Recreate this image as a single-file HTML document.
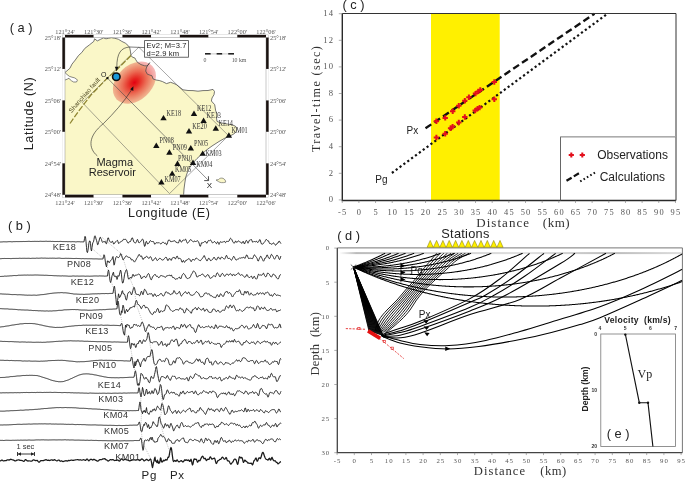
<!DOCTYPE html>
<html><head><meta charset="utf-8"><style>
html,body{margin:0;padding:0;background:#fff;}
svg{display:block;will-change:transform;}
</style></head><body>
<svg width="685" height="482" viewBox="0 0 685 482">
<rect width="685" height="482" fill="#fff"/>
<text x="9.8" y="32.4" font-size="12.8" font-family="'Liberation Sans', sans-serif" fill="#222" text-anchor="start" >( a )</text>
<path d="M65.0,72.4 L67.0,70.8 L69.9,68.3 L72.0,64.1 L75.3,60.0 L78.5,55.5 L81.8,52.5 L84.7,48.5 L89.4,44.9 L93.8,41.4 L94.6,38.8 L97.3,40.9 L100.8,39.2 L103.4,37.9 L106.0,38.8 L108.6,38.3 L111.3,37.7 L114.8,38.3 L118.3,39.2 L121.8,41.4 L125.3,43.1 L127.9,45.3 L129.7,47.5 L130.5,51.9 L131.0,55.4 L132.3,57.1 L134.9,58.0 L135.8,59.8 L137.5,62.4 L141.0,64.6 L144.7,65.8 L147.3,65.9 L146.3,68.0 L145.7,71.1 L147.3,74.2 L152.0,75.8 L153.0,78.9 L156.1,80.0 L159.2,80.5 L162.3,81.5 L166.5,83.6 L170.6,82.3 L174.0,83.5 L176.6,84.8 L180.0,87.5 L183.0,89.8 L188.0,90.5 L193.0,90.6 L198.0,91.2 L203.0,90.6 L208.0,90.5 L213.0,89.4 L214.5,91.5 L214.0,94.7 L212.0,98.0 L211.4,101.0 L214.7,104.7 L215.7,110.9 L218.0,115.0 L216.5,118.0 L217.0,121.4 L220.0,122.6 L223.6,123.4 L227.5,124.0 L231.5,124.7 L234.0,125.5 L236.0,126.7 L236.8,129.0 L236.2,131.5 L234.5,133.5 L231.0,135.5 L226.0,137.5 L219.0,141.5 L212.0,146.0 L206.5,150.0 L202.0,154.0 L197.0,158.5 L193.4,162.5 L190.0,167.0 L187.5,172.0 L185.8,177.0 L184.8,183.0 L184.0,189.0 L183.6,194.8 L65.0,194.8 Z" stroke="none" stroke-width="0.7" fill="#faf7c8" />
<path d="M65.0,72.6 L67.0,74.5 L69.5,76.4 L72.0,77.2 L74.4,77.8 L76.5,79.0 L77.4,80.2 L76.5,82.0 L73.6,82.0 L71.5,80.8 L70.3,79.9 L69.0,78.2 L67.2,79.2 L65.0,80.0 Z" stroke="none" stroke-width="0.6" fill="#fff" />
<defs><radialGradient id="blob" cx="0.5" cy="0.5" r="0.5"><stop offset="0" stop-color="#e80016"/><stop offset="0.2" stop-color="#ea2628"/><stop offset="0.55" stop-color="#f0706c"/><stop offset="0.88" stop-color="#f4aaa8"/><stop offset="1" stop-color="#f6bcba"/></radialGradient></defs>
<ellipse cx="0" cy="0" rx="24.5" ry="17.6" fill="url(#blob)" style="mix-blend-mode:multiply" transform="translate(134.4,82.6) rotate(-43)"/>
<path d="M65.0,72.4 L67.0,70.8 L69.9,68.3 L72.0,64.1 L75.3,60.0 L78.5,55.5 L81.8,52.5 L84.7,48.5 L89.4,44.9 L93.8,41.4 L94.6,38.8 L97.3,40.9 L100.8,39.2 L103.4,37.9 L106.0,38.8 L108.6,38.3 L111.3,37.7 L114.8,38.3 L118.3,39.2 L121.8,41.4 L125.3,43.1 L127.9,45.3 L129.7,47.5 L130.5,51.9 L131.0,55.4 L132.3,57.1 L134.9,58.0 L135.8,59.8 L137.5,62.4 L141.0,64.6 L144.7,65.8 L147.3,65.9 L146.3,68.0 L145.7,71.1 L147.3,74.2 L152.0,75.8 L153.0,78.9 L156.1,80.0 L159.2,80.5 L162.3,81.5 L166.5,83.6 L170.6,82.3 L174.0,83.5 L176.6,84.8 L180.0,87.5 L183.0,89.8 L188.0,90.5 L193.0,90.6 L198.0,91.2 L203.0,90.6 L208.0,90.5 L213.0,89.4 L214.5,91.5 L214.0,94.7 L212.0,98.0 L211.4,101.0 L214.7,104.7 L215.7,110.9 L218.0,115.0 L216.5,118.0 L217.0,121.4 L220.0,122.6 L223.6,123.4 L227.5,124.0 L231.5,124.7 L234.0,125.5 L236.0,126.7 L236.8,129.0 L236.2,131.5 L234.5,133.5 L231.0,135.5 L226.0,137.5 L219.0,141.5 L212.0,146.0 L206.5,150.0 L202.0,154.0 L197.0,158.5 L193.4,162.5 L190.0,167.0 L187.5,172.0 L185.8,177.0 L184.8,183.0 L184.0,189.0 L183.6,194.8" stroke="#4a4a4a" stroke-width="0.75" fill="none" />
<path d="M65.0,72.6 L67.0,74.5 L69.5,76.4 L72.0,77.2 L74.4,77.8 L76.5,79.0 L77.4,80.2 L76.5,82.0 L73.6,82.0 L71.5,80.8 L70.3,79.9 L69.0,78.2 L67.2,79.2 L65.0,80.0" stroke="#4a4a4a" stroke-width="0.65" fill="none" />
<path d="M216,180 L218.5,179.6 C219.5,178.1 221.5,177.8 223,178.3 C224.6,179 226,180.8 225.6,182.2 C223,183 220,182.8 218.5,181.6 Z" stroke="#555" stroke-width="0.6" fill="#faf7c8" />
<path d="M147.3,65.9 L149.8,62.6" stroke="#333" stroke-width="1.0" fill="none" />
<path d="M138.8,47.2 L228.5,135.6 L169.5,193.6 L82.3,102.5 Z" stroke="#505050" stroke-width="0.5" fill="none" />
<path d="M107.4,78.1 L208.4,180.4" stroke="#444" stroke-width="0.6" fill="none" />
<path d="M204.2,180.6 L208.6,180.6 L208.4,176.2" stroke="#333" stroke-width="0.85" fill="none" />
<text x="206.8" y="188.4" font-size="8" font-family="'Liberation Sans', sans-serif" fill="#222" text-anchor="start" >X</text>
<path d="M131,55.5 L116.5,70 L107.3,78.1 L91.1,94.9 L78.7,111 L70,123.5" stroke="#8f8530" stroke-width="1.25" fill="none" stroke-dasharray="6 1.8"/>
<text x="0.0" y="0.0" font-size="6.4" font-family="'Liberation Sans', sans-serif" fill="#55502a" text-anchor="start" transform="translate(71.6,113.2) rotate(-49)">Shanchiao fault</text>
<text x="101.0" y="76.6" font-size="7" font-family="'Liberation Sans', sans-serif" fill="#222" text-anchor="start" >O</text>
<circle cx="107.4" cy="78.1" r="1.2" fill="#111"/>
<rect x="144.6" y="40.6" width="43.8" height="16.6" fill="#fff" stroke="#444" stroke-width="0.8"/>
<text x="146.6" y="48.2" font-size="7.6" font-family="'Liberation Sans', sans-serif" fill="#222" text-anchor="start" letter-spacing="0.15">Ev2; M=3.7</text>
<text x="146.6" y="55.8" font-size="7.6" font-family="'Liberation Sans', sans-serif" fill="#222" text-anchor="start" letter-spacing="0.15">d=2.9 km</text>
<path d="M144.6,47.6 L130,47 C121,47.5 116.8,53 116.8,67.5" stroke="#222" stroke-width="0.6" fill="none" />
<path d="M116.6,71.2 L114.8,66.8 L118.5,66.8 Z" stroke="none" stroke-width="1" fill="#111" />
<circle cx="116.3" cy="76.8" r="3.75" fill="#1a9ad8" stroke="#111" stroke-width="1.6"/>
<path d="M97.3,155.9 C88,148 88,136 103.5,123.5 C114,113 124,102 131.8,89.5" stroke="#222" stroke-width="0.6" fill="none" />
<path d="M133.4,86.2 L133.3,91 L130.2,89.2 Z" stroke="none" stroke-width="1" fill="#111" />
<text x="114.8" y="165.8" font-size="11" font-family="'Liberation Sans', sans-serif" fill="#222" text-anchor="middle" >Magma</text>
<text x="112.3" y="175.8" font-size="11" font-family="'Liberation Sans', sans-serif" fill="#222" text-anchor="middle" >Reservoir</text>
<path d="M160.3,120.3 L166.7,120.3 L163.5,114.9 Z" stroke="none" stroke-width="1" fill="#111" />
<path d="M190.8,115.9 L197.2,115.9 L194.0,110.5 Z" stroke="none" stroke-width="1" fill="#111" />
<path d="M200.4,122.9 L206.8,122.9 L203.6,117.5 Z" stroke="none" stroke-width="1" fill="#111" />
<path d="M185.8,133.4 L192.2,133.4 L189.0,128.0 Z" stroke="none" stroke-width="1" fill="#111" />
<path d="M212.6,130.7 L219.0,130.7 L215.8,125.3 Z" stroke="none" stroke-width="1" fill="#111" />
<path d="M225.7,137.7 L232.1,137.7 L228.9,132.3 Z" stroke="none" stroke-width="1" fill="#111" />
<path d="M153.1,147.9 L159.5,147.9 L156.3,142.5 Z" stroke="none" stroke-width="1" fill="#111" />
<path d="M166.2,154.7 L172.6,154.7 L169.4,149.3 Z" stroke="none" stroke-width="1" fill="#111" />
<path d="M187.6,150.4 L194.0,150.4 L190.8,145.0 Z" stroke="none" stroke-width="1" fill="#111" />
<path d="M199.5,155.8 L205.9,155.8 L202.7,150.4 Z" stroke="none" stroke-width="1" fill="#111" />
<path d="M174.3,166.0 L180.7,166.0 L177.5,160.6 Z" stroke="none" stroke-width="1" fill="#111" />
<path d="M189.8,164.9 L196.2,164.9 L193.0,159.5 Z" stroke="none" stroke-width="1" fill="#111" />
<path d="M169.0,175.8 L175.4,175.8 L172.2,170.4 Z" stroke="none" stroke-width="1" fill="#111" />
<path d="M158.2,184.4 L164.6,184.4 L161.4,179.0 Z" stroke="none" stroke-width="1" fill="#111" />
<text x="0" y="0" font-size="8.4" font-family="'Liberation Serif', serif" fill="#333" transform="translate(166.6,116.1) scale(0.74,1)">KE18</text>
<text x="0" y="0" font-size="8.4" font-family="'Liberation Serif', serif" fill="#333" transform="translate(197.0,111.4) scale(0.74,1)">KE12</text>
<text x="0" y="0" font-size="8.4" font-family="'Liberation Serif', serif" fill="#333" transform="translate(206.4,118.4) scale(0.74,1)">KE13</text>
<text x="0" y="0" font-size="8.4" font-family="'Liberation Serif', serif" fill="#333" transform="translate(192.3,129.0) scale(0.74,1)">KE20</text>
<text x="0" y="0" font-size="8.4" font-family="'Liberation Serif', serif" fill="#333" transform="translate(218.4,125.7) scale(0.74,1)">KE14</text>
<text x="0" y="0" font-size="8.4" font-family="'Liberation Serif', serif" fill="#333" transform="translate(231.5,133.4) scale(0.74,1)">KM01</text>
<text x="0" y="0" font-size="8.4" font-family="'Liberation Serif', serif" fill="#333" transform="translate(159.6,143.1) scale(0.74,1)">PN08</text>
<text x="0" y="0" font-size="8.4" font-family="'Liberation Serif', serif" fill="#333" transform="translate(172.7,150.1) scale(0.74,1)">PN09</text>
<text x="0" y="0" font-size="8.4" font-family="'Liberation Serif', serif" fill="#333" transform="translate(194.0,145.8) scale(0.74,1)">PN05</text>
<text x="0" y="0" font-size="8.4" font-family="'Liberation Serif', serif" fill="#333" transform="translate(205.4,155.8) scale(0.74,1)">KM03</text>
<text x="0" y="0" font-size="8.4" font-family="'Liberation Serif', serif" fill="#333" transform="translate(178.0,161.0) scale(0.74,1)">PN10</text>
<text x="0" y="0" font-size="8.4" font-family="'Liberation Serif', serif" fill="#333" transform="translate(196.2,167.4) scale(0.74,1)">KM04</text>
<text x="0" y="0" font-size="8.4" font-family="'Liberation Serif', serif" fill="#333" transform="translate(174.9,171.9) scale(0.74,1)">KM05</text>
<text x="0" y="0" font-size="8.4" font-family="'Liberation Serif', serif" fill="#333" transform="translate(164.4,182.4) scale(0.74,1)">KM07</text>
<rect x="62.4" y="34.9" width="206.2" height="162.5" fill="none" stroke="#aaa" stroke-width="0.4"/>
<rect x="65.00" y="34.90" width="28.71" height="2.6" fill="#1a1210"/>
<rect x="65.00" y="194.80" width="28.71" height="2.6" fill="#1a1210"/>
<rect x="93.71" y="34.90" width="28.71" height="2.6" fill="#fff"/>
<rect x="93.71" y="194.80" width="28.71" height="2.6" fill="#fff"/>
<rect x="122.43" y="34.90" width="28.71" height="2.6" fill="#1a1210"/>
<rect x="122.43" y="194.80" width="28.71" height="2.6" fill="#1a1210"/>
<rect x="151.14" y="34.90" width="28.71" height="2.6" fill="#fff"/>
<rect x="151.14" y="194.80" width="28.71" height="2.6" fill="#fff"/>
<rect x="179.86" y="34.90" width="28.71" height="2.6" fill="#1a1210"/>
<rect x="179.86" y="194.80" width="28.71" height="2.6" fill="#1a1210"/>
<rect x="208.57" y="34.90" width="28.71" height="2.6" fill="#fff"/>
<rect x="208.57" y="194.80" width="28.71" height="2.6" fill="#fff"/>
<rect x="237.29" y="34.90" width="28.71" height="2.6" fill="#1a1210"/>
<rect x="237.29" y="194.80" width="28.71" height="2.6" fill="#1a1210"/>
<rect x="62.40" y="37.50" width="2.6" height="31.46" fill="#1a1210"/>
<rect x="266.00" y="37.50" width="2.6" height="31.46" fill="#1a1210"/>
<rect x="62.40" y="68.96" width="2.6" height="31.46" fill="#fff"/>
<rect x="266.00" y="68.96" width="2.6" height="31.46" fill="#fff"/>
<rect x="62.40" y="100.42" width="2.6" height="31.46" fill="#1a1210"/>
<rect x="266.00" y="100.42" width="2.6" height="31.46" fill="#1a1210"/>
<rect x="62.40" y="131.88" width="2.6" height="31.46" fill="#fff"/>
<rect x="266.00" y="131.88" width="2.6" height="31.46" fill="#fff"/>
<rect x="62.40" y="163.34" width="2.6" height="31.46" fill="#1a1210"/>
<rect x="266.00" y="163.34" width="2.6" height="31.46" fill="#1a1210"/>
<rect x="65.0" y="37.5" width="201.0" height="157.3" fill="none" stroke="#777" stroke-width="0.4"/>
<text x="65.0" y="33.5" font-size="6.3" font-family="'Liberation Serif', serif" fill="#555" text-anchor="middle" >121°24'</text>
<text x="65.0" y="205.0" font-size="6.3" font-family="'Liberation Serif', serif" fill="#555" text-anchor="middle" >121°24'</text>
<text x="93.7" y="33.5" font-size="6.3" font-family="'Liberation Serif', serif" fill="#555" text-anchor="middle" >121°30'</text>
<text x="93.7" y="205.0" font-size="6.3" font-family="'Liberation Serif', serif" fill="#555" text-anchor="middle" >121°30'</text>
<text x="122.4" y="33.5" font-size="6.3" font-family="'Liberation Serif', serif" fill="#555" text-anchor="middle" >121°36'</text>
<text x="122.4" y="205.0" font-size="6.3" font-family="'Liberation Serif', serif" fill="#555" text-anchor="middle" >121°36'</text>
<text x="151.1" y="33.5" font-size="6.3" font-family="'Liberation Serif', serif" fill="#555" text-anchor="middle" >121°42'</text>
<text x="151.1" y="205.0" font-size="6.3" font-family="'Liberation Serif', serif" fill="#555" text-anchor="middle" >121°42'</text>
<text x="179.9" y="33.5" font-size="6.3" font-family="'Liberation Serif', serif" fill="#555" text-anchor="middle" >121°48'</text>
<text x="179.9" y="205.0" font-size="6.3" font-family="'Liberation Serif', serif" fill="#555" text-anchor="middle" >121°48'</text>
<text x="208.6" y="33.5" font-size="6.3" font-family="'Liberation Serif', serif" fill="#555" text-anchor="middle" >121°54'</text>
<text x="208.6" y="205.0" font-size="6.3" font-family="'Liberation Serif', serif" fill="#555" text-anchor="middle" >121°54'</text>
<text x="237.3" y="33.5" font-size="6.3" font-family="'Liberation Serif', serif" fill="#555" text-anchor="middle" >122°00'</text>
<text x="237.3" y="205.0" font-size="6.3" font-family="'Liberation Serif', serif" fill="#555" text-anchor="middle" >122°00'</text>
<text x="266.0" y="33.5" font-size="6.3" font-family="'Liberation Serif', serif" fill="#555" text-anchor="middle" >122°06'</text>
<text x="266.0" y="205.0" font-size="6.3" font-family="'Liberation Serif', serif" fill="#555" text-anchor="middle" >122°06'</text>
<text x="61.0" y="39.7" font-size="6.3" font-family="'Liberation Serif', serif" fill="#555" text-anchor="end" >25°18'</text>
<text x="270.0" y="39.7" font-size="6.3" font-family="'Liberation Serif', serif" fill="#555" text-anchor="start" >25°18'</text>
<text x="61.0" y="71.2" font-size="6.3" font-family="'Liberation Serif', serif" fill="#555" text-anchor="end" >25°12'</text>
<text x="270.0" y="71.2" font-size="6.3" font-family="'Liberation Serif', serif" fill="#555" text-anchor="start" >25°12'</text>
<text x="61.0" y="102.6" font-size="6.3" font-family="'Liberation Serif', serif" fill="#555" text-anchor="end" >25°06'</text>
<text x="270.0" y="102.6" font-size="6.3" font-family="'Liberation Serif', serif" fill="#555" text-anchor="start" >25°06'</text>
<text x="61.0" y="134.1" font-size="6.3" font-family="'Liberation Serif', serif" fill="#555" text-anchor="end" >25°00'</text>
<text x="270.0" y="134.1" font-size="6.3" font-family="'Liberation Serif', serif" fill="#555" text-anchor="start" >25°00'</text>
<text x="61.0" y="165.5" font-size="6.3" font-family="'Liberation Serif', serif" fill="#555" text-anchor="end" >24°54'</text>
<text x="270.0" y="165.5" font-size="6.3" font-family="'Liberation Serif', serif" fill="#555" text-anchor="start" >24°54'</text>
<text x="61.0" y="197.0" font-size="6.3" font-family="'Liberation Serif', serif" fill="#555" text-anchor="end" >24°48'</text>
<text x="270.0" y="197.0" font-size="6.3" font-family="'Liberation Serif', serif" fill="#555" text-anchor="start" >24°48'</text>
<rect x="205.0" y="53" width="5.8" height="1.6" fill="#222"/>
<rect x="210.8" y="53" width="5.8" height="1.6" fill="#ddd"/>
<rect x="216.6" y="53" width="5.8" height="1.6" fill="#222"/>
<rect x="222.4" y="53" width="5.8" height="1.6" fill="#ddd"/>
<rect x="228.2" y="53" width="5.8" height="1.6" fill="#222"/>
<text x="205.0" y="62.0" font-size="5.8" font-family="'Liberation Serif', serif" fill="#555" text-anchor="middle" >0</text>
<text x="239.0" y="62.0" font-size="5.8" font-family="'Liberation Serif', serif" fill="#555" text-anchor="middle" >10 km</text>
<text x="128.0" y="216.9" font-size="12.6" font-family="'Liberation Sans', sans-serif" fill="#222" text-anchor="start" letter-spacing="0.53">Longitude (E)</text>
<text x="0.0" y="0.0" font-size="12.6" font-family="'Liberation Sans', sans-serif" fill="#222" text-anchor="start" letter-spacing="0.66" transform="translate(33.4,150.3) rotate(-90)">Latitude (N)</text>
<rect x="431" y="13.5" width="68.7" height="187.0" fill="#fff000"/>
<line x1="425.5" y1="128.3" x2="594.5" y2="13.7" stroke="#111" stroke-width="2.4" stroke-dasharray="7 3.6"/>
<line x1="391.9" y1="173.0" x2="607.5" y2="13.7" stroke="#111" stroke-width="2.2" stroke-dasharray="2.2 2.6"/>
<path d="M433.7,121.2 H439.1 M436.4,118.5 V123.9" stroke="#e3101c" stroke-width="2.0"/>
<path d="M442.5,117.9 H447.9 M445.2,115.2 V120.6" stroke="#e3101c" stroke-width="2.0"/>
<path d="M450.0,111.3 H455.4 M452.7,108.6 V114.0" stroke="#e3101c" stroke-width="2.0"/>
<path d="M456.1,105.7 H461.5 M458.8,103.0 V108.4" stroke="#e3101c" stroke-width="2.0"/>
<path d="M462.1,100.7 H467.5 M464.8,98.0 V103.4" stroke="#e3101c" stroke-width="2.0"/>
<path d="M466.2,97.3 H471.6 M468.9,94.6 V100.0" stroke="#e3101c" stroke-width="2.0"/>
<path d="M472.8,93.6 H478.2 M475.5,90.9 V96.3" stroke="#e3101c" stroke-width="2.0"/>
<path d="M475.6,91.4 H481.0 M478.3,88.7 V94.1" stroke="#e3101c" stroke-width="2.0"/>
<path d="M477.6,89.9 H483.0 M480.3,87.2 V92.6" stroke="#e3101c" stroke-width="2.0"/>
<path d="M491.6,82.0 H497.0 M494.3,79.3 V84.7" stroke="#e3101c" stroke-width="2.0"/>
<path d="M433.7,137.5 H439.1 M436.4,134.8 V140.2" stroke="#e3101c" stroke-width="2.0"/>
<path d="M442.5,133.7 H447.9 M445.2,131.0 V136.4" stroke="#e3101c" stroke-width="2.0"/>
<path d="M447.9,128.2 H453.3 M450.6,125.5 V130.9" stroke="#e3101c" stroke-width="2.0"/>
<path d="M449.9,126.6 H455.3 M452.6,123.9 V129.3" stroke="#e3101c" stroke-width="2.0"/>
<path d="M456.1,122.5 H461.5 M458.8,119.8 V125.2" stroke="#e3101c" stroke-width="2.0"/>
<path d="M462.1,117.0 H467.5 M464.8,114.3 V119.7" stroke="#e3101c" stroke-width="2.0"/>
<path d="M472.5,110.6 H477.9 M475.2,107.9 V113.3" stroke="#e3101c" stroke-width="2.0"/>
<path d="M474.9,108.6 H480.3 M477.6,105.9 V111.3" stroke="#e3101c" stroke-width="2.0"/>
<path d="M476.9,107.6 H482.3 M479.6,104.9 V110.3" stroke="#e3101c" stroke-width="2.0"/>
<path d="M491.6,99.2 H497.0 M494.3,96.5 V101.9" stroke="#e3101c" stroke-width="2.0"/>
<path d="M342.3,13.5 H676.0 V200.5" stroke="#333" stroke-width="1" fill="none"/>
<path d="M342.3,13.5 V200.5 H676.0" stroke="#2a2a2a" stroke-width="1.4" fill="none"/>
<line x1="342.24" y1="200.50" x2="342.24" y2="203.00" stroke="#777" stroke-width="0.6" />
<text x="342.8" y="214.6" font-size="8.4" font-family="'Liberation Serif', serif" fill="#555" text-anchor="middle" letter-spacing="1.2">-5</text>
<line x1="358.90" y1="200.50" x2="358.90" y2="203.00" stroke="#777" stroke-width="0.6" />
<text x="359.5" y="214.6" font-size="8.4" font-family="'Liberation Serif', serif" fill="#555" text-anchor="middle" letter-spacing="1.2">0</text>
<line x1="375.56" y1="200.50" x2="375.56" y2="203.00" stroke="#777" stroke-width="0.6" />
<text x="376.2" y="214.6" font-size="8.4" font-family="'Liberation Serif', serif" fill="#555" text-anchor="middle" letter-spacing="1.2">5</text>
<line x1="392.22" y1="200.50" x2="392.22" y2="203.00" stroke="#777" stroke-width="0.6" />
<text x="392.8" y="214.6" font-size="8.4" font-family="'Liberation Serif', serif" fill="#555" text-anchor="middle" letter-spacing="1.2">10</text>
<line x1="408.88" y1="200.50" x2="408.88" y2="203.00" stroke="#777" stroke-width="0.6" />
<text x="409.5" y="214.6" font-size="8.4" font-family="'Liberation Serif', serif" fill="#555" text-anchor="middle" letter-spacing="1.2">15</text>
<line x1="425.54" y1="200.50" x2="425.54" y2="203.00" stroke="#777" stroke-width="0.6" />
<text x="426.1" y="214.6" font-size="8.4" font-family="'Liberation Serif', serif" fill="#555" text-anchor="middle" letter-spacing="1.2">20</text>
<line x1="442.20" y1="200.50" x2="442.20" y2="203.00" stroke="#777" stroke-width="0.6" />
<text x="442.8" y="214.6" font-size="8.4" font-family="'Liberation Serif', serif" fill="#555" text-anchor="middle" letter-spacing="1.2">25</text>
<line x1="458.86" y1="200.50" x2="458.86" y2="203.00" stroke="#777" stroke-width="0.6" />
<text x="459.5" y="214.6" font-size="8.4" font-family="'Liberation Serif', serif" fill="#555" text-anchor="middle" letter-spacing="1.2">30</text>
<line x1="475.52" y1="200.50" x2="475.52" y2="203.00" stroke="#777" stroke-width="0.6" />
<text x="476.1" y="214.6" font-size="8.4" font-family="'Liberation Serif', serif" fill="#555" text-anchor="middle" letter-spacing="1.2">35</text>
<line x1="492.18" y1="200.50" x2="492.18" y2="203.00" stroke="#777" stroke-width="0.6" />
<text x="492.8" y="214.6" font-size="8.4" font-family="'Liberation Serif', serif" fill="#555" text-anchor="middle" letter-spacing="1.2">40</text>
<line x1="508.84" y1="200.50" x2="508.84" y2="203.00" stroke="#777" stroke-width="0.6" />
<text x="509.4" y="214.6" font-size="8.4" font-family="'Liberation Serif', serif" fill="#555" text-anchor="middle" letter-spacing="1.2">45</text>
<line x1="525.50" y1="200.50" x2="525.50" y2="203.00" stroke="#777" stroke-width="0.6" />
<text x="526.1" y="214.6" font-size="8.4" font-family="'Liberation Serif', serif" fill="#555" text-anchor="middle" letter-spacing="1.2">50</text>
<line x1="542.16" y1="200.50" x2="542.16" y2="203.00" stroke="#777" stroke-width="0.6" />
<text x="542.8" y="214.6" font-size="8.4" font-family="'Liberation Serif', serif" fill="#555" text-anchor="middle" letter-spacing="1.2">55</text>
<line x1="558.82" y1="200.50" x2="558.82" y2="203.00" stroke="#777" stroke-width="0.6" />
<text x="559.4" y="214.6" font-size="8.4" font-family="'Liberation Serif', serif" fill="#555" text-anchor="middle" letter-spacing="1.2">60</text>
<line x1="575.48" y1="200.50" x2="575.48" y2="203.00" stroke="#777" stroke-width="0.6" />
<text x="576.1" y="214.6" font-size="8.4" font-family="'Liberation Serif', serif" fill="#555" text-anchor="middle" letter-spacing="1.2">65</text>
<line x1="592.14" y1="200.50" x2="592.14" y2="203.00" stroke="#777" stroke-width="0.6" />
<text x="592.7" y="214.6" font-size="8.4" font-family="'Liberation Serif', serif" fill="#555" text-anchor="middle" letter-spacing="1.2">70</text>
<line x1="608.80" y1="200.50" x2="608.80" y2="203.00" stroke="#777" stroke-width="0.6" />
<text x="609.4" y="214.6" font-size="8.4" font-family="'Liberation Serif', serif" fill="#555" text-anchor="middle" letter-spacing="1.2">75</text>
<line x1="625.46" y1="200.50" x2="625.46" y2="203.00" stroke="#777" stroke-width="0.6" />
<text x="626.1" y="214.6" font-size="8.4" font-family="'Liberation Serif', serif" fill="#555" text-anchor="middle" letter-spacing="1.2">80</text>
<line x1="642.12" y1="200.50" x2="642.12" y2="203.00" stroke="#777" stroke-width="0.6" />
<text x="642.7" y="214.6" font-size="8.4" font-family="'Liberation Serif', serif" fill="#555" text-anchor="middle" letter-spacing="1.2">85</text>
<line x1="658.78" y1="200.50" x2="658.78" y2="203.00" stroke="#777" stroke-width="0.6" />
<text x="659.4" y="214.6" font-size="8.4" font-family="'Liberation Serif', serif" fill="#555" text-anchor="middle" letter-spacing="1.2">90</text>
<line x1="675.44" y1="200.50" x2="675.44" y2="203.00" stroke="#777" stroke-width="0.6" />
<text x="676.0" y="214.6" font-size="8.4" font-family="'Liberation Serif', serif" fill="#555" text-anchor="middle" letter-spacing="1.2">95</text>
<line x1="338.80" y1="199.90" x2="342.30" y2="199.90" stroke="#777" stroke-width="0.6" />
<text x="334.2" y="202.2" font-size="8.6" font-family="'Liberation Serif', serif" fill="#555" text-anchor="end" letter-spacing="1.2">0</text>
<line x1="338.80" y1="173.30" x2="342.30" y2="173.30" stroke="#777" stroke-width="0.6" />
<text x="334.2" y="175.6" font-size="8.6" font-family="'Liberation Serif', serif" fill="#555" text-anchor="end" letter-spacing="1.2">2</text>
<line x1="338.80" y1="146.70" x2="342.30" y2="146.70" stroke="#777" stroke-width="0.6" />
<text x="334.2" y="149.0" font-size="8.6" font-family="'Liberation Serif', serif" fill="#555" text-anchor="end" letter-spacing="1.2">4</text>
<line x1="338.80" y1="120.10" x2="342.30" y2="120.10" stroke="#777" stroke-width="0.6" />
<text x="334.2" y="122.4" font-size="8.6" font-family="'Liberation Serif', serif" fill="#555" text-anchor="end" letter-spacing="1.2">6</text>
<line x1="338.80" y1="93.50" x2="342.30" y2="93.50" stroke="#777" stroke-width="0.6" />
<text x="334.2" y="95.8" font-size="8.6" font-family="'Liberation Serif', serif" fill="#555" text-anchor="end" letter-spacing="1.2">8</text>
<line x1="338.80" y1="66.90" x2="342.30" y2="66.90" stroke="#777" stroke-width="0.6" />
<text x="334.2" y="69.2" font-size="8.6" font-family="'Liberation Serif', serif" fill="#555" text-anchor="end" letter-spacing="1.2">10</text>
<line x1="338.80" y1="40.30" x2="342.30" y2="40.30" stroke="#777" stroke-width="0.6" />
<text x="334.2" y="42.6" font-size="8.6" font-family="'Liberation Serif', serif" fill="#555" text-anchor="end" letter-spacing="1.2">12</text>
<line x1="338.80" y1="13.70" x2="342.30" y2="13.70" stroke="#777" stroke-width="0.6" />
<text x="334.2" y="16.0" font-size="8.6" font-family="'Liberation Serif', serif" fill="#555" text-anchor="end" letter-spacing="1.2">14</text>
<text x="0.0" y="0.0" font-size="12" font-family="'Liberation Serif', serif" fill="#333" text-anchor="start" letter-spacing="1.45" transform="translate(320.3,152.0) rotate(-90)">Travel-time (sec)</text>
<text x="476.3" y="227.3" font-size="13" font-family="'Liberation Serif', serif" fill="#333" text-anchor="start" letter-spacing="1.03">Distance</text>
<text x="542.8" y="227.3" font-size="13" font-family="'Liberation Serif', serif" fill="#333" text-anchor="start" letter-spacing="0.5">(km)</text>
<text x="342.4" y="9.2" font-size="12.8" font-family="'Liberation Sans', sans-serif" fill="#222" text-anchor="start" >( c )</text>
<text x="406.6" y="134.3" font-size="10" font-family="'Liberation Sans', sans-serif" fill="#222" text-anchor="start" >Px</text>
<text x="375.3" y="182.5" font-size="10" font-family="'Liberation Sans', sans-serif" fill="#222" text-anchor="start" >Pg</text>
<path d="M560.5,200.5 V136.8 H676.0" stroke="#555" stroke-width="0.9" fill="none"/>
<path d="M560.5,136.8 H676" stroke="#bbb" stroke-width="0.9" fill="none"/>
<path d="M568.7,155.0 H573.9 M571.3,152.4 V157.6" stroke="#e3101c" stroke-width="2.0"/>
<path d="M579.7,155.0 H584.9 M582.3,152.4 V157.6" stroke="#e3101c" stroke-width="2.0"/>
<text x="597.2" y="159.0" font-size="12" font-family="'Liberation Sans', sans-serif" fill="#222" text-anchor="start" >Observations</text>
<text x="599.7" y="181.4" font-size="12" font-family="'Liberation Sans', sans-serif" fill="#222" text-anchor="start" >Calculations</text>
<line x1="566.5" y1="180.8" x2="580.6" y2="172.3" stroke="#111" stroke-width="2.2" stroke-dasharray="6 2.5"/>
<line x1="580.2" y1="181.4" x2="595.5" y2="172.3" stroke="#111" stroke-width="2" stroke-dasharray="1.6 2.3"/>
<text x="8.0" y="230.3" font-size="12.8" font-family="'Liberation Sans', sans-serif" fill="#222" text-anchor="start" >( b )</text>
<path d="M0.0,242.01 L0.5,241.98 L1.0,241.95 L1.5,241.95 L2.0,241.94 L2.5,241.88 L3.0,241.81 L3.5,241.78 L4.0,241.80 L4.5,241.81 L5.0,241.81 L5.5,241.82 L6.0,241.84 L6.5,241.85 L7.0,241.83 L7.5,241.77 L8.0,241.71 L8.5,241.68 L9.0,241.66 L9.5,241.64 L10.0,241.64 L10.5,241.65 L11.0,241.70 L11.5,241.77 L12.0,241.81 L12.5,241.78 L13.0,241.69 L13.5,241.63 L14.0,241.62 L14.5,241.64 L15.0,241.64 L15.5,241.62 L16.0,241.59 L16.5,241.57 L17.0,241.58 L17.5,241.60 L18.0,241.61 L18.5,241.60 L19.0,241.59 L19.5,241.58 L20.0,241.56 L20.5,241.55 L21.0,241.55 L21.5,241.56 L22.0,241.56 L22.5,241.54 L23.0,241.50 L23.5,241.48 L24.0,241.50 L24.5,241.52 L25.0,241.52 L25.5,241.49 L26.0,241.47 L26.5,241.46 L27.0,241.44 L27.5,241.42 L28.0,241.38 L28.5,241.34 L29.0,241.32 L29.5,241.36 L30.0,241.42 L30.5,241.47 L31.0,241.49 L31.5,241.47 L32.0,241.45 L32.5,241.42 L33.0,241.42 L33.5,241.42 L34.0,241.41 L34.5,241.37 L35.0,241.37 L35.5,241.39 L36.0,241.41 L36.5,241.40 L37.0,241.38 L37.5,241.39 L38.0,241.44 L38.5,241.45 L39.0,241.41 L39.5,241.36 L40.0,241.31 L40.5,241.28 L41.0,241.30 L41.5,241.34 L42.0,241.38 L42.5,241.38 L43.0,241.38 L43.5,241.36 L44.0,241.36 L44.5,241.36 L45.0,241.34 L45.5,241.28 L46.0,241.23 L46.5,241.25 L47.0,241.32 L47.5,241.38 L48.0,241.38 L48.5,241.36 L49.0,241.35 L49.5,241.34 L50.0,241.31 L50.5,241.32 L51.0,241.40 L51.5,241.47 L52.0,241.46 L52.5,241.40 L53.0,241.40 L53.5,241.47 L54.0,241.52 L54.5,241.53 L55.0,241.52 L55.5,241.52 L56.0,241.52 L56.5,241.50 L57.0,241.47 L57.5,241.47 L58.0,241.52 L58.5,241.55 L59.0,241.53 L59.5,241.47 L60.0,241.41 L60.5,241.40 L61.0,241.43 L61.5,241.48 L62.0,241.52 L62.5,241.55 L63.0,241.57 L63.5,241.57 L64.0,241.57 L64.5,241.59 L65.0,241.61 L65.5,241.61 L66.0,241.59 L66.5,241.57 L67.0,241.61 L67.5,241.68 L68.0,241.70 L68.5,241.66 L69.0,241.61 L69.5,241.61 L70.0,241.66 L70.5,241.73 L71.0,241.76 L71.5,241.72 L72.0,241.65 L72.5,241.64 L73.0,241.68 L73.5,241.70 L74.0,241.68 L74.5,241.71 L75.0,241.79 L75.5,241.89 L76.0,241.91 L76.5,241.84 L77.0,241.75 L77.5,241.70 L78.0,241.69 L78.5,241.71 L79.0,241.72 L79.5,241.73 L80.0,241.79 L80.5,241.87 L81.0,241.89 L81.5,241.84 L82.0,241.83 L82.5,241.87 L83.0,241.88 L83.5,241.85 L84.0,241.82 L84.5,238.59 L85.0,236.33 L85.5,236.95 L86.0,241.36 L86.5,247.61 L87.0,252.23 L87.5,252.51 L88.0,250.21 L88.5,246.03 L89.0,242.68 L89.5,240.99 L90.0,240.91 L90.5,243.41 L91.0,249.31 L91.5,251.02 L92.0,247.61 L92.5,243.99 L93.0,242.22 L93.5,241.81 L94.0,239.32 L94.5,236.34 L95.0,235.77 L95.5,236.66 L96.0,238.91 L96.5,240.36 L97.0,242.14 L97.5,244.66 L98.0,244.60 L98.5,242.57 L99.0,241.04 L99.5,238.98 L100.0,237.35 L100.5,237.34 L101.0,238.79 L101.5,239.46 L102.0,241.36 L102.5,242.37 L103.0,241.97 L103.5,241.66 L104.0,242.15 L104.5,242.02 L105.0,241.26 L105.5,242.06 L106.0,243.63 L106.5,243.76 L107.0,242.04 L107.5,239.43 L108.0,237.75 L108.5,238.00 L109.0,239.89 L109.5,240.87 L110.0,241.70 L110.5,242.22 L111.0,242.68 L111.5,242.38 L112.0,241.38 L112.5,241.23 L113.0,242.35 L113.5,243.85 L114.0,244.10 L114.5,243.17 L115.0,242.27 L115.5,241.96 L116.0,241.67 L116.5,241.17 L117.0,240.46 L117.5,240.36 L118.0,241.76 L118.5,243.37 L119.0,243.53 L119.5,242.76 L120.0,242.18 L120.5,241.88 L121.0,241.60 L121.5,241.34 L122.0,241.25 L122.5,240.83 L123.0,239.98 L123.5,239.23 L124.0,239.09 L124.5,239.43 L125.0,239.56 L125.5,239.33 L126.0,239.54 L126.5,240.30 L127.0,241.32 L127.5,242.52 L128.0,243.21 L128.5,242.85 L129.0,242.03 L129.5,241.61 L130.0,241.72 L130.5,241.53 L131.0,240.32 L131.5,238.73 L132.0,237.80 L132.5,237.97 L133.0,239.30 L133.5,241.02 L134.0,242.11 L134.5,242.64 L135.0,242.90 L135.5,242.90 L136.0,242.64 L136.5,241.60 L137.0,239.98 L137.5,239.36 L138.0,240.56 L138.5,242.30 L139.0,242.95 L139.5,242.62 L140.0,242.24 L140.5,241.75 L141.0,241.05 L141.5,240.35 L142.0,239.59 L142.5,239.01 L143.0,239.36 L143.5,241.15 L144.0,244.01 L144.5,246.32 L145.0,246.16 L145.5,243.76 L146.0,241.60 L146.5,241.40 L147.0,242.73 L147.5,244.00 L148.0,244.02 L148.5,243.41 L149.0,242.90 L149.5,241.99 L150.0,240.86 L150.5,240.56 L151.0,241.04 L151.5,241.51 L152.0,241.63 L152.5,241.54 L153.0,241.42 L153.5,241.61 L154.0,242.61 L154.5,243.97 L155.0,244.36 L155.5,243.56 L156.0,242.74 L156.5,242.71 L157.0,242.89 L157.5,242.83 L158.0,242.80 L158.5,242.74 L159.0,242.65 L159.5,242.83 L160.0,243.33 L160.5,243.80 L161.0,243.93 L161.5,243.57 L162.0,242.78 L162.5,242.28 L163.0,242.23 L163.5,242.32 L164.0,242.85 L164.5,243.48 L165.0,243.27 L165.5,242.92 L166.0,243.75 L166.5,244.82 L167.0,244.42 L167.5,242.75 L168.0,241.11 L168.5,240.10 L169.0,239.72 L169.5,239.99 L170.0,240.73 L170.5,241.59 L171.0,241.97 L171.5,241.60 L172.0,241.29 L172.5,241.37 L173.0,241.27 L173.5,241.07 L174.0,240.92 L174.5,240.68 L175.0,240.83 L175.5,241.75 L176.0,242.46 L176.5,242.31 L177.0,242.31 L177.5,242.95 L178.0,243.37 L178.5,242.88 L179.0,241.40 L179.5,239.84 L180.0,239.62 L180.5,240.71 L181.0,241.88 L181.5,242.18 L182.0,241.49 L182.5,240.51 L183.0,239.99 L183.5,240.06 L184.0,240.36 L184.5,240.26 L185.0,239.57 L185.5,239.14 L186.0,239.90 L186.5,241.51 L187.0,242.77 L187.5,243.10 L188.0,242.86 L188.5,242.35 L189.0,241.65 L189.5,240.78 L190.0,239.94 L190.5,239.61 L191.0,239.88 L191.5,240.28 L192.0,240.54 L192.5,241.10 L193.0,241.88 L193.5,242.01 L194.0,241.40 L194.5,241.09 L195.0,241.32 L195.5,241.51 L196.0,241.52 L196.5,241.24 L197.0,240.76 L197.5,240.69 L198.0,241.16 L198.5,241.81 L199.0,242.99 L199.5,244.81 L200.0,246.25 L200.5,246.17 L201.0,244.47 L201.5,242.80 L202.0,242.50 L202.5,242.83 L203.0,242.82 L203.5,242.51 L204.0,242.06 L204.5,241.61 L205.0,241.38 L205.5,241.42 L206.0,242.02 L206.5,243.06 L207.0,243.37 L207.5,242.36 L208.0,240.94 L208.5,240.45 L209.0,240.82 L209.5,240.79 L210.0,240.26 L210.5,240.01 L211.0,240.35 L211.5,241.27 L212.0,242.32 L212.5,242.94 L213.0,242.91 L213.5,242.33 L214.0,241.69 L214.5,241.53 L215.0,241.87 L215.5,242.55 L216.0,243.36 L216.5,243.69 L217.0,242.88 L217.5,241.79 L218.0,242.09 L218.5,243.56 L219.0,244.41 L219.5,243.55 L220.0,242.12 L220.5,241.71 L221.0,242.09 L221.5,242.27 L222.0,242.11 L222.5,242.11 L223.0,242.23 L223.5,241.93 L224.0,241.32 L224.5,241.35 L225.0,242.25 L225.5,242.71 L226.0,242.03 L226.5,241.27 L227.0,241.23 L227.5,241.41 L228.0,241.42 L228.5,241.44 L229.0,241.07 L229.5,239.94 L230.0,238.73 L230.5,238.26 L231.0,238.55 L231.5,239.11 L232.0,239.90 L232.5,241.16 L233.0,242.30 L233.5,242.76 L234.0,243.08 L234.5,243.09 L235.0,242.08 L235.5,241.09 L236.0,241.30 L236.5,242.16 L237.0,242.48 L237.5,241.81 L238.0,240.99 L238.5,240.88 L239.0,241.30 L239.5,241.67 L240.0,241.86 L240.5,242.03 L241.0,242.55 L241.5,243.24 L242.0,243.22 L242.5,242.20 L243.0,241.25 L243.5,241.65 L244.0,243.20 L244.5,244.02 L245.0,243.05 L245.5,241.50 L246.0,240.57 L246.5,240.45 L247.0,241.19 L247.5,242.50 L248.0,243.23 L248.5,242.48 L249.0,241.00 L249.5,240.16 L250.0,240.13 L250.5,239.90 L251.0,239.38 L251.5,239.62 L252.0,240.85 L252.5,242.04 L253.0,242.25 L253.5,241.73 L254.0,241.32 L254.5,241.53 L255.0,242.06 L255.5,242.00 L256.0,241.30 L256.5,241.19 L257.0,241.84 L257.5,242.41 L258.0,242.46 L258.5,241.89 L259.0,240.86 L259.5,239.80 L260.0,239.59 L260.5,240.95 L261.0,242.92 L261.5,243.94 L262.0,244.09 L262.5,244.11 L263.0,243.97 L263.5,243.39 L264.0,242.57 L264.5,242.00 L265.0,241.41 L265.5,240.33 L266.0,239.45 L266.5,239.54 L267.0,240.22 L267.5,240.63 L268.0,240.56 L268.5,240.89 L269.0,242.16 L269.5,243.43 L270.0,243.74 L270.5,243.56 L271.0,243.67 L271.5,244.15 L272.0,244.40 L272.5,243.83 L273.0,243.04 L273.5,242.91 L274.0,243.22 L274.5,243.90 L275.0,244.75 L275.5,245.17 L276.0,245.02 L276.5,244.18 L277.0,243.33 L277.5,243.22 L278.0,243.04 L278.5,241.99 L279.0,241.05 L279.5,241.24 L280.0,242.11 L280.5,243.08 L281.0,243.67" stroke="#1a1a1a" stroke-width="0.9" fill="none" stroke-linejoin="round"/>
<text x="76.2" y="250.0" font-size="9.1" font-family="'Liberation Sans', sans-serif" fill="#333" text-anchor="end" letter-spacing="0.3">KE18</text>
<path d="M0.0,258.71 L0.5,258.72 L1.0,258.70 L1.5,258.64 L2.0,258.58 L2.5,258.52 L3.0,258.51 L3.5,258.52 L4.0,258.49 L4.5,258.46 L5.0,258.47 L5.5,258.51 L6.0,258.53 L6.5,258.51 L7.0,258.49 L7.5,258.49 L8.0,258.50 L8.5,258.49 L9.0,258.48 L9.5,258.50 L10.0,258.55 L10.5,258.60 L11.0,258.60 L11.5,258.57 L12.0,258.51 L12.5,258.46 L13.0,258.44 L13.5,258.45 L14.0,258.46 L14.5,258.45 L15.0,258.43 L15.5,258.42 L16.0,258.41 L16.5,258.40 L17.0,258.40 L17.5,258.42 L18.0,258.42 L18.5,258.39 L19.0,258.32 L19.5,258.26 L20.0,258.25 L20.5,258.30 L21.0,258.35 L21.5,258.36 L22.0,258.33 L22.5,258.30 L23.0,258.28 L23.5,258.30 L24.0,258.30 L24.5,258.29 L25.0,258.29 L25.5,258.32 L26.0,258.34 L26.5,258.34 L27.0,258.34 L27.5,258.31 L28.0,258.28 L28.5,258.27 L29.0,258.28 L29.5,258.32 L30.0,258.41 L30.5,258.45 L31.0,258.41 L31.5,258.33 L32.0,258.26 L32.5,258.26 L33.0,258.28 L33.5,258.28 L34.0,258.27 L34.5,258.30 L35.0,258.32 L35.5,258.30 L36.0,258.22 L36.5,258.14 L37.0,258.13 L37.5,258.18 L38.0,258.22 L38.5,258.24 L39.0,258.22 L39.5,258.19 L40.0,258.18 L40.5,258.14 L41.0,258.09 L41.5,258.04 L42.0,258.05 L42.5,258.11 L43.0,258.15 L43.5,258.16 L44.0,258.14 L44.5,258.12 L45.0,258.12 L45.5,258.14 L46.0,258.19 L46.5,258.23 L47.0,258.23 L47.5,258.23 L48.0,258.24 L48.5,258.27 L49.0,258.25 L49.5,258.20 L50.0,258.17 L50.5,258.19 L51.0,258.21 L51.5,258.22 L52.0,258.21 L52.5,258.17 L53.0,258.16 L53.5,258.19 L54.0,258.20 L54.5,258.19 L55.0,258.23 L55.5,258.30 L56.0,258.32 L56.5,258.28 L57.0,258.24 L57.5,258.21 L58.0,258.19 L58.5,258.14 L59.0,258.11 L59.5,258.13 L60.0,258.18 L60.5,258.26 L61.0,258.34 L61.5,258.40 L62.0,258.42 L62.5,258.42 L63.0,258.41 L63.5,258.41 L64.0,258.40 L64.5,258.39 L65.0,258.35 L65.5,258.31 L66.0,258.29 L66.5,258.32 L67.0,258.36 L67.5,258.37 L68.0,258.34 L68.5,258.33 L69.0,258.36 L69.5,258.40 L70.0,258.41 L70.5,258.40 L71.0,258.41 L71.5,258.45 L72.0,258.48 L72.5,258.48 L73.0,258.50 L73.5,258.53 L74.0,258.53 L74.5,258.50 L75.0,258.48 L75.5,258.46 L76.0,258.42 L76.5,258.41 L77.0,258.44 L77.5,258.49 L78.0,258.51 L78.5,258.52 L79.0,258.54 L79.5,258.55 L80.0,258.57 L80.5,258.63 L81.0,258.70 L81.5,258.71 L82.0,258.66 L82.5,258.60 L83.0,258.60 L83.5,258.64 L84.0,258.70 L84.5,258.73 L85.0,258.71 L85.5,258.69 L86.0,258.68 L86.5,258.69 L87.0,258.71 L87.5,258.75 L88.0,258.77 L88.5,258.76 L89.0,258.74 L89.5,258.74 L90.0,258.76 L90.5,258.77 L91.0,258.76 L91.5,258.76 L92.0,258.79 L92.5,258.83 L93.0,258.85 L93.5,258.87 L94.0,258.89 L94.5,258.88 L95.0,258.85 L95.5,258.85 L96.0,258.86 L96.5,258.86 L97.0,258.88 L97.5,258.92 L98.0,258.97 L98.5,259.00 L99.0,259.00 L99.5,259.00 L100.0,259.00 L100.5,259.01 L101.0,259.02 L101.5,259.02 L102.0,259.01 L102.5,258.97 L103.0,258.93 L103.5,256.45 L104.0,254.72 L104.5,255.35 L105.0,258.92 L105.5,262.89 L106.0,265.31 L106.5,266.92 L107.0,263.44 L107.5,261.03 L108.0,260.72 L108.5,262.10 L109.0,261.92 L109.5,262.61 L110.0,261.34 L110.5,260.56 L111.0,260.07 L111.5,259.86 L112.0,259.32 L112.5,257.31 L113.0,256.53 L113.5,261.03 L114.0,265.18 L114.5,264.33 L115.0,260.95 L115.5,259.02 L116.0,257.26 L116.5,256.53 L117.0,257.04 L117.5,257.14 L118.0,256.96 L118.5,257.60 L119.0,257.27 L119.5,256.49 L120.0,255.43 L120.5,253.66 L121.0,253.82 L121.5,255.16 L122.0,256.93 L122.5,258.53 L123.0,259.86 L123.5,259.49 L124.0,258.83 L124.5,257.93 L125.0,257.33 L125.5,256.57 L126.0,255.93 L126.5,255.82 L127.0,256.35 L127.5,256.96 L128.0,257.39 L128.5,257.34 L129.0,257.35 L129.5,257.44 L130.0,257.60 L130.5,258.00 L131.0,259.10 L131.5,260.07 L132.0,260.05 L132.5,259.80 L133.0,259.84 L133.5,260.42 L134.0,261.62 L134.5,262.13 L135.0,261.45 L135.5,260.70 L136.0,259.87 L136.5,258.69 L137.0,257.72 L137.5,257.29 L138.0,256.36 L138.5,255.14 L139.0,254.36 L139.5,254.66 L140.0,255.65 L140.5,256.41 L141.0,256.18 L141.5,255.91 L142.0,257.04 L142.5,258.75 L143.0,259.60 L143.5,259.11 L144.0,258.00 L144.5,257.69 L145.0,257.93 L145.5,257.53 L146.0,256.52 L146.5,256.19 L147.0,256.78 L147.5,257.17 L148.0,257.46 L148.5,258.18 L149.0,258.56 L149.5,257.80 L150.0,256.83 L150.5,256.69 L151.0,257.26 L151.5,258.36 L152.0,259.86 L152.5,260.69 L153.0,260.50 L153.5,260.12 L154.0,259.70 L154.5,258.92 L155.0,258.10 L155.5,257.71 L156.0,258.16 L156.5,259.48 L157.0,260.51 L157.5,260.38 L158.0,259.74 L158.5,259.42 L159.0,259.14 L159.5,258.43 L160.0,257.95 L160.5,258.45 L161.0,259.25 L161.5,259.58 L162.0,259.75 L162.5,260.06 L163.0,260.21 L163.5,259.74 L164.0,258.98 L164.5,258.46 L165.0,258.03 L165.5,257.37 L166.0,256.99 L166.5,257.52 L167.0,258.83 L167.5,260.24 L168.0,260.73 L168.5,260.03 L169.0,258.82 L169.5,258.24 L170.0,258.79 L170.5,259.76 L171.0,260.47 L171.5,260.07 L172.0,258.63 L172.5,257.80 L173.0,257.80 L173.5,257.45 L174.0,257.01 L174.5,257.63 L175.0,258.72 L175.5,258.90 L176.0,258.02 L176.5,256.74 L177.0,255.94 L177.5,256.38 L178.0,257.81 L178.5,258.85 L179.0,258.77 L179.5,258.37 L180.0,258.38 L180.5,258.68 L181.0,259.40 L181.5,260.87 L182.0,262.25 L182.5,262.06 L183.0,260.75 L183.5,260.49 L184.0,261.61 L184.5,262.36 L185.0,261.89 L185.5,260.80 L186.0,260.11 L186.5,260.19 L187.0,260.25 L187.5,259.66 L188.0,258.95 L188.5,258.73 L189.0,258.72 L189.5,258.92 L190.0,259.63 L190.5,260.79 L191.0,261.66 L191.5,261.35 L192.0,260.28 L192.5,259.45 L193.0,259.21 L193.5,259.48 L194.0,260.05 L194.5,260.24 L195.0,259.53 L195.5,258.49 L196.0,258.07 L196.5,258.16 L197.0,258.45 L197.5,258.98 L198.0,259.46 L198.5,259.69 L199.0,259.85 L199.5,260.30 L200.0,260.85 L200.5,260.66 L201.0,259.93 L201.5,259.43 L202.0,258.91 L202.5,258.16 L203.0,257.43 L203.5,256.44 L204.0,255.48 L204.5,255.85 L205.0,257.32 L205.5,258.44 L206.0,259.25 L206.5,260.42 L207.0,261.07 L207.5,260.37 L208.0,259.13 L208.5,258.29 L209.0,258.23 L209.5,258.91 L210.0,259.87 L210.5,260.61 L211.0,260.67 L211.5,260.10 L212.0,259.64 L212.5,259.49 L213.0,258.85 L213.5,257.68 L214.0,257.07 L214.5,257.52 L215.0,258.58 L215.5,259.58 L216.0,260.08 L216.5,259.99 L217.0,259.21 L217.5,258.04 L218.0,257.17 L218.5,257.11 L219.0,257.83 L219.5,258.79 L220.0,259.35 L220.5,258.87 L221.0,257.69 L221.5,257.03 L222.0,257.15 L222.5,257.50 L223.0,258.02 L223.5,258.61 L224.0,259.08 L224.5,259.14 L225.0,258.53 L225.5,257.39 L226.0,255.98 L226.5,255.29 L227.0,256.21 L227.5,257.78 L228.0,258.62 L228.5,258.48 L229.0,258.05 L229.5,258.11 L230.0,258.73 L230.5,259.43 L231.0,259.96 L231.5,260.17 L232.0,259.70 L232.5,258.64 L233.0,257.42 L233.5,256.48 L234.0,256.41 L234.5,257.25 L235.0,258.54 L235.5,259.59 L236.0,259.95 L236.5,259.97 L237.0,259.68 L237.5,259.02 L238.0,258.79 L238.5,258.95 L239.0,258.54 L239.5,257.86 L240.0,257.91 L240.5,258.21 L241.0,258.02 L241.5,257.75 L242.0,257.76 L242.5,257.76 L243.0,257.59 L243.5,257.31 L244.0,257.32 L244.5,258.07 L245.0,258.52 L245.5,257.56 L246.0,255.96 L246.5,254.95 L247.0,255.09 L247.5,256.09 L248.0,257.39 L248.5,258.50 L249.0,258.82 L249.5,258.28 L250.0,257.92 L250.5,258.22 L251.0,258.55 L251.5,258.47 L252.0,258.51 L252.5,258.67 L253.0,257.89 L253.5,256.34 L254.0,255.21 L254.5,254.93 L255.0,255.32 L255.5,256.15 L256.0,256.93 L256.5,257.47 L257.0,258.26 L257.5,259.76 L258.0,261.09 L258.5,260.89 L259.0,259.50 L259.5,258.27 L260.0,257.28 L260.5,256.31 L261.0,256.30 L261.5,257.34 L262.0,258.48 L262.5,259.56 L263.0,260.64 L263.5,261.25 L264.0,260.65 L264.5,259.09 L265.0,257.99 L265.5,257.94 L266.0,257.64 L266.5,256.14 L267.0,254.83 L267.5,255.22 L268.0,256.58 L268.5,257.76 L269.0,258.50 L269.5,258.59 L270.0,257.86 L270.5,256.52 L271.0,255.02 L271.5,254.31 L272.0,254.76 L272.5,255.60 L273.0,256.42 L273.5,257.50 L274.0,258.65 L274.5,259.15 L275.0,258.76 L275.5,257.76 L276.0,256.49 L276.5,255.46 L277.0,255.11 L277.5,255.41 L278.0,256.19 L278.5,257.48 L279.0,258.91 L279.5,259.58 L280.0,258.78 L280.5,256.94 L281.0,256.00" stroke="#1a1a1a" stroke-width="0.9" fill="none" stroke-linejoin="round"/>
<text x="91.0" y="267.1" font-size="9.1" font-family="'Liberation Sans', sans-serif" fill="#333" text-anchor="end" letter-spacing="0.3">PN08</text>
<path d="M0.0,276.48 L0.5,276.48 L1.0,276.46 L1.5,276.41 L2.0,276.36 L2.5,276.36 L3.0,276.38 L3.5,276.35 L4.0,276.24 L4.5,276.12 L5.0,276.09 L5.5,276.14 L6.0,276.18 L6.5,276.16 L7.0,276.10 L7.5,276.04 L8.0,276.01 L8.5,276.00 L9.0,275.98 L9.5,275.92 L10.0,275.85 L10.5,275.82 L11.0,275.83 L11.5,275.82 L12.0,275.77 L12.5,275.69 L13.0,275.61 L13.5,275.57 L14.0,275.54 L14.5,275.53 L15.0,275.55 L15.5,275.57 L16.0,275.59 L16.5,275.59 L17.0,275.54 L17.5,275.44 L18.0,275.31 L18.5,275.22 L19.0,275.20 L19.5,275.23 L20.0,275.25 L20.5,275.22 L21.0,275.19 L21.5,275.18 L22.0,275.17 L22.5,275.16 L23.0,275.14 L23.5,275.12 L24.0,275.10 L24.5,275.07 L25.0,275.07 L25.5,275.10 L26.0,275.14 L26.5,275.12 L27.0,275.07 L27.5,275.03 L28.0,275.05 L28.5,275.10 L29.0,275.13 L29.5,275.11 L30.0,275.08 L30.5,275.07 L31.0,275.08 L31.5,275.10 L32.0,275.11 L32.5,275.10 L33.0,275.09 L33.5,275.07 L34.0,275.03 L34.5,275.00 L35.0,274.99 L35.5,274.99 L36.0,275.01 L36.5,275.03 L37.0,275.03 L37.5,275.02 L38.0,275.03 L38.5,275.07 L39.0,275.10 L39.5,275.12 L40.0,275.14 L40.5,275.15 L41.0,275.16 L41.5,275.18 L42.0,275.18 L42.5,275.19 L43.0,275.20 L43.5,275.23 L44.0,275.27 L44.5,275.30 L45.0,275.29 L45.5,275.25 L46.0,275.24 L46.5,275.27 L47.0,275.32 L47.5,275.34 L48.0,275.37 L48.5,275.43 L49.0,275.47 L49.5,275.47 L50.0,275.47 L50.5,275.47 L51.0,275.47 L51.5,275.50 L52.0,275.54 L52.5,275.58 L53.0,275.61 L53.5,275.67 L54.0,275.72 L54.5,275.72 L55.0,275.72 L55.5,275.73 L56.0,275.76 L56.5,275.78 L57.0,275.82 L57.5,275.85 L58.0,275.85 L58.5,275.83 L59.0,275.84 L59.5,275.88 L60.0,275.92 L60.5,275.95 L61.0,275.97 L61.5,275.94 L62.0,275.88 L62.5,275.84 L63.0,275.88 L63.5,275.95 L64.0,275.97 L64.5,275.95 L65.0,275.95 L65.5,275.97 L66.0,276.01 L66.5,276.02 L67.0,276.04 L67.5,276.08 L68.0,276.15 L68.5,276.20 L69.0,276.21 L69.5,276.20 L70.0,276.20 L70.5,276.20 L71.0,276.20 L71.5,276.16 L72.0,276.08 L72.5,276.00 L73.0,275.95 L73.5,275.96 L74.0,276.00 L74.5,276.05 L75.0,276.10 L75.5,276.13 L76.0,276.11 L76.5,276.07 L77.0,276.04 L77.5,276.04 L78.0,276.08 L78.5,276.13 L79.0,276.15 L79.5,276.14 L80.0,276.11 L80.5,276.10 L81.0,276.09 L81.5,276.07 L82.0,276.06 L82.5,276.06 L83.0,276.05 L83.5,276.06 L84.0,276.09 L84.5,276.14 L85.0,276.20 L85.5,276.23 L86.0,276.20 L86.5,276.14 L87.0,276.12 L87.5,276.13 L88.0,276.13 L88.5,276.15 L89.0,276.20 L89.5,276.22 L90.0,276.21 L90.5,276.17 L91.0,276.15 L91.5,276.14 L92.0,276.13 L92.5,276.10 L93.0,276.07 L93.5,276.03 L94.0,276.00 L94.5,275.98 L95.0,275.97 L95.5,275.97 L96.0,275.98 L96.5,275.98 L97.0,276.00 L97.5,276.04 L98.0,276.07 L98.5,276.04 L99.0,275.95 L99.5,275.90 L100.0,275.91 L100.5,275.94 L101.0,275.96 L101.5,275.97 L102.0,275.99 L102.5,276.00 L103.0,276.00 L103.5,276.02 L104.0,276.09 L104.5,276.15 L105.0,276.14 L105.5,276.11 L106.0,276.07 L106.5,276.04 L107.0,276.03 L107.5,276.05 L108.0,271.62 L108.5,270.09 L109.0,272.13 L109.5,276.59 L110.0,280.76 L110.5,282.51 L111.0,281.21 L111.5,278.93 L112.0,275.70 L112.5,275.04 L113.0,272.92 L113.5,272.16 L114.0,275.98 L114.5,276.40 L115.0,275.77 L115.5,276.82 L116.0,276.75 L116.5,276.47 L117.0,279.48 L117.5,277.79 L118.0,275.57 L118.5,276.16 L119.0,276.22 L119.5,274.07 L120.0,272.02 L120.5,270.05 L121.0,271.16 L121.5,274.88 L122.0,280.46 L122.5,283.05 L123.0,282.98 L123.5,280.94 L124.0,278.44 L124.5,274.84 L125.0,272.81 L125.5,271.49 L126.0,270.18 L126.5,269.50 L127.0,270.93 L127.5,274.11 L128.0,277.20 L128.5,279.04 L129.0,279.07 L129.5,278.79 L130.0,278.04 L130.5,277.20 L131.0,277.83 L131.5,278.18 L132.0,277.04 L132.5,275.18 L133.0,274.26 L133.5,275.04 L134.0,276.34 L134.5,276.18 L135.0,275.36 L135.5,275.20 L136.0,275.40 L136.5,275.09 L137.0,274.85 L137.5,274.75 L138.0,274.38 L138.5,274.10 L139.0,274.14 L139.5,274.48 L140.0,275.06 L140.5,276.02 L141.0,277.81 L141.5,278.87 L142.0,278.11 L142.5,277.22 L143.0,277.20 L143.5,276.92 L144.0,276.21 L144.5,276.27 L145.0,277.01 L145.5,277.62 L146.0,277.61 L146.5,276.90 L147.0,275.74 L147.5,274.58 L148.0,273.83 L148.5,273.51 L149.0,274.03 L149.5,275.54 L150.0,277.23 L150.5,278.71 L151.0,279.78 L151.5,279.67 L152.0,278.36 L152.5,276.97 L153.0,276.15 L153.5,275.76 L154.0,275.42 L154.5,274.68 L155.0,274.16 L155.5,274.85 L156.0,275.92 L156.5,276.39 L157.0,276.35 L157.5,276.33 L158.0,276.77 L158.5,277.61 L159.0,277.79 L159.5,277.09 L160.0,276.22 L160.5,275.75 L161.0,275.62 L161.5,275.58 L162.0,275.77 L162.5,276.03 L163.0,276.08 L163.5,276.27 L164.0,276.54 L164.5,276.75 L165.0,277.17 L165.5,277.39 L166.0,276.78 L166.5,275.88 L167.0,275.51 L167.5,275.70 L168.0,275.85 L168.5,275.43 L169.0,274.90 L169.5,275.19 L170.0,275.90 L170.5,275.79 L171.0,275.00 L171.5,275.09 L172.0,276.28 L172.5,277.41 L173.0,277.82 L173.5,277.58 L174.0,277.51 L174.5,278.26 L175.0,279.16 L175.5,279.31 L176.0,278.94 L176.5,278.80 L177.0,278.91 L177.5,278.78 L178.0,278.38 L178.5,277.80 L179.0,277.15 L179.5,277.15 L180.0,278.13 L180.5,278.98 L181.0,278.47 L181.5,276.89 L182.0,275.48 L182.5,274.66 L183.0,273.90 L183.5,273.46 L184.0,273.78 L184.5,274.41 L185.0,275.09 L185.5,276.01 L186.0,277.14 L186.5,278.02 L187.0,278.43 L187.5,278.56 L188.0,278.58 L188.5,278.31 L189.0,277.81 L189.5,277.72 L190.0,277.57 L190.5,276.61 L191.0,275.25 L191.5,274.18 L192.0,273.59 L192.5,272.82 L193.0,271.62 L193.5,270.90 L194.0,271.11 L194.5,271.65 L195.0,272.21 L195.5,273.05 L196.0,274.49 L196.5,276.27 L197.0,277.22 L197.5,276.91 L198.0,276.29 L198.5,276.01 L199.0,275.78 L199.5,275.52 L200.0,275.50 L200.5,275.44 L201.0,274.98 L201.5,274.45 L202.0,274.15 L202.5,274.09 L203.0,274.26 L203.5,274.81 L204.0,275.70 L204.5,276.36 L205.0,276.66 L205.5,276.86 L206.0,276.62 L206.5,275.82 L207.0,275.01 L207.5,274.57 L208.0,274.57 L208.5,275.06 L209.0,276.11 L209.5,277.47 L210.0,278.33 L210.5,278.23 L211.0,277.81 L211.5,277.71 L212.0,277.67 L212.5,277.08 L213.0,276.22 L213.5,275.67 L214.0,275.54 L214.5,275.85 L215.0,276.54 L215.5,276.71 L216.0,275.56 L216.5,273.83 L217.0,272.89 L217.5,272.98 L218.0,273.46 L218.5,274.24 L219.0,275.37 L219.5,276.44 L220.0,276.94 L220.5,276.46 L221.0,275.22 L221.5,274.08 L222.0,273.52 L222.5,273.46 L223.0,273.87 L223.5,274.67 L224.0,275.58 L224.5,276.24 L225.0,276.27 L225.5,275.56 L226.0,274.72 L226.5,274.03 L227.0,273.73 L227.5,274.11 L228.0,274.90 L228.5,275.32 L229.0,274.95 L229.5,274.23 L230.0,273.75 L230.5,273.69 L231.0,274.05 L231.5,274.84 L232.0,275.66 L232.5,275.62 L233.0,274.59 L233.5,273.95 L234.0,274.58 L234.5,275.44 L235.0,275.59 L235.5,275.22 L236.0,274.74 L236.5,274.53 L237.0,274.38 L237.5,273.83 L238.0,273.05 L238.5,272.78 L239.0,273.56 L239.5,274.67 L240.0,275.16 L240.5,275.25 L241.0,275.12 L241.5,274.66 L242.0,274.45 L242.5,274.92 L243.0,275.68 L243.5,276.29 L244.0,276.84 L244.5,277.22 L245.0,277.19 L245.5,276.85 L246.0,276.05 L246.5,274.84 L247.0,274.39 L247.5,275.26 L248.0,276.52 L248.5,277.16 L249.0,277.34 L249.5,277.50 L250.0,277.39 L250.5,276.83 L251.0,276.18 L251.5,276.18 L252.0,277.24 L252.5,278.44 L253.0,278.48 L253.5,277.34 L254.0,276.27 L254.5,276.43 L255.0,277.56 L255.5,278.63 L256.0,279.08 L256.5,279.08 L257.0,278.56 L257.5,277.11 L258.0,275.26 L258.5,274.19 L259.0,274.44 L259.5,275.21 L260.0,275.28 L260.5,274.93 L261.0,274.94 L261.5,275.16 L262.0,275.23 L262.5,274.61 L263.0,273.46 L263.5,273.16 L264.0,274.17 L264.5,275.50 L265.0,276.33 L265.5,276.67 L266.0,276.78 L266.5,276.05 L267.0,274.36 L267.5,273.13 L268.0,273.06 L268.5,273.46 L269.0,273.88 L269.5,274.50 L270.0,275.44 L270.5,276.48 L271.0,277.07 L271.5,276.98 L272.0,276.28 L272.5,275.16 L273.0,274.16 L273.5,273.95 L274.0,274.55 L274.5,275.22 L275.0,275.33 L275.5,275.65 L276.0,276.82 L276.5,277.91 L277.0,278.32 L277.5,278.69 L278.0,279.10 L278.5,278.73 L279.0,277.30 L279.5,275.78 L280.0,274.96 L280.5,274.69 L281.0,274.92" stroke="#1a1a1a" stroke-width="0.9" fill="none" stroke-linejoin="round"/>
<text x="94.2" y="284.5" font-size="9.1" font-family="'Liberation Sans', sans-serif" fill="#333" text-anchor="end" letter-spacing="0.3">KE12</text>
<path d="M0.0,293.88 L0.5,293.86 L1.0,293.88 L1.5,293.92 L2.0,293.97 L2.5,294.02 L3.0,294.04 L3.5,294.06 L4.0,294.08 L4.5,294.10 L5.0,294.09 L5.5,294.11 L6.0,294.16 L6.5,294.21 L7.0,294.21 L7.5,294.20 L8.0,294.22 L8.5,294.25 L9.0,294.29 L9.5,294.34 L10.0,294.40 L10.5,294.46 L11.0,294.52 L11.5,294.56 L12.0,294.59 L12.5,294.62 L13.0,294.62 L13.5,294.59 L14.0,294.57 L14.5,294.56 L15.0,294.56 L15.5,294.58 L16.0,294.61 L16.5,294.66 L17.0,294.73 L17.5,294.79 L18.0,294.79 L18.5,294.75 L19.0,294.72 L19.5,294.73 L20.0,294.75 L20.5,294.78 L21.0,294.80 L21.5,294.84 L22.0,294.88 L22.5,294.92 L23.0,294.94 L23.5,294.95 L24.0,295.00 L24.5,295.06 L25.0,295.10 L25.5,295.11 L26.0,295.10 L26.5,295.13 L27.0,295.20 L27.5,295.23 L28.0,295.20 L28.5,295.16 L29.0,295.15 L29.5,295.16 L30.0,295.18 L30.5,295.20 L31.0,295.23 L31.5,295.24 L32.0,295.24 L32.5,295.20 L33.0,295.14 L33.5,295.11 L34.0,295.10 L34.5,295.12 L35.0,295.15 L35.5,295.20 L36.0,295.26 L36.5,295.27 L37.0,295.21 L37.5,295.12 L38.0,295.05 L38.5,295.03 L39.0,294.99 L39.5,294.91 L40.0,294.82 L40.5,294.76 L41.0,294.71 L41.5,294.67 L42.0,294.63 L42.5,294.60 L43.0,294.58 L43.5,294.54 L44.0,294.46 L44.5,294.37 L45.0,294.30 L45.5,294.24 L46.0,294.17 L46.5,294.09 L47.0,294.01 L47.5,293.90 L48.0,293.81 L48.5,293.75 L49.0,293.69 L49.5,293.60 L50.0,293.51 L50.5,293.45 L51.0,293.42 L51.5,293.37 L52.0,293.29 L52.5,293.21 L53.0,293.14 L53.5,293.10 L54.0,293.05 L54.5,293.00 L55.0,292.97 L55.5,292.95 L56.0,292.93 L56.5,292.89 L57.0,292.85 L57.5,292.81 L58.0,292.77 L58.5,292.75 L59.0,292.77 L59.5,292.78 L60.0,292.73 L60.5,292.67 L61.0,292.63 L61.5,292.62 L62.0,292.63 L62.5,292.68 L63.0,292.76 L63.5,292.83 L64.0,292.84 L64.5,292.80 L65.0,292.79 L65.5,292.82 L66.0,292.86 L66.5,292.91 L67.0,292.97 L67.5,293.03 L68.0,293.09 L68.5,293.15 L69.0,293.22 L69.5,293.30 L70.0,293.40 L70.5,293.49 L71.0,293.56 L71.5,293.61 L72.0,293.64 L72.5,293.72 L73.0,293.85 L73.5,293.98 L74.0,294.04 L74.5,294.05 L75.0,294.05 L75.5,294.05 L76.0,294.05 L76.5,294.07 L77.0,294.12 L77.5,294.16 L78.0,294.18 L78.5,294.19 L79.0,294.21 L79.5,294.26 L80.0,294.29 L80.5,294.28 L81.0,294.26 L81.5,294.25 L82.0,294.25 L82.5,294.28 L83.0,294.33 L83.5,294.37 L84.0,294.39 L84.5,294.36 L85.0,294.31 L85.5,294.26 L86.0,294.22 L86.5,294.22 L87.0,294.23 L87.5,294.21 L88.0,294.18 L88.5,294.18 L89.0,294.18 L89.5,294.14 L90.0,294.07 L90.5,294.02 L91.0,294.00 L91.5,293.98 L92.0,293.94 L92.5,293.88 L93.0,293.84 L93.5,293.85 L94.0,293.87 L94.5,293.86 L95.0,293.82 L95.5,293.81 L96.0,293.82 L96.5,293.84 L97.0,293.83 L97.5,293.77 L98.0,293.70 L98.5,293.69 L99.0,293.74 L99.5,293.78 L100.0,293.76 L100.5,293.70 L101.0,293.66 L101.5,293.62 L102.0,293.58 L102.5,293.58 L103.0,293.58 L103.5,293.59 L104.0,293.62 L104.5,293.64 L105.0,293.59 L105.5,293.52 L106.0,293.49 L106.5,293.52 L107.0,293.57 L107.5,293.61 L108.0,293.63 L108.5,293.59 L109.0,293.51 L109.5,293.46 L110.0,293.45 L110.5,293.45 L111.0,293.46 L111.5,293.46 L112.0,293.43 L112.5,293.39 L113.0,293.36 L113.5,289.94 L114.0,286.81 L114.5,286.19 L115.0,289.87 L115.5,294.97 L116.0,299.36 L116.5,304.97 L117.0,303.99 L117.5,300.66 L118.0,297.71 L118.5,293.81 L119.0,295.69 L119.5,297.71 L120.0,297.00 L120.5,296.14 L121.0,294.32 L121.5,294.15 L122.0,291.16 L122.5,290.67 L123.0,292.94 L123.5,293.99 L124.0,294.31 L124.5,294.15 L125.0,295.60 L125.5,297.78 L126.0,299.81 L126.5,300.09 L127.0,298.28 L127.5,294.69 L128.0,293.16 L128.5,292.45 L129.0,292.37 L129.5,291.76 L130.0,291.61 L130.5,292.25 L131.0,293.92 L131.5,294.92 L132.0,293.93 L132.5,292.12 L133.0,290.10 L133.5,288.16 L134.0,287.25 L134.5,288.01 L135.0,290.31 L135.5,292.55 L136.0,293.89 L136.5,294.25 L137.0,294.64 L137.5,294.53 L138.0,294.28 L138.5,294.48 L139.0,295.12 L139.5,295.79 L140.0,295.41 L140.5,293.88 L141.0,291.99 L141.5,291.20 L142.0,292.33 L142.5,294.01 L143.0,294.72 L143.5,293.32 L144.0,290.68 L144.5,289.26 L145.0,289.48 L145.5,290.24 L146.0,291.15 L146.5,292.23 L147.0,293.46 L147.5,294.51 L148.0,294.70 L148.5,294.11 L149.0,293.90 L149.5,293.75 L150.0,293.55 L150.5,293.91 L151.0,294.01 L151.5,293.52 L152.0,294.07 L152.5,295.60 L153.0,296.60 L153.5,296.11 L154.0,294.80 L154.5,293.88 L155.0,293.93 L155.5,294.85 L156.0,296.03 L156.5,296.48 L157.0,296.02 L157.5,295.51 L158.0,295.51 L158.5,295.57 L159.0,295.36 L159.5,294.76 L160.0,294.01 L160.5,293.61 L161.0,293.47 L161.5,293.60 L162.0,294.38 L162.5,295.51 L163.0,296.18 L163.5,296.00 L164.0,295.43 L164.5,294.68 L165.0,293.38 L165.5,292.11 L166.0,291.65 L166.5,291.76 L167.0,292.31 L167.5,293.13 L168.0,293.39 L168.5,293.01 L169.0,293.06 L169.5,293.90 L170.0,294.58 L170.5,294.58 L171.0,294.23 L171.5,293.99 L172.0,293.98 L172.5,293.87 L173.0,293.09 L173.5,291.54 L174.0,290.51 L174.5,291.04 L175.0,292.34 L175.5,293.32 L176.0,293.77 L176.5,293.89 L177.0,293.78 L177.5,293.62 L178.0,293.42 L178.5,292.69 L179.0,291.62 L179.5,291.46 L180.0,292.78 L180.5,294.56 L181.0,295.74 L181.5,295.99 L182.0,295.58 L182.5,294.73 L183.0,293.84 L183.5,293.44 L184.0,293.21 L184.5,292.54 L185.0,291.83 L185.5,291.71 L186.0,292.44 L186.5,293.34 L187.0,293.72 L187.5,293.64 L188.0,292.94 L188.5,292.06 L189.0,292.20 L189.5,293.46 L190.0,294.59 L190.5,294.84 L191.0,294.91 L191.5,295.24 L192.0,295.40 L192.5,295.33 L193.0,295.21 L193.5,294.88 L194.0,294.38 L194.5,293.89 L195.0,293.40 L195.5,292.72 L196.0,291.89 L196.5,291.50 L197.0,291.89 L197.5,292.51 L198.0,292.88 L198.5,293.22 L199.0,293.96 L199.5,295.22 L200.0,296.35 L200.5,296.75 L201.0,296.74 L201.5,296.71 L202.0,296.60 L202.5,296.46 L203.0,296.28 L203.5,295.61 L204.0,294.43 L204.5,293.43 L205.0,293.05 L205.5,293.06 L206.0,293.07 L206.5,293.05 L207.0,293.42 L207.5,294.10 L208.0,294.32 L208.5,293.81 L209.0,293.49 L209.5,294.16 L210.0,295.24 L210.5,295.89 L211.0,295.95 L211.5,295.71 L212.0,295.93 L212.5,296.65 L213.0,297.12 L213.5,297.21 L214.0,297.27 L214.5,297.36 L215.0,297.64 L215.5,297.77 L216.0,297.01 L216.5,295.64 L217.0,294.69 L217.5,294.75 L218.0,295.65 L218.5,296.64 L219.0,297.00 L219.5,296.21 L220.0,294.69 L220.5,293.72 L221.0,293.95 L221.5,294.78 L222.0,295.53 L222.5,296.25 L223.0,296.69 L223.5,296.30 L224.0,295.08 L224.5,293.56 L225.0,292.46 L225.5,292.18 L226.0,292.13 L226.5,291.57 L227.0,291.19 L227.5,292.08 L228.0,293.30 L228.5,293.33 L229.0,292.73 L229.5,292.55 L230.0,292.78 L230.5,293.31 L231.0,294.15 L231.5,295.28 L232.0,296.50 L232.5,297.03 L233.0,296.48 L233.5,295.51 L234.0,294.64 L234.5,293.94 L235.0,293.35 L235.5,292.57 L236.0,291.88 L236.5,291.45 L237.0,291.24 L237.5,291.56 L238.0,292.01 L238.5,291.48 L239.0,290.18 L239.5,289.74 L240.0,290.68 L240.5,292.05 L241.0,293.43 L241.5,294.39 L242.0,294.46 L242.5,294.27 L243.0,294.77 L243.5,295.08 L244.0,293.70 L244.5,291.68 L245.0,291.12 L245.5,292.27 L246.0,293.43 L246.5,293.04 L247.0,291.66 L247.5,291.00 L248.0,291.74 L248.5,293.21 L249.0,294.57 L249.5,295.21 L250.0,294.63 L250.5,293.33 L251.0,292.83 L251.5,293.56 L252.0,294.37 L252.5,294.66 L253.0,294.88 L253.5,295.24 L254.0,295.28 L254.5,294.84 L255.0,294.60 L255.5,294.78 L256.0,294.61 L256.5,293.77 L257.0,292.93 L257.5,292.77 L258.0,293.57 L258.5,294.39 L259.0,294.08 L259.5,293.20 L260.0,292.72 L260.5,292.80 L261.0,293.29 L261.5,293.76 L262.0,293.63 L262.5,292.95 L263.0,292.68 L263.5,293.45 L264.0,294.49 L264.5,294.57 L265.0,293.61 L265.5,292.70 L266.0,292.62 L266.5,292.81 L267.0,292.50 L267.5,292.14 L268.0,292.30 L268.5,292.87 L269.0,293.78 L269.5,294.94 L270.0,295.66 L270.5,295.38 L271.0,294.72 L271.5,294.92 L272.0,295.94 L272.5,296.37 L273.0,295.73 L273.5,294.69 L274.0,293.89 L274.5,293.53 L275.0,293.63 L275.5,294.27 L276.0,295.14 L276.5,295.47 L277.0,295.17 L277.5,295.00 L278.0,295.18 L278.5,295.30 L279.0,295.34 L279.5,295.53 L280.0,295.78 L280.5,295.94 L281.0,296.24" stroke="#1a1a1a" stroke-width="0.9" fill="none" stroke-linejoin="round"/>
<text x="99.3" y="302.7" font-size="9.1" font-family="'Liberation Sans', sans-serif" fill="#333" text-anchor="end" letter-spacing="0.3">KE20</text>
<path d="M0.0,308.63 L0.5,308.64 L1.0,308.66 L1.5,308.70 L2.0,308.75 L2.5,308.77 L3.0,308.78 L3.5,308.81 L4.0,308.84 L4.5,308.86 L5.0,308.87 L5.5,308.88 L6.0,308.89 L6.5,308.89 L7.0,308.88 L7.5,308.89 L8.0,308.96 L8.5,309.05 L9.0,309.13 L9.5,309.18 L10.0,309.20 L10.5,309.20 L11.0,309.19 L11.5,309.20 L12.0,309.23 L12.5,309.26 L13.0,309.30 L13.5,309.34 L14.0,309.35 L14.5,309.37 L15.0,309.40 L15.5,309.44 L16.0,309.49 L16.5,309.53 L17.0,309.59 L17.5,309.67 L18.0,309.75 L18.5,309.80 L19.0,309.80 L19.5,309.76 L20.0,309.76 L20.5,309.81 L21.0,309.88 L21.5,309.92 L22.0,309.93 L22.5,309.93 L23.0,309.94 L23.5,309.96 L24.0,309.99 L24.5,310.02 L25.0,310.04 L25.5,310.05 L26.0,310.06 L26.5,310.04 L27.0,310.04 L27.5,310.05 L28.0,310.10 L28.5,310.17 L29.0,310.25 L29.5,310.29 L30.0,310.27 L30.5,310.25 L31.0,310.29 L31.5,310.35 L32.0,310.43 L32.5,310.51 L33.0,310.56 L33.5,310.56 L34.0,310.52 L34.5,310.50 L35.0,310.54 L35.5,310.60 L36.0,310.62 L36.5,310.62 L37.0,310.63 L37.5,310.68 L38.0,310.77 L38.5,310.82 L39.0,310.82 L39.5,310.79 L40.0,310.78 L40.5,310.79 L41.0,310.84 L41.5,310.90 L42.0,310.91 L42.5,310.88 L43.0,310.88 L43.5,310.95 L44.0,311.01 L44.5,311.03 L45.0,311.03 L45.5,311.02 L46.0,310.97 L46.5,310.92 L47.0,310.92 L47.5,310.96 L48.0,311.04 L48.5,311.09 L49.0,311.05 L49.5,310.99 L50.0,310.96 L50.5,310.98 L51.0,311.02 L51.5,311.02 L52.0,310.98 L52.5,310.91 L53.0,310.84 L53.5,310.81 L54.0,310.81 L54.5,310.80 L55.0,310.79 L55.5,310.78 L56.0,310.75 L56.5,310.69 L57.0,310.64 L57.5,310.58 L58.0,310.48 L58.5,310.38 L59.0,310.34 L59.5,310.33 L60.0,310.34 L60.5,310.33 L61.0,310.31 L61.5,310.30 L62.0,310.27 L62.5,310.20 L63.0,310.09 L63.5,309.98 L64.0,309.88 L64.5,309.82 L65.0,309.80 L65.5,309.80 L66.0,309.80 L66.5,309.79 L67.0,309.76 L67.5,309.72 L68.0,309.70 L68.5,309.71 L69.0,309.70 L69.5,309.67 L70.0,309.63 L70.5,309.60 L71.0,309.58 L71.5,309.55 L72.0,309.52 L72.5,309.52 L73.0,309.54 L73.5,309.56 L74.0,309.54 L74.5,309.52 L75.0,309.55 L75.5,309.62 L76.0,309.67 L76.5,309.65 L77.0,309.61 L77.5,309.61 L78.0,309.67 L78.5,309.76 L79.0,309.84 L79.5,309.90 L80.0,309.92 L80.5,309.95 L81.0,310.00 L81.5,310.04 L82.0,310.07 L82.5,310.06 L83.0,310.04 L83.5,310.04 L84.0,310.03 L84.5,310.03 L85.0,310.06 L85.5,310.08 L86.0,310.07 L86.5,310.09 L87.0,310.16 L87.5,310.23 L88.0,310.27 L88.5,310.29 L89.0,310.28 L89.5,310.25 L90.0,310.23 L90.5,310.25 L91.0,310.28 L91.5,310.26 L92.0,310.22 L92.5,310.18 L93.0,310.14 L93.5,310.08 L94.0,310.02 L94.5,310.01 L95.0,310.04 L95.5,310.03 L96.0,309.97 L96.5,309.91 L97.0,309.90 L97.5,309.91 L98.0,309.91 L98.5,309.86 L99.0,309.78 L99.5,309.73 L100.0,309.71 L100.5,309.71 L101.0,309.74 L101.5,309.77 L102.0,309.76 L102.5,309.69 L103.0,309.62 L103.5,309.60 L104.0,309.64 L104.5,309.68 L105.0,309.66 L105.5,309.61 L106.0,309.53 L106.5,309.45 L107.0,309.39 L107.5,309.36 L108.0,309.33 L108.5,309.30 L109.0,309.26 L109.5,309.22 L110.0,309.21 L110.5,309.20 L111.0,309.20 L111.5,309.21 L112.0,309.18 L112.5,309.12 L113.0,309.06 L113.5,309.02 L114.0,309.01 L114.5,309.00 L115.0,308.98 L115.5,308.95 L116.0,308.88 L116.5,308.82 L117.0,308.82 L117.5,303.77 L118.0,301.14 L118.5,302.53 L119.0,308.02 L119.5,312.91 L120.0,314.82 L120.5,314.99 L121.0,314.34 L121.5,310.82 L122.0,312.62 L122.5,308.24 L123.0,305.16 L123.5,306.07 L124.0,308.61 L124.5,311.95 L125.0,313.47 L125.5,311.57 L126.0,310.82 L126.5,309.31 L127.0,310.29 L127.5,311.93 L128.0,310.80 L128.5,309.97 L129.0,310.00 L129.5,308.92 L130.0,307.61 L130.5,307.81 L131.0,308.24 L131.5,307.43 L132.0,307.43 L132.5,306.96 L133.0,306.57 L133.5,306.28 L134.0,307.13 L134.5,306.93 L135.0,304.99 L135.5,302.43 L136.0,300.98 L136.5,300.30 L137.0,301.70 L137.5,303.55 L138.0,304.73 L138.5,304.61 L139.0,304.81 L139.5,305.55 L140.0,305.96 L140.5,307.11 L141.0,308.53 L141.5,308.61 L142.0,307.52 L142.5,306.46 L143.0,305.67 L143.5,305.44 L144.0,305.28 L144.5,305.45 L145.0,306.74 L145.5,307.85 L146.0,307.94 L146.5,307.17 L147.0,307.14 L147.5,307.67 L148.0,308.21 L148.5,309.21 L149.0,310.16 L149.5,310.99 L150.0,311.94 L150.5,313.14 L151.0,313.71 L151.5,313.97 L152.0,314.37 L152.5,314.57 L153.0,314.17 L153.5,313.03 L154.0,311.93 L154.5,311.78 L155.0,312.18 L155.5,312.35 L156.0,311.86 L156.5,310.62 L157.0,309.21 L157.5,308.48 L158.0,308.59 L158.5,310.00 L159.0,312.04 L159.5,312.92 L160.0,312.13 L160.5,310.93 L161.0,310.52 L161.5,310.80 L162.0,311.35 L162.5,311.60 L163.0,311.28 L163.5,310.93 L164.0,311.01 L164.5,310.68 L165.0,309.17 L165.5,307.04 L166.0,305.38 L166.5,304.83 L167.0,305.32 L167.5,305.92 L168.0,306.02 L168.5,306.33 L169.0,307.18 L169.5,308.21 L170.0,309.25 L170.5,309.90 L171.0,310.21 L171.5,310.71 L172.0,311.21 L172.5,311.33 L173.0,311.21 L173.5,311.00 L174.0,310.82 L174.5,310.52 L175.0,309.97 L175.5,309.67 L176.0,309.73 L176.5,309.59 L177.0,309.39 L177.5,309.63 L178.0,310.03 L178.5,310.18 L179.0,309.71 L179.5,308.54 L180.0,307.70 L180.5,308.00 L181.0,308.88 L181.5,309.25 L182.0,309.09 L182.5,309.14 L183.0,309.89 L183.5,311.45 L184.0,312.86 L184.5,313.00 L185.0,312.28 L185.5,311.31 L186.0,309.76 L186.5,308.38 L187.0,308.56 L187.5,309.69 L188.0,310.20 L188.5,310.22 L189.0,310.59 L189.5,311.14 L190.0,311.68 L190.5,312.60 L191.0,313.41 L191.5,313.01 L192.0,311.32 L192.5,309.69 L193.0,309.31 L193.5,309.56 L194.0,309.16 L194.5,308.20 L195.0,307.62 L195.5,307.65 L196.0,308.07 L196.5,309.09 L197.0,310.04 L197.5,309.43 L198.0,307.95 L198.5,307.41 L199.0,307.87 L199.5,308.41 L200.0,308.94 L200.5,309.64 L201.0,310.08 L201.5,310.09 L202.0,309.99 L202.5,309.31 L203.0,308.28 L203.5,308.37 L204.0,309.80 L204.5,311.10 L205.0,311.24 L205.5,310.50 L206.0,309.63 L206.5,309.13 L207.0,309.22 L207.5,310.04 L208.0,311.12 L208.5,311.91 L209.0,312.30 L209.5,312.37 L210.0,312.34 L210.5,312.43 L211.0,312.48 L211.5,312.15 L212.0,311.21 L212.5,309.85 L213.0,309.02 L213.5,309.04 L214.0,309.16 L214.5,309.17 L215.0,309.73 L215.5,310.84 L216.0,311.66 L216.5,311.68 L217.0,311.11 L217.5,310.39 L218.0,310.00 L218.5,310.47 L219.0,311.53 L219.5,312.23 L220.0,312.29 L220.5,312.00 L221.0,311.69 L221.5,311.38 L222.0,310.73 L222.5,309.99 L223.0,309.82 L223.5,310.11 L224.0,310.43 L224.5,310.45 L225.0,309.40 L225.5,307.56 L226.0,306.29 L226.5,305.99 L227.0,306.37 L227.5,307.11 L228.0,307.86 L228.5,308.11 L229.0,307.28 L229.5,305.82 L230.0,304.94 L230.5,305.16 L231.0,306.26 L231.5,307.49 L232.0,307.80 L232.5,306.95 L233.0,305.82 L233.5,305.27 L234.0,305.57 L234.5,306.65 L235.0,308.11 L235.5,309.53 L236.0,310.53 L236.5,310.79 L237.0,310.50 L237.5,310.31 L238.0,310.67 L238.5,310.96 L239.0,310.27 L239.5,309.40 L240.0,309.50 L240.5,310.05 L241.0,310.44 L241.5,310.87 L242.0,311.32 L242.5,311.39 L243.0,310.90 L243.5,310.47 L244.0,310.47 L244.5,309.97 L245.0,308.84 L245.5,308.21 L246.0,307.96 L246.5,307.33 L247.0,306.90 L247.5,307.21 L248.0,307.64 L248.5,307.84 L249.0,307.91 L249.5,307.63 L250.0,306.99 L250.5,306.73 L251.0,307.27 L251.5,307.99 L252.0,308.30 L252.5,308.01 L253.0,307.52 L253.5,307.86 L254.0,309.34 L254.5,310.66 L255.0,310.83 L255.5,310.26 L256.0,309.32 L256.5,307.85 L257.0,306.40 L257.5,305.90 L258.0,306.19 L258.5,306.60 L259.0,307.40 L259.5,308.78 L260.0,309.71 L260.5,309.18 L261.0,307.88 L261.5,307.28 L262.0,307.67 L262.5,308.44 L263.0,309.02 L263.5,308.92 L264.0,307.99 L264.5,307.09 L265.0,307.46 L265.5,308.72 L266.0,309.59 L266.5,309.96 L267.0,310.27 L267.5,310.53 L268.0,310.59 L268.5,310.33 L269.0,309.96 L269.5,309.78 L270.0,309.35 L270.5,308.52 L271.0,308.19 L271.5,308.89 L272.0,309.84 L272.5,310.18 L273.0,309.99 L273.5,309.73 L274.0,309.71 L274.5,309.69 L275.0,309.36 L275.5,309.26 L276.0,310.21 L276.5,311.63 L277.0,312.01 L277.5,311.18 L278.0,310.51 L278.5,310.74 L279.0,310.95 L279.5,310.50 L280.0,310.08 L280.5,309.93 L281.0,309.78" stroke="#1a1a1a" stroke-width="0.9" fill="none" stroke-linejoin="round"/>
<text x="103.1" y="318.7" font-size="9.1" font-family="'Liberation Sans', sans-serif" fill="#333" text-anchor="end" letter-spacing="0.3">PN09</text>
<path d="M0.0,327.05 L0.5,326.97 L1.0,326.91 L1.5,326.84 L2.0,326.78 L2.5,326.73 L3.0,326.70 L3.5,326.66 L4.0,326.58 L4.5,326.46 L5.0,326.33 L5.5,326.23 L6.0,326.15 L6.5,326.08 L7.0,326.01 L7.5,325.96 L8.0,325.92 L8.5,325.86 L9.0,325.78 L9.5,325.66 L10.0,325.52 L10.5,325.41 L11.0,325.32 L11.5,325.22 L12.0,325.13 L12.5,325.05 L13.0,325.01 L13.5,324.97 L14.0,324.89 L14.5,324.81 L15.0,324.73 L15.5,324.63 L16.0,324.54 L16.5,324.48 L17.0,324.42 L17.5,324.35 L18.0,324.29 L18.5,324.25 L19.0,324.15 L19.5,324.02 L20.0,323.91 L20.5,323.85 L21.0,323.84 L21.5,323.85 L22.0,323.85 L22.5,323.81 L23.0,323.75 L23.5,323.66 L24.0,323.57 L24.5,323.50 L25.0,323.48 L25.5,323.47 L26.0,323.47 L26.5,323.49 L27.0,323.51 L27.5,323.52 L28.0,323.51 L28.5,323.50 L29.0,323.49 L29.5,323.48 L30.0,323.47 L30.5,323.49 L31.0,323.51 L31.5,323.50 L32.0,323.52 L32.5,323.58 L33.0,323.64 L33.5,323.66 L34.0,323.68 L34.5,323.71 L35.0,323.80 L35.5,323.92 L36.0,324.03 L36.5,324.10 L37.0,324.17 L37.5,324.24 L38.0,324.34 L38.5,324.46 L39.0,324.61 L39.5,324.75 L40.0,324.83 L40.5,324.90 L41.0,324.97 L41.5,325.07 L42.0,325.18 L42.5,325.31 L43.0,325.46 L43.5,325.62 L44.0,325.73 L44.5,325.81 L45.0,325.89 L45.5,326.02 L46.0,326.14 L46.5,326.22 L47.0,326.27 L47.5,326.37 L48.0,326.50 L48.5,326.62 L49.0,326.71 L49.5,326.79 L50.0,326.86 L50.5,326.92 L51.0,326.98 L51.5,327.01 L52.0,327.05 L52.5,327.14 L53.0,327.22 L53.5,327.28 L54.0,327.32 L54.5,327.37 L55.0,327.44 L55.5,327.49 L56.0,327.47 L56.5,327.41 L57.0,327.37 L57.5,327.37 L58.0,327.38 L58.5,327.40 L59.0,327.39 L59.5,327.37 L60.0,327.38 L60.5,327.42 L61.0,327.46 L61.5,327.44 L62.0,327.38 L62.5,327.29 L63.0,327.22 L63.5,327.17 L64.0,327.09 L64.5,327.00 L65.0,326.90 L65.5,326.81 L66.0,326.74 L66.5,326.69 L67.0,326.65 L67.5,326.59 L68.0,326.51 L68.5,326.42 L69.0,326.34 L69.5,326.30 L70.0,326.28 L70.5,326.25 L71.0,326.19 L71.5,326.12 L72.0,326.05 L72.5,326.02 L73.0,326.01 L73.5,325.97 L74.0,325.90 L74.5,325.80 L75.0,325.73 L75.5,325.69 L76.0,325.67 L76.5,325.65 L77.0,325.64 L77.5,325.62 L78.0,325.56 L78.5,325.48 L79.0,325.43 L79.5,325.45 L80.0,325.48 L80.5,325.48 L81.0,325.45 L81.5,325.42 L82.0,325.37 L82.5,325.29 L83.0,325.20 L83.5,325.17 L84.0,325.21 L84.5,325.26 L85.0,325.25 L85.5,325.21 L86.0,325.17 L86.5,325.17 L87.0,325.19 L87.5,325.22 L88.0,325.23 L88.5,325.23 L89.0,325.22 L89.5,325.20 L90.0,325.20 L90.5,325.21 L91.0,325.22 L91.5,325.20 L92.0,325.17 L92.5,325.16 L93.0,325.19 L93.5,325.23 L94.0,325.24 L94.5,325.22 L95.0,325.18 L95.5,325.14 L96.0,325.11 L96.5,325.11 L97.0,325.16 L97.5,325.21 L98.0,325.25 L98.5,325.27 L99.0,325.25 L99.5,325.20 L100.0,325.13 L100.5,325.08 L101.0,325.05 L101.5,325.03 L102.0,325.08 L102.5,325.19 L103.0,325.29 L103.5,325.34 L104.0,325.32 L104.5,325.28 L105.0,325.24 L105.5,325.22 L106.0,325.23 L106.5,325.23 L107.0,325.20 L107.5,325.18 L108.0,325.21 L108.5,325.26 L109.0,325.29 L109.5,325.32 L110.0,325.38 L110.5,325.42 L111.0,325.42 L111.5,325.38 L112.0,325.36 L112.5,325.35 L113.0,325.32 L113.5,325.30 L114.0,325.32 L114.5,325.35 L115.0,325.37 L115.5,325.40 L116.0,325.42 L116.5,325.42 L117.0,325.43 L117.5,325.48 L118.0,325.51 L118.5,325.54 L119.0,325.58 L119.5,325.65 L120.0,325.70 L120.5,325.71 L121.0,324.15 L121.5,323.32 L122.0,323.93 L122.5,326.76 L123.0,330.19 L123.5,333.11 L124.0,334.17 L124.5,335.19 L125.0,331.03 L125.5,325.13 L126.0,327.17 L126.5,327.09 L127.0,324.28 L127.5,324.98 L128.0,325.41 L128.5,325.25 L129.0,324.96 L129.5,326.74 L130.0,328.22 L130.5,328.25 L131.0,327.91 L131.5,327.88 L132.0,326.92 L132.5,327.43 L133.0,326.60 L133.5,325.40 L134.0,324.10 L134.5,324.48 L135.0,324.91 L135.5,325.00 L136.0,324.97 L136.5,324.60 L137.0,325.69 L137.5,326.30 L138.0,325.97 L138.5,325.42 L139.0,325.87 L139.5,326.30 L140.0,326.61 L140.5,325.97 L141.0,324.49 L141.5,322.92 L142.0,322.12 L142.5,322.30 L143.0,323.40 L143.5,324.71 L144.0,326.64 L144.5,328.78 L145.0,330.71 L145.5,331.72 L146.0,331.14 L146.5,329.51 L147.0,327.92 L147.5,326.96 L148.0,326.13 L148.5,324.96 L149.0,324.30 L149.5,324.96 L150.0,326.16 L150.5,326.89 L151.0,327.08 L151.5,326.70 L152.0,326.89 L152.5,327.34 L153.0,327.14 L153.5,327.01 L154.0,327.74 L154.5,328.50 L155.0,329.03 L155.5,329.51 L156.0,329.60 L156.5,328.85 L157.0,327.86 L157.5,327.29 L158.0,327.44 L158.5,327.48 L159.0,327.31 L159.5,327.47 L160.0,327.58 L160.5,326.97 L161.0,326.24 L161.5,326.16 L162.0,326.82 L162.5,328.26 L163.0,329.89 L163.5,330.38 L164.0,329.48 L164.5,328.30 L165.0,327.80 L165.5,327.96 L166.0,328.01 L166.5,327.76 L167.0,327.52 L167.5,327.45 L168.0,327.62 L168.5,327.91 L169.0,328.07 L169.5,328.03 L170.0,327.74 L170.5,327.53 L171.0,327.85 L171.5,328.21 L172.0,327.77 L172.5,326.74 L173.0,326.03 L173.5,326.07 L174.0,327.09 L174.5,328.79 L175.0,329.66 L175.5,329.01 L176.0,327.93 L176.5,327.32 L177.0,327.22 L177.5,327.56 L178.0,327.88 L178.5,327.92 L179.0,328.18 L179.5,328.57 L180.0,328.34 L180.5,326.92 L181.0,324.88 L181.5,324.24 L182.0,325.53 L182.5,326.76 L183.0,326.77 L183.5,325.93 L184.0,324.85 L184.5,324.27 L185.0,324.75 L185.5,326.17 L186.0,327.65 L186.5,327.96 L187.0,326.90 L187.5,325.98 L188.0,325.87 L188.5,325.72 L189.0,325.25 L189.5,324.64 L190.0,324.28 L190.5,325.08 L191.0,326.59 L191.5,327.55 L192.0,327.94 L192.5,327.85 L193.0,327.59 L193.5,328.15 L194.0,329.44 L194.5,330.77 L195.0,331.97 L195.5,332.61 L196.0,331.92 L196.5,330.17 L197.0,328.54 L197.5,327.30 L198.0,325.87 L198.5,324.76 L199.0,324.94 L199.5,326.04 L200.0,327.00 L200.5,327.61 L201.0,327.81 L201.5,327.35 L202.0,326.78 L202.5,326.78 L203.0,327.20 L203.5,327.58 L204.0,327.69 L204.5,327.46 L205.0,327.04 L205.5,326.78 L206.0,326.66 L206.5,326.59 L207.0,326.79 L207.5,326.91 L208.0,326.41 L208.5,325.95 L209.0,326.32 L209.5,327.07 L210.0,327.76 L210.5,328.01 L211.0,327.26 L211.5,326.33 L212.0,326.38 L212.5,327.05 L213.0,327.61 L213.5,328.29 L214.0,328.87 L214.5,328.29 L215.0,326.40 L215.5,324.83 L216.0,324.89 L216.5,326.16 L217.0,327.56 L217.5,328.34 L218.0,328.19 L218.5,327.24 L219.0,326.37 L219.5,326.23 L220.0,326.32 L220.5,326.22 L221.0,326.15 L221.5,326.27 L222.0,326.41 L222.5,326.73 L223.0,327.02 L223.5,326.94 L224.0,327.06 L224.5,327.58 L225.0,327.81 L225.5,327.34 L226.0,326.28 L226.5,325.57 L227.0,326.08 L227.5,327.21 L228.0,327.94 L228.5,327.70 L229.0,326.94 L229.5,327.13 L230.0,328.37 L230.5,329.17 L231.0,328.72 L231.5,327.98 L232.0,328.24 L232.5,329.51 L233.0,330.77 L233.5,331.01 L234.0,330.26 L234.5,329.43 L235.0,328.89 L235.5,328.57 L236.0,328.56 L236.5,328.74 L237.0,328.86 L237.5,328.69 L238.0,328.31 L238.5,328.23 L239.0,328.38 L239.5,327.97 L240.0,326.99 L240.5,326.16 L241.0,325.66 L241.5,325.38 L242.0,325.26 L242.5,325.44 L243.0,325.94 L243.5,326.74 L244.0,327.75 L244.5,328.07 L245.0,327.27 L245.5,326.39 L246.0,325.99 L246.5,325.86 L247.0,326.36 L247.5,327.49 L248.0,328.50 L248.5,329.14 L249.0,329.27 L249.5,328.86 L250.0,328.33 L250.5,328.02 L251.0,327.91 L251.5,327.71 L252.0,327.27 L252.5,326.40 L253.0,325.16 L253.5,324.45 L254.0,325.13 L254.5,326.45 L255.0,327.34 L255.5,327.84 L256.0,328.01 L256.5,327.03 L257.0,324.78 L257.5,323.45 L258.0,324.39 L258.5,326.14 L259.0,327.52 L259.5,328.59 L260.0,328.95 L260.5,328.34 L261.0,327.55 L261.5,326.95 L262.0,326.09 L262.5,325.33 L263.0,325.27 L263.5,325.55 L264.0,325.71 L264.5,325.87 L265.0,325.98 L265.5,326.56 L266.0,327.99 L266.5,328.82 L267.0,328.01 L267.5,326.37 L268.0,324.75 L268.5,323.89 L269.0,324.13 L269.5,324.70 L270.0,324.95 L270.5,324.85 L271.0,324.62 L271.5,324.32 L272.0,324.14 L272.5,324.71 L273.0,325.96 L273.5,327.13 L274.0,327.92 L274.5,328.09 L275.0,327.69 L275.5,327.44 L276.0,327.60 L276.5,327.83 L277.0,327.77 L277.5,327.63 L278.0,327.62 L278.5,327.12 L279.0,325.61 L279.5,324.12 L280.0,324.17 L280.5,325.99 L281.0,328.06" stroke="#1a1a1a" stroke-width="0.9" fill="none" stroke-linejoin="round"/>
<text x="108.7" y="333.6" font-size="9.1" font-family="'Liberation Sans', sans-serif" fill="#333" text-anchor="end" letter-spacing="0.3">KE13</text>
<path d="M0.0,341.24 L0.5,341.24 L1.0,341.26 L1.5,341.31 L2.0,341.36 L2.5,341.41 L3.0,341.44 L3.5,341.46 L4.0,341.43 L4.5,341.42 L5.0,341.44 L5.5,341.47 L6.0,341.49 L6.5,341.49 L7.0,341.50 L7.5,341.54 L8.0,341.59 L8.5,341.62 L9.0,341.64 L9.5,341.63 L10.0,341.59 L10.5,341.55 L11.0,341.54 L11.5,341.58 L12.0,341.63 L12.5,341.65 L13.0,341.65 L13.5,341.69 L14.0,341.76 L14.5,341.81 L15.0,341.81 L15.5,341.80 L16.0,341.83 L16.5,341.87 L17.0,341.88 L17.5,341.88 L18.0,341.89 L18.5,341.93 L19.0,342.01 L19.5,342.07 L20.0,342.07 L20.5,342.05 L21.0,342.02 L21.5,341.98 L22.0,341.95 L22.5,341.95 L23.0,341.98 L23.5,342.01 L24.0,342.03 L24.5,342.01 L25.0,342.00 L25.5,342.04 L26.0,342.13 L26.5,342.20 L27.0,342.20 L27.5,342.15 L28.0,342.10 L28.5,342.09 L29.0,342.12 L29.5,342.15 L30.0,342.16 L30.5,342.14 L31.0,342.14 L31.5,342.18 L32.0,342.23 L32.5,342.27 L33.0,342.29 L33.5,342.31 L34.0,342.31 L34.5,342.30 L35.0,342.29 L35.5,342.28 L36.0,342.25 L36.5,342.23 L37.0,342.23 L37.5,342.23 L38.0,342.23 L38.5,342.23 L39.0,342.26 L39.5,342.28 L40.0,342.26 L40.5,342.23 L41.0,342.25 L41.5,342.30 L42.0,342.35 L42.5,342.35 L43.0,342.31 L43.5,342.27 L44.0,342.27 L44.5,342.28 L45.0,342.27 L45.5,342.24 L46.0,342.18 L46.5,342.10 L47.0,342.02 L47.5,342.00 L48.0,342.02 L48.5,342.03 L49.0,342.00 L49.5,341.97 L50.0,341.93 L50.5,341.89 L51.0,341.86 L51.5,341.84 L52.0,341.81 L52.5,341.77 L53.0,341.72 L53.5,341.68 L54.0,341.63 L54.5,341.59 L55.0,341.54 L55.5,341.49 L56.0,341.44 L56.5,341.40 L57.0,341.39 L57.5,341.39 L58.0,341.36 L58.5,341.29 L59.0,341.23 L59.5,341.23 L60.0,341.26 L60.5,341.29 L61.0,341.28 L61.5,341.23 L62.0,341.19 L62.5,341.12 L63.0,341.03 L63.5,340.96 L64.0,340.93 L64.5,340.93 L65.0,340.93 L65.5,340.94 L66.0,340.94 L66.5,340.95 L67.0,340.95 L67.5,340.92 L68.0,340.86 L68.5,340.84 L69.0,340.85 L69.5,340.85 L70.0,340.80 L70.5,340.76 L71.0,340.78 L71.5,340.82 L72.0,340.85 L72.5,340.90 L73.0,340.94 L73.5,340.93 L74.0,340.91 L74.5,340.91 L75.0,340.93 L75.5,340.96 L76.0,340.97 L76.5,340.97 L77.0,340.94 L77.5,340.91 L78.0,340.89 L78.5,340.91 L79.0,340.98 L79.5,341.04 L80.0,341.08 L80.5,341.07 L81.0,341.06 L81.5,341.04 L82.0,341.04 L82.5,341.08 L83.0,341.14 L83.5,341.20 L84.0,341.26 L84.5,341.31 L85.0,341.31 L85.5,341.27 L86.0,341.27 L86.5,341.29 L87.0,341.28 L87.5,341.26 L88.0,341.28 L88.5,341.35 L89.0,341.41 L89.5,341.40 L90.0,341.38 L90.5,341.38 L91.0,341.42 L91.5,341.47 L92.0,341.48 L92.5,341.46 L93.0,341.46 L93.5,341.48 L94.0,341.50 L94.5,341.52 L95.0,341.55 L95.5,341.58 L96.0,341.61 L96.5,341.64 L97.0,341.68 L97.5,341.71 L98.0,341.70 L98.5,341.67 L99.0,341.67 L99.5,341.66 L100.0,341.64 L100.5,341.61 L101.0,341.61 L101.5,341.61 L102.0,341.63 L102.5,341.67 L103.0,341.72 L103.5,341.75 L104.0,341.75 L104.5,341.74 L105.0,341.73 L105.5,341.73 L106.0,341.75 L106.5,341.80 L107.0,341.84 L107.5,341.84 L108.0,341.85 L108.5,341.87 L109.0,341.88 L109.5,341.85 L110.0,341.85 L110.5,341.91 L111.0,341.97 L111.5,342.01 L112.0,342.03 L112.5,342.06 L113.0,342.04 L113.5,341.97 L114.0,341.91 L114.5,341.90 L115.0,341.92 L115.5,341.96 L116.0,341.99 L116.5,342.00 L117.0,341.99 L117.5,341.96 L118.0,341.97 L118.5,342.00 L119.0,342.04 L119.5,342.07 L120.0,342.11 L120.5,342.14 L121.0,342.16 L121.5,342.16 L122.0,342.15 L122.5,342.16 L123.0,342.19 L123.5,342.20 L124.0,342.20 L124.5,342.20 L125.0,342.21 L125.5,342.25 L126.0,342.27 L126.5,342.23 L127.0,342.17 L127.5,342.13 L128.0,337.45 L128.5,335.70 L129.0,337.59 L129.5,341.88 L130.0,346.06 L130.5,348.70 L131.0,347.49 L131.5,343.40 L132.0,343.12 L132.5,343.67 L133.0,344.90 L133.5,345.08 L134.0,343.49 L134.5,343.95 L135.0,345.38 L135.5,347.31 L136.0,347.50 L136.5,345.19 L137.0,343.83 L137.5,343.33 L138.0,343.93 L138.5,342.96 L139.0,341.10 L139.5,341.26 L140.0,340.07 L140.5,341.09 L141.0,342.13 L141.5,343.07 L142.0,343.68 L142.5,342.52 L143.0,341.00 L143.5,339.75 L144.0,340.16 L144.5,340.64 L145.0,341.69 L145.5,341.19 L146.0,340.16 L146.5,339.77 L147.0,338.42 L147.5,335.37 L148.0,332.60 L148.5,332.87 L149.0,335.23 L149.5,338.10 L150.0,340.98 L150.5,342.41 L151.0,342.72 L151.5,342.49 L152.0,342.47 L152.5,342.93 L153.0,342.54 L153.5,341.82 L154.0,341.57 L154.5,341.81 L155.0,341.86 L155.5,341.70 L156.0,341.75 L156.5,341.80 L157.0,341.91 L157.5,342.53 L158.0,343.86 L158.5,345.21 L159.0,345.35 L159.5,344.73 L160.0,343.99 L160.5,343.15 L161.0,342.06 L161.5,341.20 L162.0,341.90 L162.5,344.14 L163.0,345.49 L163.5,344.98 L164.0,344.41 L164.5,344.34 L165.0,343.97 L165.5,343.78 L166.0,344.94 L166.5,346.44 L167.0,346.23 L167.5,344.56 L168.0,343.72 L168.5,344.32 L169.0,344.90 L169.5,344.23 L170.0,342.86 L170.5,341.69 L171.0,340.65 L171.5,339.90 L172.0,339.87 L172.5,340.14 L173.0,340.60 L173.5,341.53 L174.0,341.94 L174.5,341.05 L175.0,339.91 L175.5,339.39 L176.0,339.07 L176.5,339.08 L177.0,340.11 L177.5,342.05 L178.0,344.27 L178.5,345.93 L179.0,346.28 L179.5,345.51 L180.0,344.37 L180.5,343.68 L181.0,343.78 L181.5,343.59 L182.0,342.30 L182.5,341.10 L183.0,340.88 L183.5,340.78 L184.0,340.12 L184.5,339.39 L185.0,339.41 L185.5,340.17 L186.0,341.31 L186.5,342.61 L187.0,343.50 L187.5,343.41 L188.0,342.52 L188.5,341.50 L189.0,341.15 L189.5,341.53 L190.0,341.78 L190.5,341.79 L191.0,342.33 L191.5,343.35 L192.0,343.96 L192.5,343.79 L193.0,343.10 L193.5,342.57 L194.0,342.86 L194.5,343.28 L195.0,342.95 L195.5,342.24 L196.0,341.58 L196.5,340.79 L197.0,340.10 L197.5,340.44 L198.0,341.82 L198.5,342.88 L199.0,342.85 L199.5,342.23 L200.0,341.55 L200.5,340.62 L201.0,339.96 L201.5,340.82 L202.0,342.83 L202.5,344.23 L203.0,344.35 L203.5,343.76 L204.0,342.94 L204.5,342.20 L205.0,341.61 L205.5,341.41 L206.0,341.68 L206.5,342.02 L207.0,342.23 L207.5,341.91 L208.0,341.09 L208.5,340.72 L209.0,341.42 L209.5,342.84 L210.0,343.85 L210.5,343.62 L211.0,342.74 L211.5,342.25 L212.0,342.35 L212.5,342.87 L213.0,343.40 L213.5,343.53 L214.0,343.61 L214.5,344.04 L215.0,344.30 L215.5,344.07 L216.0,344.03 L216.5,344.33 L217.0,344.05 L217.5,343.32 L218.0,343.17 L218.5,343.46 L219.0,343.56 L219.5,343.47 L220.0,343.87 L220.5,345.50 L221.0,347.33 L221.5,347.35 L222.0,346.09 L222.5,345.28 L223.0,344.75 L223.5,344.27 L224.0,344.16 L224.5,344.03 L225.0,343.65 L225.5,343.23 L226.0,342.39 L226.5,341.12 L227.0,340.74 L227.5,341.65 L228.0,342.32 L228.5,341.90 L229.0,341.13 L229.5,340.78 L230.0,341.15 L230.5,341.97 L231.0,342.07 L231.5,341.08 L232.0,340.38 L232.5,341.03 L233.0,342.20 L233.5,341.95 L234.0,340.15 L234.5,339.34 L235.0,340.45 L235.5,341.70 L236.0,342.12 L236.5,342.07 L237.0,341.80 L237.5,341.47 L238.0,341.29 L238.5,341.25 L239.0,341.36 L239.5,341.96 L240.0,343.03 L240.5,344.04 L241.0,344.66 L241.5,344.95 L242.0,345.16 L242.5,345.08 L243.0,344.13 L243.5,342.67 L244.0,342.04 L244.5,342.57 L245.0,342.75 L245.5,341.83 L246.0,340.83 L246.5,340.62 L247.0,341.10 L247.5,341.88 L248.0,342.47 L248.5,342.68 L249.0,342.96 L249.5,343.57 L250.0,343.82 L250.5,343.21 L251.0,342.42 L251.5,342.09 L252.0,342.32 L252.5,342.47 L253.0,342.07 L253.5,341.84 L254.0,342.48 L254.5,343.59 L255.0,344.18 L255.5,344.05 L256.0,343.58 L256.5,342.82 L257.0,341.85 L257.5,341.14 L258.0,341.14 L258.5,341.73 L259.0,342.30 L259.5,342.92 L260.0,343.56 L260.5,343.60 L261.0,343.02 L261.5,342.41 L262.0,342.22 L262.5,342.14 L263.0,341.78 L263.5,341.55 L264.0,341.45 L264.5,341.04 L265.0,340.98 L265.5,341.85 L266.0,342.41 L266.5,341.80 L267.0,341.24 L267.5,341.44 L268.0,341.93 L268.5,342.69 L269.0,343.28 L269.5,342.89 L270.0,342.36 L270.5,342.94 L271.0,344.37 L271.5,345.31 L272.0,344.69 L272.5,343.26 L273.0,342.33 L273.5,342.23 L274.0,342.86 L274.5,343.68 L275.0,343.49 L275.5,342.49 L276.0,342.26 L276.5,343.00 L277.0,343.88 L277.5,344.51 L278.0,344.48 L278.5,343.85 L279.0,343.34 L279.5,343.03 L280.0,342.51 L280.5,342.15 L281.0,342.23" stroke="#1a1a1a" stroke-width="0.9" fill="none" stroke-linejoin="round"/>
<text x="112.3" y="351.2" font-size="9.1" font-family="'Liberation Sans', sans-serif" fill="#333" text-anchor="end" letter-spacing="0.3">PN05</text>
<path d="M0.0,360.18 L0.5,360.24 L1.0,360.28 L1.5,360.27 L2.0,360.26 L2.5,360.27 L3.0,360.28 L3.5,360.30 L4.0,360.36 L4.5,360.44 L5.0,360.48 L5.5,360.45 L6.0,360.41 L6.5,360.38 L7.0,360.37 L7.5,360.36 L8.0,360.39 L8.5,360.48 L9.0,360.57 L9.5,360.59 L10.0,360.55 L10.5,360.49 L11.0,360.44 L11.5,360.44 L12.0,360.51 L12.5,360.58 L13.0,360.59 L13.5,360.60 L14.0,360.62 L14.5,360.66 L15.0,360.70 L15.5,360.70 L16.0,360.67 L16.5,360.63 L17.0,360.63 L17.5,360.67 L18.0,360.70 L18.5,360.70 L19.0,360.69 L19.5,360.69 L20.0,360.70 L20.5,360.72 L21.0,360.78 L21.5,360.87 L22.0,360.97 L22.5,361.04 L23.0,361.06 L23.5,361.04 L24.0,360.99 L24.5,360.95 L25.0,360.96 L25.5,361.00 L26.0,361.03 L26.5,361.04 L27.0,361.05 L27.5,361.05 L28.0,361.02 L28.5,360.96 L29.0,360.92 L29.5,360.95 L30.0,361.03 L30.5,361.10 L31.0,361.14 L31.5,361.15 L32.0,361.16 L32.5,361.18 L33.0,361.17 L33.5,361.15 L34.0,361.14 L34.5,361.14 L35.0,361.11 L35.5,361.11 L36.0,361.15 L36.5,361.18 L37.0,361.20 L37.5,361.22 L38.0,361.24 L38.5,361.25 L39.0,361.28 L39.5,361.31 L40.0,361.28 L40.5,361.19 L41.0,361.13 L41.5,361.13 L42.0,361.17 L42.5,361.18 L43.0,361.14 L43.5,361.10 L44.0,361.08 L44.5,361.08 L45.0,361.04 L45.5,360.99 L46.0,360.97 L46.5,360.97 L47.0,360.94 L47.5,360.86 L48.0,360.76 L48.5,360.68 L49.0,360.65 L49.5,360.66 L50.0,360.65 L50.5,360.62 L51.0,360.59 L51.5,360.56 L52.0,360.53 L52.5,360.51 L53.0,360.50 L53.5,360.50 L54.0,360.51 L54.5,360.50 L55.0,360.46 L55.5,360.42 L56.0,360.41 L56.5,360.40 L57.0,360.37 L57.5,360.33 L58.0,360.31 L58.5,360.31 L59.0,360.35 L59.5,360.38 L60.0,360.36 L60.5,360.34 L61.0,360.33 L61.5,360.31 L62.0,360.30 L62.5,360.33 L63.0,360.41 L63.5,360.46 L64.0,360.47 L64.5,360.46 L65.0,360.49 L65.5,360.57 L66.0,360.67 L66.5,360.74 L67.0,360.80 L67.5,360.83 L68.0,360.87 L68.5,360.94 L69.0,361.02 L69.5,361.07 L70.0,361.08 L70.5,361.11 L71.0,361.15 L71.5,361.19 L72.0,361.23 L72.5,361.29 L73.0,361.36 L73.5,361.42 L74.0,361.47 L74.5,361.51 L75.0,361.57 L75.5,361.66 L76.0,361.74 L76.5,361.79 L77.0,361.82 L77.5,361.82 L78.0,361.79 L78.5,361.76 L79.0,361.78 L79.5,361.79 L80.0,361.74 L80.5,361.69 L81.0,361.68 L81.5,361.69 L82.0,361.69 L82.5,361.69 L83.0,361.68 L83.5,361.68 L84.0,361.67 L84.5,361.63 L85.0,361.58 L85.5,361.52 L86.0,361.47 L86.5,361.41 L87.0,361.38 L87.5,361.36 L88.0,361.32 L88.5,361.28 L89.0,361.22 L89.5,361.16 L90.0,361.11 L90.5,361.04 L91.0,360.95 L91.5,360.89 L92.0,360.88 L92.5,360.85 L93.0,360.76 L93.5,360.67 L94.0,360.63 L94.5,360.59 L95.0,360.54 L95.5,360.48 L96.0,360.43 L96.5,360.41 L97.0,360.42 L97.5,360.44 L98.0,360.41 L98.5,360.35 L99.0,360.29 L99.5,360.24 L100.0,360.22 L100.5,360.23 L101.0,360.22 L101.5,360.18 L102.0,360.19 L102.5,360.28 L103.0,360.37 L103.5,360.39 L104.0,360.35 L104.5,360.33 L105.0,360.33 L105.5,360.30 L106.0,360.27 L106.5,360.28 L107.0,360.33 L107.5,360.35 L108.0,360.35 L108.5,360.33 L109.0,360.33 L109.5,360.34 L110.0,360.35 L110.5,360.35 L111.0,360.36 L111.5,360.36 L112.0,360.37 L112.5,360.40 L113.0,360.45 L113.5,360.47 L114.0,360.46 L114.5,360.45 L115.0,360.46 L115.5,360.49 L116.0,360.52 L116.5,360.56 L117.0,360.61 L117.5,360.65 L118.0,360.66 L118.5,360.65 L119.0,360.63 L119.5,360.63 L120.0,360.64 L120.5,360.64 L121.0,360.67 L121.5,360.68 L122.0,360.68 L122.5,360.71 L123.0,360.77 L123.5,360.84 L124.0,360.90 L124.5,360.94 L125.0,360.95 L125.5,360.89 L126.0,360.85 L126.5,360.86 L127.0,360.93 L127.5,360.98 L128.0,361.00 L128.5,361.00 L129.0,361.02 L129.5,361.04 L130.0,361.03 L130.5,361.00 L131.0,358.35 L131.5,356.98 L132.0,357.81 L132.5,360.44 L133.0,363.95 L133.5,366.44 L134.0,368.04 L134.5,365.01 L135.0,361.61 L135.5,365.84 L136.0,364.33 L136.5,360.93 L137.0,361.67 L137.5,359.43 L138.0,359.24 L138.5,361.74 L139.0,361.86 L139.5,363.78 L140.0,365.26 L140.5,366.91 L141.0,363.96 L141.5,362.47 L142.0,361.57 L142.5,361.03 L143.0,360.09 L143.5,358.89 L144.0,358.20 L144.5,359.45 L145.0,361.32 L145.5,361.10 L146.0,359.54 L146.5,358.23 L147.0,357.15 L147.5,356.80 L148.0,356.18 L148.5,356.47 L149.0,356.56 L149.5,357.05 L150.0,356.06 L150.5,354.06 L151.0,351.59 L151.5,349.85 L152.0,349.60 L152.5,351.87 L153.0,355.83 L153.5,360.15 L154.0,362.98 L154.5,364.13 L155.0,364.29 L155.5,364.68 L156.0,364.79 L156.5,364.32 L157.0,363.45 L157.5,362.13 L158.0,360.80 L158.5,360.14 L159.0,360.12 L159.5,359.35 L160.0,358.92 L160.5,359.58 L161.0,360.57 L161.5,361.31 L162.0,361.47 L162.5,361.25 L163.0,360.70 L163.5,360.79 L164.0,361.40 L164.5,361.74 L165.0,360.96 L165.5,359.42 L166.0,358.25 L166.5,358.07 L167.0,358.68 L167.5,359.09 L168.0,359.67 L168.5,361.15 L169.0,363.24 L169.5,364.69 L170.0,364.97 L170.5,364.84 L171.0,364.84 L171.5,364.80 L172.0,364.22 L172.5,363.18 L173.0,361.91 L173.5,360.80 L174.0,360.99 L174.5,362.31 L175.0,363.19 L175.5,362.25 L176.0,359.98 L176.5,358.36 L177.0,357.96 L177.5,357.95 L178.0,358.07 L178.5,358.12 L179.0,357.83 L179.5,357.56 L180.0,357.82 L180.5,358.52 L181.0,359.37 L181.5,359.93 L182.0,360.40 L182.5,361.60 L183.0,363.39 L183.5,364.20 L184.0,363.71 L184.5,362.95 L185.0,362.09 L185.5,361.35 L186.0,361.22 L186.5,361.06 L187.0,360.69 L187.5,361.01 L188.0,361.77 L188.5,362.30 L189.0,362.63 L189.5,362.67 L190.0,362.58 L190.5,362.72 L191.0,363.11 L191.5,363.38 L192.0,363.34 L192.5,363.36 L193.0,363.40 L193.5,362.94 L194.0,362.28 L194.5,361.86 L195.0,361.25 L195.5,360.20 L196.0,359.35 L196.5,358.93 L197.0,359.00 L197.5,359.99 L198.0,361.23 L198.5,361.11 L199.0,359.68 L199.5,358.93 L200.0,359.86 L200.5,361.40 L201.0,362.27 L201.5,362.40 L202.0,362.25 L202.5,362.04 L203.0,362.21 L203.5,363.13 L204.0,364.30 L204.5,364.51 L205.0,363.12 L205.5,360.84 L206.0,359.13 L206.5,358.53 L207.0,358.39 L207.5,358.25 L208.0,358.51 L208.5,359.54 L209.0,361.16 L209.5,362.56 L210.0,362.91 L210.5,362.13 L211.0,361.64 L211.5,362.90 L212.0,364.69 L212.5,365.24 L213.0,364.71 L213.5,363.79 L214.0,362.70 L214.5,361.73 L215.0,361.13 L215.5,360.93 L216.0,361.18 L216.5,362.05 L217.0,363.20 L217.5,363.97 L218.0,364.27 L218.5,364.12 L219.0,363.43 L219.5,362.55 L220.0,362.00 L220.5,362.01 L221.0,362.15 L221.5,362.35 L222.0,362.90 L222.5,363.55 L223.0,364.22 L223.5,364.77 L224.0,364.75 L224.5,364.28 L225.0,363.49 L225.5,362.51 L226.0,362.29 L226.5,363.02 L227.0,363.40 L227.5,363.02 L228.0,362.76 L228.5,363.04 L229.0,363.66 L229.5,364.21 L230.0,364.50 L230.5,364.59 L231.0,364.35 L231.5,363.77 L232.0,363.23 L232.5,363.00 L233.0,363.10 L233.5,363.09 L234.0,362.67 L234.5,362.11 L235.0,361.48 L235.5,360.85 L236.0,360.26 L236.5,359.79 L237.0,360.10 L237.5,361.08 L238.0,361.32 L238.5,360.44 L239.0,359.88 L239.5,360.55 L240.0,361.44 L240.5,361.56 L241.0,361.43 L241.5,360.84 L242.0,359.37 L242.5,358.15 L243.0,357.80 L243.5,357.71 L244.0,357.74 L244.5,357.94 L245.0,358.05 L245.5,358.37 L246.0,359.04 L246.5,359.71 L247.0,360.37 L247.5,361.13 L248.0,361.58 L248.5,361.44 L249.0,361.27 L249.5,361.38 L250.0,361.20 L250.5,360.62 L251.0,360.42 L251.5,360.64 L252.0,360.66 L252.5,360.49 L253.0,360.56 L253.5,361.33 L254.0,362.74 L254.5,363.73 L255.0,363.40 L255.5,362.11 L256.0,360.83 L256.5,360.33 L257.0,360.79 L257.5,361.86 L258.0,362.97 L258.5,363.54 L259.0,363.46 L259.5,362.92 L260.0,362.21 L260.5,361.79 L261.0,361.65 L261.5,361.42 L262.0,361.35 L262.5,361.62 L263.0,361.94 L263.5,361.93 L264.0,361.42 L264.5,360.55 L265.0,359.84 L265.5,360.25 L266.0,361.54 L266.5,362.12 L267.0,361.75 L267.5,361.69 L268.0,362.46 L268.5,363.54 L269.0,364.27 L269.5,364.41 L270.0,364.22 L270.5,363.99 L271.0,363.79 L271.5,363.40 L272.0,362.48 L272.5,361.70 L273.0,361.88 L273.5,362.24 L274.0,361.86 L274.5,361.01 L275.0,360.65 L275.5,361.28 L276.0,361.94 L276.5,361.54 L277.0,361.20 L277.5,362.33 L278.0,364.04 L278.5,364.60 L279.0,363.48 L279.5,361.41 L280.0,359.35 L280.5,358.52 L281.0,359.35" stroke="#1a1a1a" stroke-width="0.9" fill="none" stroke-linejoin="round"/>
<text x="116.3" y="368.1" font-size="9.1" font-family="'Liberation Sans', sans-serif" fill="#333" text-anchor="end" letter-spacing="0.3">PN10</text>
<path d="M0.0,377.61 L0.5,377.54 L1.0,377.51 L1.5,377.49 L2.0,377.47 L2.5,377.46 L3.0,377.45 L3.5,377.43 L4.0,377.42 L4.5,377.41 L5.0,377.37 L5.5,377.27 L6.0,377.18 L6.5,377.14 L7.0,377.11 L7.5,377.08 L8.0,377.05 L8.5,377.03 L9.0,376.96 L9.5,376.83 L10.0,376.70 L10.5,376.61 L11.0,376.58 L11.5,376.57 L12.0,376.58 L12.5,376.57 L13.0,376.50 L13.5,376.43 L14.0,376.40 L14.5,376.39 L15.0,376.35 L15.5,376.26 L16.0,376.15 L16.5,376.08 L17.0,376.02 L17.5,375.97 L18.0,375.93 L18.5,375.94 L19.0,375.96 L19.5,375.93 L20.0,375.87 L20.5,375.83 L21.0,375.77 L21.5,375.69 L22.0,375.62 L22.5,375.55 L23.0,375.49 L23.5,375.48 L24.0,375.51 L24.5,375.52 L25.0,375.51 L25.5,375.48 L26.0,375.43 L26.5,375.37 L27.0,375.36 L27.5,375.40 L28.0,375.44 L28.5,375.42 L29.0,375.37 L29.5,375.31 L30.0,375.31 L30.5,375.33 L31.0,375.33 L31.5,375.32 L32.0,375.32 L32.5,375.33 L33.0,375.37 L33.5,375.43 L34.0,375.45 L34.5,375.44 L35.0,375.45 L35.5,375.50 L36.0,375.54 L36.5,375.54 L37.0,375.56 L37.5,375.65 L38.0,375.81 L38.5,375.96 L39.0,376.08 L39.5,376.17 L40.0,376.29 L40.5,376.47 L41.0,376.68 L41.5,376.87 L42.0,377.04 L42.5,377.18 L43.0,377.33 L43.5,377.48 L44.0,377.62 L44.5,377.78 L45.0,377.97 L45.5,378.13 L46.0,378.27 L46.5,378.40 L47.0,378.55 L47.5,378.73 L48.0,378.92 L48.5,379.10 L49.0,379.27 L49.5,379.46 L50.0,379.67 L50.5,379.88 L51.0,380.06 L51.5,380.21 L52.0,380.34 L52.5,380.48 L53.0,380.62 L53.5,380.74 L54.0,380.83 L54.5,380.93 L55.0,381.07 L55.5,381.23 L56.0,381.35 L56.5,381.39 L57.0,381.41 L57.5,381.49 L58.0,381.61 L58.5,381.71 L59.0,381.74 L59.5,381.72 L60.0,381.72 L60.5,381.74 L61.0,381.74 L61.5,381.70 L62.0,381.65 L62.5,381.63 L63.0,381.60 L63.5,381.51 L64.0,381.34 L64.5,381.15 L65.0,380.98 L65.5,380.82 L66.0,380.67 L66.5,380.51 L67.0,380.36 L67.5,380.20 L68.0,380.04 L68.5,379.86 L69.0,379.64 L69.5,379.38 L70.0,379.11 L70.5,378.87 L71.0,378.68 L71.5,378.50 L72.0,378.29 L72.5,378.04 L73.0,377.78 L73.5,377.53 L74.0,377.29 L74.5,377.06 L75.0,376.84 L75.5,376.62 L76.0,376.40 L76.5,376.16 L77.0,375.94 L77.5,375.71 L78.0,375.48 L78.5,375.25 L79.0,375.06 L79.5,374.92 L80.0,374.79 L80.5,374.65 L81.0,374.51 L81.5,374.37 L82.0,374.25 L82.5,374.15 L83.0,374.06 L83.5,373.99 L84.0,373.95 L84.5,373.95 L85.0,373.93 L85.5,373.88 L86.0,373.84 L86.5,373.85 L87.0,373.86 L87.5,373.88 L88.0,373.89 L88.5,373.91 L89.0,373.97 L89.5,374.06 L90.0,374.15 L90.5,374.22 L91.0,374.26 L91.5,374.27 L92.0,374.29 L92.5,374.38 L93.0,374.51 L93.5,374.63 L94.0,374.75 L94.5,374.85 L95.0,374.92 L95.5,374.97 L96.0,375.04 L96.5,375.15 L97.0,375.28 L97.5,375.40 L98.0,375.51 L98.5,375.62 L99.0,375.74 L99.5,375.87 L100.0,375.98 L100.5,376.06 L101.0,376.14 L101.5,376.23 L102.0,376.34 L102.5,376.46 L103.0,376.57 L103.5,376.68 L104.0,376.80 L104.5,376.90 L105.0,376.95 L105.5,376.99 L106.0,377.07 L106.5,377.19 L107.0,377.30 L107.5,377.40 L108.0,377.46 L108.5,377.50 L109.0,377.53 L109.5,377.57 L110.0,377.60 L110.5,377.62 L111.0,377.66 L111.5,377.69 L112.0,377.70 L112.5,377.70 L113.0,377.71 L113.5,377.70 L114.0,377.71 L114.5,377.74 L115.0,377.76 L115.5,377.76 L116.0,377.73 L116.5,377.72 L117.0,377.73 L117.5,377.76 L118.0,377.81 L118.5,377.84 L119.0,377.82 L119.5,377.74 L120.0,377.65 L120.5,377.61 L121.0,377.61 L121.5,377.63 L122.0,377.64 L122.5,377.66 L123.0,377.66 L123.5,377.63 L124.0,377.60 L124.5,377.57 L125.0,377.54 L125.5,377.52 L126.0,377.52 L126.5,377.50 L127.0,377.47 L127.5,377.43 L128.0,377.40 L128.5,377.36 L129.0,377.31 L129.5,377.28 L130.0,377.29 L130.5,377.29 L131.0,377.27 L131.5,377.26 L132.0,377.27 L132.5,377.31 L133.0,377.31 L133.5,377.27 L134.0,377.21 L134.5,374.70 L135.0,371.95 L135.5,370.78 L136.0,373.30 L136.5,376.75 L137.0,381.80 L137.5,384.98 L138.0,385.48 L138.5,383.59 L139.0,385.36 L139.5,383.81 L140.0,381.34 L140.5,376.62 L141.0,373.35 L141.5,373.88 L142.0,374.01 L142.5,374.55 L143.0,376.41 L143.5,376.81 L144.0,378.77 L144.5,379.12 L145.0,378.51 L145.5,378.16 L146.0,377.31 L146.5,378.63 L147.0,378.90 L147.5,379.12 L148.0,379.99 L148.5,382.02 L149.0,382.54 L149.5,382.73 L150.0,381.66 L150.5,379.15 L151.0,376.56 L151.5,376.43 L152.0,377.50 L152.5,378.16 L153.0,378.62 L153.5,378.32 L154.0,376.87 L154.5,374.42 L155.0,372.39 L155.5,369.67 L156.0,367.02 L156.5,366.60 L157.0,369.46 L157.5,373.19 L158.0,375.83 L158.5,378.35 L159.0,381.12 L159.5,381.84 L160.0,380.78 L160.5,378.79 L161.0,377.44 L161.5,376.55 L162.0,376.36 L162.5,376.54 L163.0,376.41 L163.5,376.79 L164.0,377.47 L164.5,377.60 L165.0,377.73 L165.5,378.18 L166.0,378.21 L166.5,377.02 L167.0,375.67 L167.5,375.61 L168.0,376.67 L168.5,377.81 L169.0,378.72 L169.5,379.52 L170.0,380.34 L170.5,380.19 L171.0,378.97 L171.5,377.46 L172.0,376.74 L172.5,376.15 L173.0,375.70 L173.5,376.25 L174.0,376.76 L174.5,376.33 L175.0,376.33 L175.5,377.54 L176.0,378.74 L176.5,378.98 L177.0,378.52 L177.5,378.22 L178.0,378.05 L178.5,377.79 L179.0,377.54 L179.5,377.54 L180.0,378.02 L180.5,378.72 L181.0,379.06 L181.5,378.94 L182.0,378.81 L182.5,378.77 L183.0,378.75 L183.5,378.85 L184.0,379.08 L184.5,379.32 L185.0,379.38 L185.5,379.11 L186.0,378.51 L186.5,377.72 L187.0,377.41 L187.5,378.54 L188.0,380.46 L188.5,381.10 L189.0,379.85 L189.5,377.91 L190.0,376.55 L190.5,376.29 L191.0,376.49 L191.5,377.03 L192.0,378.01 L192.5,378.55 L193.0,378.25 L193.5,377.57 L194.0,376.54 L194.5,375.18 L195.0,374.03 L195.5,373.63 L196.0,373.95 L196.5,374.37 L197.0,374.56 L197.5,374.87 L198.0,375.47 L198.5,375.89 L199.0,375.91 L199.5,375.78 L200.0,376.04 L200.5,377.02 L201.0,378.22 L201.5,378.79 L202.0,378.77 L202.5,378.26 L203.0,377.62 L203.5,377.63 L204.0,378.10 L204.5,378.41 L205.0,378.58 L205.5,378.64 L206.0,378.70 L206.5,378.86 L207.0,378.78 L207.5,378.58 L208.0,378.51 L208.5,378.04 L209.0,377.03 L209.5,376.52 L210.0,376.83 L210.5,376.87 L211.0,376.35 L211.5,376.50 L212.0,377.63 L212.5,378.53 L213.0,378.50 L213.5,378.01 L214.0,377.81 L214.5,378.05 L215.0,377.94 L215.5,377.36 L216.0,377.61 L216.5,378.74 L217.0,379.31 L217.5,378.93 L218.0,378.43 L218.5,378.18 L219.0,377.78 L219.5,377.15 L220.0,377.17 L220.5,378.51 L221.0,380.18 L221.5,380.99 L222.0,380.87 L222.5,380.14 L223.0,379.39 L223.5,378.97 L224.0,378.87 L224.5,379.01 L225.0,378.76 L225.5,377.92 L226.0,377.36 L226.5,377.60 L227.0,378.23 L227.5,378.69 L228.0,378.75 L228.5,378.09 L229.0,376.86 L229.5,376.03 L230.0,376.34 L230.5,377.32 L231.0,377.74 L231.5,377.73 L232.0,378.03 L232.5,378.31 L233.0,378.10 L233.5,377.98 L234.0,378.54 L234.5,379.30 L235.0,379.29 L235.5,378.01 L236.0,376.26 L236.5,375.27 L237.0,375.31 L237.5,375.99 L238.0,376.81 L238.5,377.39 L239.0,377.34 L239.5,377.08 L240.0,377.50 L240.5,377.99 L241.0,377.66 L241.5,376.99 L242.0,376.66 L242.5,376.95 L243.0,377.86 L243.5,378.53 L244.0,378.28 L244.5,377.75 L245.0,377.69 L245.5,377.91 L246.0,378.27 L246.5,378.85 L247.0,379.18 L247.5,379.00 L248.0,379.15 L248.5,379.65 L249.0,379.84 L249.5,379.98 L250.0,380.24 L250.5,380.20 L251.0,379.65 L251.5,378.63 L252.0,377.56 L252.5,376.87 L253.0,376.61 L253.5,376.68 L254.0,376.49 L254.5,375.77 L255.0,375.42 L255.5,376.10 L256.0,376.92 L256.5,377.15 L257.0,377.20 L257.5,377.53 L258.0,378.09 L258.5,378.63 L259.0,378.79 L259.5,378.27 L260.0,377.58 L260.5,377.47 L261.0,377.71 L261.5,377.62 L262.0,377.06 L262.5,376.81 L263.0,377.63 L263.5,378.68 L264.0,378.88 L264.5,378.58 L265.0,378.31 L265.5,378.10 L266.0,378.14 L266.5,378.69 L267.0,379.28 L267.5,378.89 L268.0,377.47 L268.5,376.25 L269.0,376.45 L269.5,377.40 L270.0,377.13 L270.5,375.40 L271.0,373.72 L271.5,373.29 L272.0,374.21 L272.5,375.53 L273.0,376.37 L273.5,376.91 L274.0,377.22 L274.5,376.82 L275.0,376.41 L275.5,377.16 L276.0,379.14 L276.5,381.12 L277.0,381.73 L277.5,381.11 L278.0,380.20 L278.5,379.28 L279.0,377.95 L279.5,376.41 L280.0,375.63 L280.5,375.79 L281.0,376.26" stroke="#1a1a1a" stroke-width="0.9" fill="none" stroke-linejoin="round"/>
<text x="121.2" y="387.6" font-size="9.1" font-family="'Liberation Sans', sans-serif" fill="#333" text-anchor="end" letter-spacing="0.3">KE14</text>
<path d="M0.0,392.82 L0.5,392.86 L1.0,392.90 L1.5,392.90 L2.0,392.85 L2.5,392.79 L3.0,392.77 L3.5,392.78 L4.0,392.80 L4.5,392.81 L5.0,392.82 L5.5,392.79 L6.0,392.74 L6.5,392.73 L7.0,392.77 L7.5,392.80 L8.0,392.81 L8.5,392.80 L9.0,392.77 L9.5,392.74 L10.0,392.72 L10.5,392.72 L11.0,392.73 L11.5,392.73 L12.0,392.74 L12.5,392.76 L13.0,392.78 L13.5,392.76 L14.0,392.72 L14.5,392.66 L15.0,392.64 L15.5,392.66 L16.0,392.70 L16.5,392.72 L17.0,392.69 L17.5,392.65 L18.0,392.65 L18.5,392.67 L19.0,392.71 L19.5,392.73 L20.0,392.72 L20.5,392.66 L21.0,392.61 L21.5,392.59 L22.0,392.61 L22.5,392.62 L23.0,392.57 L23.5,392.50 L24.0,392.48 L24.5,392.52 L25.0,392.55 L25.5,392.54 L26.0,392.49 L26.5,392.45 L27.0,392.47 L27.5,392.51 L28.0,392.55 L28.5,392.56 L29.0,392.56 L29.5,392.56 L30.0,392.56 L30.5,392.53 L31.0,392.49 L31.5,392.46 L32.0,392.45 L32.5,392.47 L33.0,392.51 L33.5,392.52 L34.0,392.49 L34.5,392.47 L35.0,392.52 L35.5,392.57 L36.0,392.54 L36.5,392.45 L37.0,392.37 L37.5,392.37 L38.0,392.41 L38.5,392.44 L39.0,392.43 L39.5,392.40 L40.0,392.38 L40.5,392.39 L41.0,392.41 L41.5,392.45 L42.0,392.49 L42.5,392.52 L43.0,392.52 L43.5,392.46 L44.0,392.39 L44.5,392.38 L45.0,392.42 L45.5,392.44 L46.0,392.43 L46.5,392.39 L47.0,392.38 L47.5,392.40 L48.0,392.41 L48.5,392.40 L49.0,392.38 L49.5,392.35 L50.0,392.32 L50.5,392.32 L51.0,392.37 L51.5,392.41 L52.0,392.45 L52.5,392.47 L53.0,392.47 L53.5,392.42 L54.0,392.37 L54.5,392.35 L55.0,392.36 L55.5,392.39 L56.0,392.41 L56.5,392.41 L57.0,392.43 L57.5,392.48 L58.0,392.52 L58.5,392.52 L59.0,392.50 L59.5,392.49 L60.0,392.49 L60.5,392.53 L61.0,392.59 L61.5,392.63 L62.0,392.65 L62.5,392.63 L63.0,392.59 L63.5,392.55 L64.0,392.51 L64.5,392.49 L65.0,392.51 L65.5,392.54 L66.0,392.57 L66.5,392.60 L67.0,392.64 L67.5,392.65 L68.0,392.63 L68.5,392.60 L69.0,392.60 L69.5,392.62 L70.0,392.68 L70.5,392.74 L71.0,392.77 L71.5,392.77 L72.0,392.74 L72.5,392.73 L73.0,392.79 L73.5,392.86 L74.0,392.90 L74.5,392.89 L75.0,392.87 L75.5,392.87 L76.0,392.88 L76.5,392.93 L77.0,392.95 L77.5,392.92 L78.0,392.87 L78.5,392.86 L79.0,392.89 L79.5,392.94 L80.0,392.98 L80.5,393.02 L81.0,393.02 L81.5,393.00 L82.0,392.98 L82.5,393.00 L83.0,393.04 L83.5,393.08 L84.0,393.11 L84.5,393.14 L85.0,393.15 L85.5,393.13 L86.0,393.11 L86.5,393.14 L87.0,393.19 L87.5,393.24 L88.0,393.28 L88.5,393.25 L89.0,393.17 L89.5,393.09 L90.0,393.04 L90.5,393.03 L91.0,393.07 L91.5,393.13 L92.0,393.17 L92.5,393.17 L93.0,393.17 L93.5,393.18 L94.0,393.19 L94.5,393.23 L95.0,393.26 L95.5,393.25 L96.0,393.24 L96.5,393.25 L97.0,393.25 L97.5,393.28 L98.0,393.32 L98.5,393.29 L99.0,393.22 L99.5,393.19 L100.0,393.23 L100.5,393.27 L101.0,393.28 L101.5,393.27 L102.0,393.24 L102.5,393.21 L103.0,393.19 L103.5,393.20 L104.0,393.20 L104.5,393.20 L105.0,393.23 L105.5,393.28 L106.0,393.34 L106.5,393.34 L107.0,393.28 L107.5,393.21 L108.0,393.19 L108.5,393.21 L109.0,393.23 L109.5,393.24 L110.0,393.24 L110.5,393.27 L111.0,393.32 L111.5,393.36 L112.0,393.33 L112.5,393.26 L113.0,393.21 L113.5,393.19 L114.0,393.18 L114.5,393.16 L115.0,393.14 L115.5,393.15 L116.0,393.17 L116.5,393.20 L117.0,393.25 L117.5,393.26 L118.0,393.23 L118.5,393.18 L119.0,393.15 L119.5,393.12 L120.0,393.10 L120.5,393.11 L121.0,393.16 L121.5,393.22 L122.0,393.23 L122.5,393.16 L123.0,393.08 L123.5,393.03 L124.0,393.00 L124.5,393.00 L125.0,393.02 L125.5,393.08 L126.0,393.13 L126.5,393.13 L127.0,393.10 L127.5,393.04 L128.0,392.98 L128.5,392.97 L129.0,393.00 L129.5,393.02 L130.0,392.99 L130.5,392.95 L131.0,392.94 L131.5,392.95 L132.0,392.95 L132.5,392.92 L133.0,392.93 L133.5,392.96 L134.0,392.95 L134.5,392.92 L135.0,392.91 L135.5,392.95 L136.0,392.97 L136.5,392.94 L137.0,392.90 L137.5,392.91 L138.0,392.94 L138.5,389.15 L139.0,387.72 L139.5,389.05 L140.0,392.51 L140.5,395.23 L141.0,396.95 L141.5,394.32 L142.0,391.47 L142.5,387.42 L143.0,389.04 L143.5,392.31 L144.0,394.78 L144.5,395.84 L145.0,394.58 L145.5,393.72 L146.0,390.42 L146.5,389.08 L147.0,390.62 L147.5,393.86 L148.0,393.88 L148.5,392.41 L149.0,391.81 L149.5,391.64 L150.0,393.79 L150.5,394.04 L151.0,393.40 L151.5,392.21 L152.0,390.65 L152.5,391.68 L153.0,393.68 L153.5,393.21 L154.0,391.45 L154.5,389.38 L155.0,388.51 L155.5,389.09 L156.0,389.97 L156.5,391.01 L157.0,393.21 L157.5,394.58 L158.0,394.16 L158.5,393.36 L159.0,391.87 L159.5,389.03 L160.0,385.97 L160.5,384.57 L161.0,385.52 L161.5,388.42 L162.0,392.80 L162.5,397.16 L163.0,399.61 L163.5,399.30 L164.0,397.00 L164.5,394.83 L165.0,394.47 L165.5,394.35 L166.0,393.83 L166.5,392.10 L167.0,390.17 L167.5,389.87 L168.0,390.86 L168.5,392.19 L169.0,393.25 L169.5,393.65 L170.0,393.09 L170.5,392.65 L171.0,392.53 L171.5,392.12 L172.0,392.25 L172.5,393.02 L173.0,393.21 L173.5,392.40 L174.0,392.00 L174.5,392.76 L175.0,393.80 L175.5,394.39 L176.0,394.29 L176.5,394.07 L177.0,394.18 L177.5,394.44 L178.0,394.94 L178.5,395.73 L179.0,396.30 L179.5,395.73 L180.0,393.83 L180.5,392.17 L181.0,392.46 L181.5,393.49 L182.0,393.23 L182.5,391.82 L183.0,390.86 L183.5,391.34 L184.0,392.81 L184.5,394.01 L185.0,394.16 L185.5,393.75 L186.0,393.12 L186.5,392.27 L187.0,391.65 L187.5,391.58 L188.0,392.07 L188.5,392.61 L189.0,392.67 L189.5,392.38 L190.0,392.14 L190.5,392.07 L191.0,391.97 L191.5,391.54 L192.0,391.13 L192.5,391.38 L193.0,392.31 L193.5,393.43 L194.0,393.79 L194.5,392.80 L195.0,391.33 L195.5,390.91 L196.0,391.84 L196.5,393.21 L197.0,394.12 L197.5,394.57 L198.0,394.89 L198.5,394.80 L199.0,394.13 L199.5,393.47 L200.0,393.14 L200.5,392.83 L201.0,392.80 L201.5,393.18 L202.0,393.12 L202.5,392.34 L203.0,391.32 L203.5,390.62 L204.0,390.74 L204.5,391.33 L205.0,391.77 L205.5,392.17 L206.0,392.40 L206.5,392.13 L207.0,392.08 L207.5,392.91 L208.0,393.66 L208.5,393.35 L209.0,392.36 L209.5,391.53 L210.0,391.20 L210.5,391.59 L211.0,392.51 L211.5,392.82 L212.0,391.97 L212.5,391.06 L213.0,390.98 L213.5,391.28 L214.0,391.57 L214.5,391.94 L215.0,392.26 L215.5,392.56 L216.0,393.50 L216.5,395.31 L217.0,396.98 L217.5,397.63 L218.0,397.25 L218.5,396.16 L219.0,395.08 L219.5,394.59 L220.0,394.50 L220.5,394.14 L221.0,393.35 L221.5,393.02 L222.0,393.53 L222.5,393.65 L223.0,392.91 L223.5,392.87 L224.0,393.73 L224.5,393.73 L225.0,392.87 L225.5,393.01 L226.0,394.27 L226.5,394.99 L227.0,394.50 L227.5,393.62 L228.0,392.83 L228.5,391.97 L229.0,391.82 L229.5,393.11 L230.0,394.37 L230.5,394.26 L231.0,393.68 L231.5,393.98 L232.0,394.78 L232.5,394.54 L233.0,393.60 L233.5,393.59 L234.0,394.71 L234.5,395.74 L235.0,395.61 L235.5,394.59 L236.0,393.58 L236.5,392.64 L237.0,391.53 L237.5,390.78 L238.0,390.86 L238.5,391.10 L239.0,390.86 L239.5,390.73 L240.0,391.11 L240.5,391.58 L241.0,391.90 L241.5,392.19 L242.0,392.35 L242.5,392.47 L243.0,392.99 L243.5,393.72 L244.0,393.79 L244.5,393.05 L245.0,391.95 L245.5,391.02 L246.0,390.89 L246.5,391.44 L247.0,392.17 L247.5,393.27 L248.0,394.28 L248.5,394.33 L249.0,393.60 L249.5,392.76 L250.0,392.41 L250.5,392.66 L251.0,392.90 L251.5,392.70 L252.0,392.04 L252.5,391.42 L253.0,391.83 L253.5,393.03 L254.0,393.71 L254.5,393.39 L255.0,392.58 L255.5,392.05 L256.0,392.14 L256.5,392.62 L257.0,393.19 L257.5,394.02 L258.0,395.24 L258.5,395.80 L259.0,394.58 L259.5,392.21 L260.0,390.09 L260.5,388.93 L261.0,388.44 L261.5,388.42 L262.0,389.13 L262.5,390.51 L263.0,391.87 L263.5,392.59 L264.0,392.96 L264.5,393.43 L265.0,393.98 L265.5,394.15 L266.0,393.77 L266.5,393.68 L267.0,394.67 L267.5,396.25 L268.0,397.20 L268.5,396.54 L269.0,394.63 L269.5,392.99 L270.0,392.33 L270.5,392.34 L271.0,392.62 L271.5,392.74 L272.0,392.73 L272.5,392.95 L273.0,393.40 L273.5,393.76 L274.0,393.42 L274.5,392.22 L275.0,391.08 L275.5,390.69 L276.0,390.60 L276.5,390.61 L277.0,391.09 L277.5,392.00 L278.0,392.99 L278.5,393.82 L279.0,394.20 L279.5,394.27 L280.0,393.88 L280.5,392.52 L281.0,391.22" stroke="#1a1a1a" stroke-width="0.9" fill="none" stroke-linejoin="round"/>
<text x="123.3" y="402.0" font-size="9.1" font-family="'Liberation Sans', sans-serif" fill="#333" text-anchor="end" letter-spacing="0.3">KM03</text>
<path d="M0.0,411.16 L0.5,411.14 L1.0,411.14 L1.5,411.15 L2.0,411.16 L2.5,411.16 L3.0,411.15 L3.5,411.15 L4.0,411.15 L4.5,411.13 L5.0,411.08 L5.5,411.03 L6.0,410.97 L6.5,410.92 L7.0,410.88 L7.5,410.88 L8.0,410.90 L8.5,410.91 L9.0,410.88 L9.5,410.83 L10.0,410.77 L10.5,410.71 L11.0,410.67 L11.5,410.66 L12.0,410.67 L12.5,410.68 L13.0,410.66 L13.5,410.63 L14.0,410.59 L14.5,410.58 L15.0,410.57 L15.5,410.56 L16.0,410.54 L16.5,410.52 L17.0,410.49 L17.5,410.45 L18.0,410.42 L18.5,410.39 L19.0,410.36 L19.5,410.31 L20.0,410.24 L20.5,410.17 L21.0,410.16 L21.5,410.21 L22.0,410.26 L22.5,410.25 L23.0,410.23 L23.5,410.21 L24.0,410.16 L24.5,410.09 L25.0,410.01 L25.5,409.95 L26.0,409.92 L26.5,409.92 L27.0,409.93 L27.5,409.93 L28.0,409.93 L28.5,409.91 L29.0,409.83 L29.5,409.74 L30.0,409.69 L30.5,409.69 L31.0,409.71 L31.5,409.70 L32.0,409.67 L32.5,409.64 L33.0,409.62 L33.5,409.57 L34.0,409.50 L34.5,409.43 L35.0,409.39 L35.5,409.36 L36.0,409.35 L36.5,409.34 L37.0,409.34 L37.5,409.29 L38.0,409.21 L38.5,409.14 L39.0,409.11 L39.5,409.10 L40.0,409.06 L40.5,408.98 L41.0,408.88 L41.5,408.80 L42.0,408.76 L42.5,408.75 L43.0,408.73 L43.5,408.65 L44.0,408.56 L44.5,408.51 L45.0,408.51 L45.5,408.52 L46.0,408.50 L46.5,408.47 L47.0,408.44 L47.5,408.40 L48.0,408.32 L48.5,408.24 L49.0,408.19 L49.5,408.16 L50.0,408.13 L50.5,408.10 L51.0,408.07 L51.5,408.03 L52.0,407.97 L52.5,407.91 L53.0,407.88 L53.5,407.86 L54.0,407.83 L54.5,407.77 L55.0,407.72 L55.5,407.69 L56.0,407.66 L56.5,407.62 L57.0,407.60 L57.5,407.60 L58.0,407.63 L58.5,407.65 L59.0,407.65 L59.5,407.59 L60.0,407.54 L60.5,407.54 L61.0,407.60 L61.5,407.66 L62.0,407.68 L62.5,407.69 L63.0,407.68 L63.5,407.65 L64.0,407.62 L64.5,407.58 L65.0,407.54 L65.5,407.51 L66.0,407.52 L66.5,407.58 L67.0,407.66 L67.5,407.68 L68.0,407.65 L68.5,407.63 L69.0,407.65 L69.5,407.66 L70.0,407.67 L70.5,407.68 L71.0,407.68 L71.5,407.67 L72.0,407.69 L72.5,407.73 L73.0,407.75 L73.5,407.75 L74.0,407.77 L74.5,407.79 L75.0,407.79 L75.5,407.79 L76.0,407.84 L76.5,407.93 L77.0,408.01 L77.5,408.03 L78.0,408.05 L78.5,408.10 L79.0,408.18 L79.5,408.25 L80.0,408.28 L80.5,408.28 L81.0,408.28 L81.5,408.28 L82.0,408.29 L82.5,408.31 L83.0,408.30 L83.5,408.28 L84.0,408.31 L84.5,408.36 L85.0,408.39 L85.5,408.40 L86.0,408.43 L86.5,408.47 L87.0,408.50 L87.5,408.56 L88.0,408.66 L88.5,408.73 L89.0,408.75 L89.5,408.72 L90.0,408.72 L90.5,408.74 L91.0,408.78 L91.5,408.84 L92.0,408.91 L92.5,408.96 L93.0,408.97 L93.5,408.97 L94.0,408.97 L94.5,408.97 L95.0,408.98 L95.5,409.01 L96.0,409.03 L96.5,409.04 L97.0,409.09 L97.5,409.15 L98.0,409.20 L98.5,409.21 L99.0,409.19 L99.5,409.21 L100.0,409.29 L100.5,409.38 L101.0,409.46 L101.5,409.51 L102.0,409.52 L102.5,409.51 L103.0,409.54 L103.5,409.61 L104.0,409.69 L104.5,409.74 L105.0,409.76 L105.5,409.73 L106.0,409.69 L106.5,409.68 L107.0,409.69 L107.5,409.72 L108.0,409.78 L108.5,409.85 L109.0,409.93 L109.5,410.02 L110.0,410.09 L110.5,410.13 L111.0,410.16 L111.5,410.19 L112.0,410.24 L112.5,410.28 L113.0,410.32 L113.5,410.34 L114.0,410.34 L114.5,410.34 L115.0,410.38 L115.5,410.45 L116.0,410.49 L116.5,410.47 L117.0,410.41 L117.5,410.38 L118.0,410.40 L118.5,410.47 L119.0,410.54 L119.5,410.58 L120.0,410.60 L120.5,410.62 L121.0,410.63 L121.5,410.65 L122.0,410.66 L122.5,410.67 L123.0,410.67 L123.5,410.68 L124.0,410.74 L124.5,410.84 L125.0,410.89 L125.5,410.90 L126.0,410.86 L126.5,410.78 L127.0,410.67 L127.5,410.60 L128.0,410.62 L128.5,410.68 L129.0,410.73 L129.5,410.72 L130.0,410.67 L130.5,410.62 L131.0,410.61 L131.5,410.66 L132.0,410.69 L132.5,410.69 L133.0,410.68 L133.5,410.67 L134.0,410.64 L134.5,410.63 L135.0,410.64 L135.5,410.65 L136.0,410.62 L136.5,410.55 L137.0,410.51 L137.5,410.52 L138.0,410.56 L138.5,410.59 L139.0,407.37 L139.5,403.70 L140.0,401.90 L140.5,404.50 L141.0,409.44 L141.5,411.54 L142.0,412.31 L142.5,413.80 L143.0,410.91 L143.5,410.85 L144.0,412.13 L144.5,410.50 L145.0,410.87 L145.5,412.69 L146.0,410.08 L146.5,407.57 L147.0,411.47 L147.5,413.13 L148.0,413.26 L148.5,413.49 L149.0,414.51 L149.5,412.77 L150.0,412.28 L150.5,410.88 L151.0,411.12 L151.5,412.15 L152.0,411.43 L152.5,409.70 L153.0,409.96 L153.5,410.26 L154.0,408.83 L154.5,408.86 L155.0,410.57 L155.5,410.79 L156.0,410.06 L156.5,408.32 L157.0,407.11 L157.5,406.06 L158.0,406.54 L158.5,407.60 L159.0,408.21 L159.5,408.79 L160.0,409.58 L160.5,410.23 L161.0,408.41 L161.5,404.99 L162.0,403.51 L162.5,404.07 L163.0,405.49 L163.5,407.59 L164.0,410.88 L164.5,413.67 L165.0,414.85 L165.5,414.29 L166.0,413.70 L166.5,413.15 L167.0,412.21 L167.5,410.11 L168.0,407.27 L168.5,405.77 L169.0,406.14 L169.5,407.44 L170.0,409.29 L170.5,410.56 L171.0,411.08 L171.5,411.50 L172.0,412.46 L172.5,413.38 L173.0,413.12 L173.5,411.86 L174.0,411.30 L174.5,411.21 L175.0,410.59 L175.5,410.48 L176.0,411.91 L176.5,413.33 L177.0,413.37 L177.5,412.30 L178.0,411.00 L178.5,410.62 L179.0,411.40 L179.5,412.51 L180.0,413.13 L180.5,413.14 L181.0,412.89 L181.5,412.44 L182.0,411.73 L182.5,410.90 L183.0,410.34 L183.5,410.26 L184.0,410.52 L184.5,411.00 L185.0,411.58 L185.5,411.89 L186.0,411.43 L186.5,410.44 L187.0,409.85 L187.5,409.63 L188.0,409.41 L188.5,409.21 L189.0,408.71 L189.5,408.01 L190.0,408.08 L190.5,409.34 L191.0,410.93 L191.5,411.75 L192.0,411.47 L192.5,410.61 L193.0,410.20 L193.5,410.76 L194.0,411.69 L194.5,412.13 L195.0,412.27 L195.5,412.75 L196.0,413.20 L196.5,412.78 L197.0,411.51 L197.5,410.53 L198.0,410.63 L198.5,411.05 L199.0,410.56 L199.5,409.05 L200.0,407.68 L200.5,407.65 L201.0,408.73 L201.5,409.72 L202.0,410.03 L202.5,410.10 L203.0,410.79 L203.5,411.74 L204.0,412.19 L204.5,412.74 L205.0,413.89 L205.5,414.49 L206.0,413.64 L206.5,412.16 L207.0,410.98 L207.5,410.09 L208.0,409.06 L208.5,408.16 L209.0,408.54 L209.5,409.81 L210.0,410.25 L210.5,409.47 L211.0,408.66 L211.5,408.89 L212.0,409.82 L212.5,410.22 L213.0,409.83 L213.5,409.94 L214.0,411.07 L214.5,411.68 L215.0,410.80 L215.5,409.59 L216.0,409.21 L216.5,409.21 L217.0,409.00 L217.5,409.06 L218.0,409.79 L218.5,410.79 L219.0,411.53 L219.5,411.63 L220.0,410.74 L220.5,409.24 L221.0,408.21 L221.5,408.31 L222.0,409.17 L222.5,410.11 L223.0,410.85 L223.5,411.06 L224.0,410.44 L224.5,409.36 L225.0,408.26 L225.5,407.47 L226.0,407.59 L226.5,408.48 L227.0,409.48 L227.5,410.53 L228.0,411.57 L228.5,412.28 L229.0,412.98 L229.5,414.00 L230.0,414.45 L230.5,413.66 L231.0,412.29 L231.5,410.96 L232.0,410.14 L232.5,410.40 L233.0,411.43 L233.5,412.33 L234.0,412.56 L234.5,412.18 L235.0,411.49 L235.5,410.99 L236.0,411.11 L236.5,411.68 L237.0,411.83 L237.5,411.29 L238.0,410.81 L238.5,410.73 L239.0,410.71 L239.5,410.77 L240.0,410.88 L240.5,410.61 L241.0,409.99 L241.5,409.73 L242.0,410.05 L242.5,410.50 L243.0,410.98 L243.5,411.66 L244.0,411.74 L244.5,410.09 L245.0,408.02 L245.5,408.03 L246.0,409.98 L246.5,411.83 L247.0,411.96 L247.5,410.42 L248.0,409.17 L248.5,409.62 L249.0,410.83 L249.5,411.28 L250.0,410.88 L250.5,410.27 L251.0,410.14 L251.5,410.54 L252.0,410.69 L252.5,410.35 L253.0,409.79 L253.5,409.50 L254.0,410.20 L254.5,411.24 L255.0,411.47 L255.5,410.90 L256.0,410.21 L256.5,409.79 L257.0,409.77 L257.5,410.07 L258.0,410.63 L258.5,411.35 L259.0,411.86 L259.5,411.51 L260.0,410.37 L260.5,409.53 L261.0,409.62 L261.5,410.29 L262.0,410.95 L262.5,411.26 L263.0,411.70 L263.5,412.56 L264.0,413.11 L264.5,412.71 L265.0,411.56 L265.5,410.66 L266.0,410.77 L266.5,411.42 L267.0,411.67 L267.5,411.66 L268.0,412.04 L268.5,412.57 L269.0,412.47 L269.5,411.75 L270.0,411.07 L270.5,410.52 L271.0,410.07 L271.5,409.96 L272.0,409.90 L272.5,409.60 L273.0,409.49 L273.5,409.57 L274.0,409.50 L274.5,409.61 L275.0,410.32 L275.5,411.55 L276.0,412.69 L276.5,412.97 L277.0,412.63 L277.5,412.06 L278.0,410.82 L278.5,409.28 L279.0,408.94 L279.5,409.91 L280.0,411.05 L280.5,411.79 L281.0,412.06" stroke="#1a1a1a" stroke-width="0.9" fill="none" stroke-linejoin="round"/>
<text x="128.3" y="417.8" font-size="9.1" font-family="'Liberation Sans', sans-serif" fill="#333" text-anchor="end" letter-spacing="0.3">KM04</text>
<path d="M0.0,425.00 L0.5,424.97 L1.0,424.97 L1.5,424.98 L2.0,425.00 L2.5,425.00 L3.0,424.97 L3.5,424.92 L4.0,424.88 L4.5,424.88 L5.0,424.91 L5.5,424.92 L6.0,424.93 L6.5,424.91 L7.0,424.88 L7.5,424.86 L8.0,424.87 L8.5,424.86 L9.0,424.82 L9.5,424.78 L10.0,424.76 L10.5,424.75 L11.0,424.72 L11.5,424.69 L12.0,424.66 L12.5,424.61 L13.0,424.57 L13.5,424.53 L14.0,424.51 L14.5,424.49 L15.0,424.49 L15.5,424.47 L16.0,424.44 L16.5,424.40 L17.0,424.35 L17.5,424.30 L18.0,424.30 L18.5,424.29 L19.0,424.28 L19.5,424.27 L20.0,424.28 L20.5,424.33 L21.0,424.38 L21.5,424.39 L22.0,424.35 L22.5,424.29 L23.0,424.24 L23.5,424.20 L24.0,424.18 L24.5,424.19 L25.0,424.20 L25.5,424.19 L26.0,424.17 L26.5,424.16 L27.0,424.16 L27.5,424.12 L28.0,424.06 L28.5,424.02 L29.0,424.01 L29.5,424.03 L30.0,424.08 L30.5,424.13 L31.0,424.12 L31.5,424.08 L32.0,424.05 L32.5,424.02 L33.0,423.97 L33.5,423.93 L34.0,423.92 L34.5,423.93 L35.0,423.93 L35.5,423.93 L36.0,423.93 L36.5,423.94 L37.0,423.95 L37.5,423.96 L38.0,423.94 L38.5,423.89 L39.0,423.84 L39.5,423.85 L40.0,423.89 L40.5,423.89 L41.0,423.86 L41.5,423.85 L42.0,423.87 L42.5,423.88 L43.0,423.89 L43.5,423.89 L44.0,423.86 L44.5,423.82 L45.0,423.81 L45.5,423.85 L46.0,423.90 L46.5,423.93 L47.0,423.93 L47.5,423.94 L48.0,423.96 L48.5,423.95 L49.0,423.91 L49.5,423.87 L50.0,423.84 L50.5,423.86 L51.0,423.95 L51.5,424.04 L52.0,424.07 L52.5,424.04 L53.0,424.01 L53.5,424.03 L54.0,424.07 L54.5,424.08 L55.0,424.06 L55.5,424.03 L56.0,424.02 L56.5,424.05 L57.0,424.10 L57.5,424.13 L58.0,424.13 L58.5,424.13 L59.0,424.12 L59.5,424.12 L60.0,424.11 L60.5,424.09 L61.0,424.10 L61.5,424.14 L62.0,424.15 L62.5,424.13 L63.0,424.11 L63.5,424.15 L64.0,424.24 L64.5,424.28 L65.0,424.26 L65.5,424.26 L66.0,424.31 L66.5,424.37 L67.0,424.37 L67.5,424.33 L68.0,424.30 L68.5,424.30 L69.0,424.33 L69.5,424.36 L70.0,424.37 L70.5,424.38 L71.0,424.36 L71.5,424.32 L72.0,424.29 L72.5,424.30 L73.0,424.35 L73.5,424.41 L74.0,424.48 L74.5,424.54 L75.0,424.59 L75.5,424.62 L76.0,424.62 L76.5,424.59 L77.0,424.54 L77.5,424.48 L78.0,424.49 L78.5,424.56 L79.0,424.60 L79.5,424.57 L80.0,424.53 L80.5,424.53 L81.0,424.57 L81.5,424.62 L82.0,424.65 L82.5,424.65 L83.0,424.64 L83.5,424.64 L84.0,424.65 L84.5,424.65 L85.0,424.66 L85.5,424.71 L86.0,424.78 L86.5,424.83 L87.0,424.85 L87.5,424.85 L88.0,424.88 L88.5,424.91 L89.0,424.92 L89.5,424.91 L90.0,424.92 L90.5,424.94 L91.0,424.96 L91.5,424.96 L92.0,424.94 L92.5,424.93 L93.0,424.93 L93.5,424.92 L94.0,424.91 L94.5,424.89 L95.0,424.88 L95.5,424.90 L96.0,424.95 L96.5,425.00 L97.0,425.04 L97.5,425.06 L98.0,425.07 L98.5,425.10 L99.0,425.11 L99.5,425.08 L100.0,425.07 L100.5,425.09 L101.0,425.11 L101.5,425.12 L102.0,425.15 L102.5,425.18 L103.0,425.21 L103.5,425.25 L104.0,425.27 L104.5,425.27 L105.0,425.27 L105.5,425.28 L106.0,425.29 L106.5,425.29 L107.0,425.30 L107.5,425.33 L108.0,425.37 L108.5,425.37 L109.0,425.34 L109.5,425.31 L110.0,425.30 L110.5,425.29 L111.0,425.30 L111.5,425.35 L112.0,425.37 L112.5,425.38 L113.0,425.37 L113.5,425.39 L114.0,425.43 L114.5,425.45 L115.0,425.47 L115.5,425.50 L116.0,425.52 L116.5,425.54 L117.0,425.56 L117.5,425.55 L118.0,425.50 L118.5,425.43 L119.0,425.40 L119.5,425.42 L120.0,425.47 L120.5,425.52 L121.0,425.55 L121.5,425.57 L122.0,425.58 L122.5,425.56 L123.0,425.53 L123.5,425.51 L124.0,425.51 L124.5,425.49 L125.0,425.46 L125.5,425.42 L126.0,425.39 L126.5,425.39 L127.0,425.42 L127.5,425.44 L128.0,425.44 L128.5,425.40 L129.0,425.33 L129.5,425.26 L130.0,425.20 L130.5,425.19 L131.0,425.21 L131.5,425.23 L132.0,425.22 L132.5,425.19 L133.0,425.14 L133.5,425.11 L134.0,425.12 L134.5,425.11 L135.0,425.10 L135.5,425.12 L136.0,425.16 L136.5,425.15 L137.0,425.08 L137.5,425.00 L138.0,424.94 L138.5,423.50 L139.0,422.18 L139.5,422.13 L140.0,424.27 L140.5,427.93 L141.0,431.20 L141.5,431.17 L142.0,431.61 L142.5,428.92 L143.0,426.33 L143.5,426.14 L144.0,424.26 L144.5,425.37 L145.0,423.48 L145.5,422.38 L146.0,423.06 L146.5,423.19 L147.0,425.44 L147.5,427.43 L148.0,426.26 L148.5,424.59 L149.0,426.70 L149.5,428.89 L150.0,427.97 L150.5,427.08 L151.0,427.68 L151.5,426.23 L152.0,425.54 L152.5,424.36 L153.0,421.51 L153.5,421.97 L154.0,423.15 L154.5,423.78 L155.0,424.45 L155.5,424.81 L156.0,425.33 L156.5,426.44 L157.0,426.91 L157.5,426.34 L158.0,423.62 L158.5,419.68 L159.0,417.07 L159.5,416.99 L160.0,418.40 L160.5,420.56 L161.0,423.17 L161.5,424.23 L162.0,424.77 L162.5,425.79 L163.0,426.97 L163.5,428.20 L164.0,427.72 L164.5,425.80 L165.0,423.74 L165.5,423.63 L166.0,425.01 L166.5,426.13 L167.0,425.83 L167.5,424.81 L168.0,424.70 L168.5,426.31 L169.0,427.76 L169.5,427.79 L170.0,426.09 L170.5,423.91 L171.0,423.31 L171.5,424.49 L172.0,425.80 L172.5,427.04 L173.0,429.06 L173.5,430.80 L174.0,430.66 L174.5,429.37 L175.0,428.15 L175.5,427.26 L176.0,426.42 L176.5,425.53 L177.0,424.91 L177.5,425.21 L178.0,426.31 L178.5,427.46 L179.0,428.15 L179.5,427.90 L180.0,426.35 L180.5,424.48 L181.0,423.22 L181.5,422.59 L182.0,422.52 L182.5,423.47 L183.0,425.20 L183.5,426.55 L184.0,426.80 L184.5,426.31 L185.0,425.69 L185.5,425.58 L186.0,426.07 L186.5,426.50 L187.0,426.47 L187.5,426.24 L188.0,426.07 L188.5,426.05 L189.0,426.24 L189.5,426.63 L190.0,427.00 L190.5,427.14 L191.0,426.92 L191.5,426.35 L192.0,425.66 L192.5,425.27 L193.0,425.20 L193.5,425.08 L194.0,424.86 L194.5,424.41 L195.0,423.59 L195.5,423.08 L196.0,423.20 L196.5,423.28 L197.0,423.06 L197.5,422.63 L198.0,422.18 L198.5,422.66 L199.0,424.28 L199.5,425.65 L200.0,426.14 L200.5,426.73 L201.0,427.56 L201.5,427.36 L202.0,425.95 L202.5,425.23 L203.0,425.84 L203.5,426.09 L204.0,425.20 L204.5,424.13 L205.0,423.86 L205.5,424.26 L206.0,424.38 L206.5,423.87 L207.0,423.47 L207.5,423.90 L208.0,424.81 L208.5,425.26 L209.0,424.83 L209.5,423.99 L210.0,423.80 L210.5,424.52 L211.0,424.98 L211.5,424.38 L212.0,423.70 L212.5,423.98 L213.0,424.51 L213.5,424.57 L214.0,425.18 L214.5,426.76 L215.0,427.81 L215.5,427.71 L216.0,427.10 L216.5,426.27 L217.0,425.95 L217.5,426.61 L218.0,426.96 L218.5,426.05 L219.0,424.87 L219.5,424.51 L220.0,424.66 L220.5,424.29 L221.0,423.12 L221.5,422.19 L222.0,422.28 L222.5,422.85 L223.0,423.08 L223.5,423.33 L224.0,424.03 L224.5,424.72 L225.0,424.79 L225.5,424.11 L226.0,423.62 L226.5,423.85 L227.0,424.20 L227.5,424.64 L228.0,425.21 L228.5,425.47 L229.0,425.13 L229.5,424.35 L230.0,423.59 L230.5,423.27 L231.0,423.26 L231.5,423.07 L232.0,422.88 L232.5,423.13 L233.0,423.68 L233.5,424.09 L234.0,423.88 L234.5,423.37 L235.0,423.53 L235.5,424.47 L236.0,425.38 L236.5,425.26 L237.0,424.34 L237.5,424.32 L238.0,425.34 L238.5,425.67 L239.0,425.08 L239.5,424.95 L240.0,425.67 L240.5,426.47 L241.0,427.06 L241.5,427.54 L242.0,427.69 L242.5,427.46 L243.0,426.92 L243.5,426.33 L244.0,426.36 L244.5,427.34 L245.0,427.94 L245.5,427.09 L246.0,425.94 L246.5,426.10 L247.0,427.01 L247.5,427.28 L248.0,426.93 L248.5,426.32 L249.0,425.62 L249.5,425.21 L250.0,425.31 L250.5,425.79 L251.0,426.04 L251.5,425.09 L252.0,423.35 L252.5,422.57 L253.0,422.82 L253.5,422.80 L254.0,422.14 L254.5,421.38 L255.0,421.19 L255.5,422.03 L256.0,423.26 L256.5,423.84 L257.0,424.27 L257.5,425.56 L258.0,427.31 L258.5,428.22 L259.0,427.80 L259.5,426.63 L260.0,425.64 L260.5,425.28 L261.0,425.56 L261.5,426.25 L262.0,426.57 L262.5,426.06 L263.0,425.31 L263.5,424.73 L264.0,424.42 L264.5,424.83 L265.0,425.28 L265.5,424.49 L266.0,423.01 L266.5,422.43 L267.0,423.24 L267.5,424.62 L268.0,425.33 L268.5,425.23 L269.0,425.19 L269.5,425.85 L270.0,426.87 L270.5,427.48 L271.0,427.24 L271.5,426.44 L272.0,425.63 L272.5,425.04 L273.0,425.13 L273.5,426.01 L274.0,426.47 L274.5,425.71 L275.0,424.26 L275.5,423.37 L276.0,424.05 L276.5,425.89 L277.0,427.05 L277.5,426.36 L278.0,425.05 L278.5,424.74 L279.0,424.81 L279.5,424.15 L280.0,423.21 L280.5,422.89 L281.0,423.54" stroke="#1a1a1a" stroke-width="0.9" fill="none" stroke-linejoin="round"/>
<text x="129.0" y="434.3" font-size="9.1" font-family="'Liberation Sans', sans-serif" fill="#333" text-anchor="end" letter-spacing="0.3">KM05</text>
<path d="M0.0,440.40 L0.5,440.36 L1.0,440.37 L1.5,440.38 L2.0,440.36 L2.5,440.37 L3.0,440.44 L3.5,440.50 L4.0,440.50 L4.5,440.44 L5.0,440.37 L5.5,440.31 L6.0,440.26 L6.5,440.25 L7.0,440.27 L7.5,440.29 L8.0,440.30 L8.5,440.31 L9.0,440.34 L9.5,440.35 L10.0,440.37 L10.5,440.38 L11.0,440.39 L11.5,440.37 L12.0,440.33 L12.5,440.28 L13.0,440.26 L13.5,440.27 L14.0,440.30 L14.5,440.31 L15.0,440.28 L15.5,440.25 L16.0,440.26 L16.5,440.26 L17.0,440.22 L17.5,440.18 L18.0,440.18 L18.5,440.21 L19.0,440.25 L19.5,440.25 L20.0,440.19 L20.5,440.13 L21.0,440.12 L21.5,440.15 L22.0,440.18 L22.5,440.19 L23.0,440.17 L23.5,440.15 L24.0,440.15 L24.5,440.14 L25.0,440.12 L25.5,440.11 L26.0,440.15 L26.5,440.20 L27.0,440.19 L27.5,440.14 L28.0,440.07 L28.5,440.02 L29.0,440.00 L29.5,440.02 L30.0,440.06 L30.5,440.11 L31.0,440.14 L31.5,440.15 L32.0,440.14 L32.5,440.13 L33.0,440.13 L33.5,440.13 L34.0,440.11 L34.5,440.07 L35.0,440.02 L35.5,439.97 L36.0,439.92 L36.5,439.90 L37.0,439.90 L37.5,439.90 L38.0,439.89 L38.5,439.88 L39.0,439.90 L39.5,439.94 L40.0,439.94 L40.5,439.91 L41.0,439.87 L41.5,439.85 L42.0,439.85 L42.5,439.85 L43.0,439.83 L43.5,439.82 L44.0,439.86 L44.5,439.93 L45.0,439.95 L45.5,439.93 L46.0,439.91 L46.5,439.93 L47.0,439.97 L47.5,439.98 L48.0,440.00 L48.5,440.00 L49.0,439.98 L49.5,439.95 L50.0,439.94 L50.5,439.94 L51.0,439.94 L51.5,439.92 L52.0,439.90 L52.5,439.89 L53.0,439.87 L53.5,439.86 L54.0,439.85 L54.5,439.87 L55.0,439.90 L55.5,439.92 L56.0,439.93 L56.5,439.93 L57.0,439.93 L57.5,439.92 L58.0,439.90 L58.5,439.87 L59.0,439.88 L59.5,439.87 L60.0,439.85 L60.5,439.87 L61.0,439.90 L61.5,439.93 L62.0,439.93 L62.5,439.90 L63.0,439.89 L63.5,439.87 L64.0,439.84 L64.5,439.78 L65.0,439.75 L65.5,439.78 L66.0,439.88 L66.5,439.95 L67.0,439.95 L67.5,439.90 L68.0,439.87 L68.5,439.89 L69.0,439.96 L69.5,440.00 L70.0,440.00 L70.5,439.97 L71.0,439.96 L71.5,439.94 L72.0,439.93 L72.5,439.94 L73.0,439.96 L73.5,440.00 L74.0,440.06 L74.5,440.11 L75.0,440.14 L75.5,440.14 L76.0,440.11 L76.5,440.11 L77.0,440.12 L77.5,440.10 L78.0,440.08 L78.5,440.09 L79.0,440.11 L79.5,440.13 L80.0,440.16 L80.5,440.19 L81.0,440.19 L81.5,440.19 L82.0,440.21 L82.5,440.23 L83.0,440.24 L83.5,440.23 L84.0,440.24 L84.5,440.27 L85.0,440.31 L85.5,440.33 L86.0,440.33 L86.5,440.30 L87.0,440.25 L87.5,440.25 L88.0,440.30 L88.5,440.37 L89.0,440.40 L89.5,440.39 L90.0,440.36 L90.5,440.31 L91.0,440.26 L91.5,440.26 L92.0,440.32 L92.5,440.38 L93.0,440.41 L93.5,440.42 L94.0,440.44 L94.5,440.46 L95.0,440.44 L95.5,440.40 L96.0,440.38 L96.5,440.41 L97.0,440.48 L97.5,440.53 L98.0,440.57 L98.5,440.58 L99.0,440.59 L99.5,440.59 L100.0,440.57 L100.5,440.56 L101.0,440.57 L101.5,440.59 L102.0,440.61 L102.5,440.63 L103.0,440.64 L103.5,440.64 L104.0,440.63 L104.5,440.63 L105.0,440.64 L105.5,440.65 L106.0,440.65 L106.5,440.68 L107.0,440.72 L107.5,440.75 L108.0,440.76 L108.5,440.76 L109.0,440.77 L109.5,440.77 L110.0,440.75 L110.5,440.74 L111.0,440.79 L111.5,440.84 L112.0,440.84 L112.5,440.80 L113.0,440.76 L113.5,440.75 L114.0,440.75 L114.5,440.74 L115.0,440.73 L115.5,440.72 L116.0,440.69 L116.5,440.67 L117.0,440.68 L117.5,440.71 L118.0,440.76 L118.5,440.83 L119.0,440.87 L119.5,440.87 L120.0,440.88 L120.5,440.91 L121.0,440.90 L121.5,440.84 L122.0,440.81 L122.5,440.82 L123.0,440.82 L123.5,440.78 L124.0,440.71 L124.5,440.68 L125.0,440.72 L125.5,440.81 L126.0,440.87 L126.5,440.85 L127.0,440.81 L127.5,440.79 L128.0,440.79 L128.5,440.79 L129.0,440.79 L129.5,440.77 L130.0,440.74 L130.5,440.71 L131.0,440.71 L131.5,440.72 L132.0,440.73 L132.5,440.72 L133.0,440.71 L133.5,440.68 L134.0,440.60 L134.5,440.52 L135.0,440.49 L135.5,440.50 L136.0,440.51 L136.5,440.54 L137.0,440.55 L137.5,440.54 L138.0,440.54 L138.5,440.54 L139.0,440.54 L139.5,440.50 L140.0,439.35 L140.5,438.25 L141.0,438.12 L141.5,440.19 L142.0,443.91 L142.5,448.09 L143.0,450.35 L143.5,449.47 L144.0,442.91 L144.5,440.51 L145.0,439.96 L145.5,440.10 L146.0,440.38 L146.5,440.64 L147.0,440.04 L147.5,439.58 L148.0,440.34 L148.5,440.88 L149.0,441.17 L149.5,438.64 L150.0,437.84 L150.5,437.60 L151.0,439.66 L151.5,439.56 L152.0,437.09 L152.5,438.13 L153.0,440.67 L153.5,441.04 L154.0,440.62 L154.5,441.78 L155.0,442.59 L155.5,441.93 L156.0,441.38 L156.5,441.70 L157.0,441.95 L157.5,440.87 L158.0,438.27 L158.5,437.57 L159.0,437.22 L159.5,436.57 L160.0,435.78 L160.5,434.61 L161.0,434.50 L161.5,435.12 L162.0,436.39 L162.5,437.03 L163.0,437.01 L163.5,436.61 L164.0,436.66 L164.5,437.37 L165.0,438.43 L165.5,439.78 L166.0,440.98 L166.5,441.80 L167.0,441.86 L167.5,440.78 L168.0,439.30 L168.5,438.59 L169.0,439.26 L169.5,440.37 L170.0,440.80 L170.5,440.28 L171.0,440.87 L171.5,442.43 L172.0,443.27 L172.5,443.22 L173.0,443.12 L173.5,443.27 L174.0,443.56 L174.5,443.27 L175.0,442.21 L175.5,440.87 L176.0,440.28 L176.5,440.22 L177.0,440.03 L177.5,439.67 L178.0,439.86 L178.5,440.90 L179.0,441.61 L179.5,441.22 L180.0,440.39 L180.5,439.76 L181.0,439.47 L181.5,439.11 L182.0,438.58 L182.5,438.07 L183.0,437.58 L183.5,437.93 L184.0,439.39 L184.5,441.02 L185.0,441.98 L185.5,442.27 L186.0,442.23 L186.5,442.43 L187.0,442.89 L187.5,442.84 L188.0,442.19 L188.5,441.35 L189.0,440.41 L189.5,439.56 L190.0,439.24 L190.5,439.28 L191.0,439.42 L191.5,439.79 L192.0,440.24 L192.5,440.55 L193.0,440.74 L193.5,440.55 L194.0,439.92 L194.5,439.45 L195.0,439.51 L195.5,439.79 L196.0,439.95 L196.5,440.28 L197.0,440.66 L197.5,440.54 L198.0,440.38 L198.5,440.82 L199.0,441.62 L199.5,442.19 L200.0,441.74 L200.5,440.21 L201.0,438.83 L201.5,438.84 L202.0,440.15 L202.5,441.65 L203.0,442.43 L203.5,442.80 L204.0,442.79 L204.5,441.52 L205.0,439.57 L205.5,438.31 L206.0,438.15 L206.5,439.25 L207.0,440.68 L207.5,440.53 L208.0,439.40 L208.5,439.13 L209.0,439.58 L209.5,439.86 L210.0,440.04 L210.5,440.94 L211.0,442.43 L211.5,443.28 L212.0,443.43 L212.5,443.92 L213.0,444.52 L213.5,444.09 L214.0,442.59 L214.5,440.95 L215.0,440.34 L215.5,441.31 L216.0,442.59 L216.5,442.20 L217.0,440.73 L217.5,440.51 L218.0,442.08 L218.5,443.66 L219.0,443.63 L219.5,442.30 L220.0,440.72 L220.5,439.03 L221.0,437.67 L221.5,437.46 L222.0,438.29 L222.5,439.50 L223.0,440.57 L223.5,441.29 L224.0,441.58 L224.5,441.04 L225.0,440.40 L225.5,441.20 L226.0,442.55 L226.5,442.54 L227.0,441.76 L227.5,441.76 L228.0,441.87 L228.5,441.07 L229.0,440.16 L229.5,440.11 L230.0,440.85 L230.5,441.76 L231.0,442.43 L231.5,442.42 L232.0,441.58 L232.5,440.93 L233.0,441.21 L233.5,441.58 L234.0,441.22 L234.5,440.36 L235.0,439.88 L235.5,440.04 L236.0,440.48 L236.5,441.02 L237.0,441.22 L237.5,440.65 L238.0,440.05 L238.5,440.13 L239.0,440.55 L239.5,440.91 L240.0,441.03 L240.5,440.69 L241.0,440.34 L241.5,440.73 L242.0,441.21 L242.5,441.12 L243.0,441.37 L243.5,442.41 L244.0,443.24 L244.5,443.19 L245.0,442.76 L245.5,442.23 L246.0,441.47 L246.5,441.14 L247.0,441.73 L247.5,442.07 L248.0,441.20 L248.5,440.16 L249.0,440.16 L249.5,440.67 L250.0,441.00 L250.5,441.14 L251.0,441.11 L251.5,440.88 L252.0,440.35 L252.5,439.62 L253.0,439.24 L253.5,439.93 L254.0,441.37 L254.5,442.23 L255.0,441.92 L255.5,441.04 L256.0,440.33 L256.5,440.05 L257.0,439.94 L257.5,439.84 L258.0,440.20 L258.5,440.91 L259.0,441.08 L259.5,440.69 L260.0,440.55 L260.5,441.00 L261.0,441.81 L261.5,442.53 L262.0,443.04 L262.5,443.56 L263.0,443.68 L263.5,442.92 L264.0,441.76 L264.5,440.81 L265.0,440.06 L265.5,439.34 L266.0,439.11 L266.5,439.75 L267.0,440.62 L267.5,440.69 L268.0,440.03 L268.5,439.68 L269.0,439.99 L269.5,440.19 L270.0,439.66 L270.5,438.98 L271.0,438.81 L271.5,438.93 L272.0,438.94 L272.5,438.92 L273.0,439.53 L273.5,440.67 L274.0,441.32 L274.5,441.55 L275.0,441.90 L275.5,441.81 L276.0,440.91 L276.5,439.76 L277.0,438.79 L277.5,438.56 L278.0,439.22 L278.5,439.72 L279.0,439.32 L279.5,438.86 L280.0,439.15 L280.5,439.60 L281.0,439.90" stroke="#1a1a1a" stroke-width="0.9" fill="none" stroke-linejoin="round"/>
<text x="129.0" y="449.1" font-size="9.1" font-family="'Liberation Sans', sans-serif" fill="#333" text-anchor="end" letter-spacing="0.3">KM07</text>
<path d="M0.0,460.68 L0.5,460.82 L1.0,460.59 L1.5,460.17 L2.0,460.05 L2.5,460.30 L3.0,460.69 L3.5,460.95 L4.0,460.91 L4.5,460.73 L5.0,460.63 L5.5,460.67 L6.0,460.68 L6.5,460.40 L7.0,459.99 L7.5,459.78 L8.0,459.77 L8.5,459.92 L9.0,460.08 L9.5,459.97 L10.0,459.62 L10.5,459.28 L11.0,459.24 L11.5,459.48 L12.0,459.76 L12.5,459.94 L13.0,459.99 L13.5,460.07 L14.0,460.35 L14.5,460.66 L15.0,460.93 L15.5,460.99 L16.0,460.72 L16.5,460.38 L17.0,460.20 L17.5,460.10 L18.0,459.99 L18.5,459.90 L19.0,459.92 L19.5,460.10 L20.0,460.31 L20.5,460.35 L21.0,460.37 L21.5,460.49 L22.0,460.58 L22.5,460.70 L23.0,460.99 L23.5,461.32 L24.0,461.39 L24.5,460.89 L25.0,460.00 L25.5,459.53 L26.0,459.78 L26.5,460.28 L27.0,460.67 L27.5,460.93 L28.0,461.02 L28.5,460.90 L29.0,460.85 L29.5,460.94 L30.0,461.00 L30.5,461.07 L31.0,461.19 L31.5,461.21 L32.0,460.95 L32.5,460.47 L33.0,460.09 L33.5,459.94 L34.0,459.96 L34.5,460.16 L35.0,460.43 L35.5,460.60 L36.0,460.64 L36.5,460.48 L37.0,460.33 L37.5,460.61 L38.0,461.27 L38.5,461.89 L39.0,462.22 L39.5,462.07 L40.0,461.47 L40.5,460.88 L41.0,460.59 L41.5,460.55 L42.0,460.61 L42.5,460.66 L43.0,460.71 L43.5,460.63 L44.0,460.36 L44.5,460.17 L45.0,460.07 L45.5,459.81 L46.0,459.61 L46.5,459.74 L47.0,460.12 L47.5,460.40 L48.0,460.29 L48.5,460.11 L49.0,460.31 L49.5,460.54 L50.0,460.38 L50.5,460.11 L51.0,459.98 L51.5,459.86 L52.0,459.87 L52.5,460.18 L53.0,460.41 L53.5,460.25 L54.0,459.87 L54.5,459.69 L55.0,459.87 L55.5,460.21 L56.0,460.53 L56.5,460.79 L57.0,460.85 L57.5,460.60 L58.0,460.26 L58.5,460.06 L59.0,460.07 L59.5,460.47 L60.0,461.07 L60.5,461.29 L61.0,461.00 L61.5,460.81 L62.0,461.11 L62.5,461.49 L63.0,461.58 L63.5,461.41 L64.0,461.21 L64.5,461.09 L65.0,460.98 L65.5,460.79 L66.0,460.62 L66.5,460.76 L67.0,461.06 L67.5,461.01 L68.0,460.63 L68.5,460.44 L69.0,460.57 L69.5,460.64 L70.0,460.46 L70.5,460.27 L71.0,460.22 L71.5,460.19 L72.0,460.20 L72.5,460.30 L73.0,460.40 L73.5,460.30 L74.0,460.13 L74.5,460.06 L75.0,460.00 L75.5,459.88 L76.0,459.78 L76.5,459.75 L77.0,459.66 L77.5,459.52 L78.0,459.56 L78.5,459.84 L79.0,460.04 L79.5,459.94 L80.0,459.73 L80.5,459.75 L81.0,460.02 L81.5,460.23 L82.0,460.15 L82.5,459.98 L83.0,459.80 L83.5,459.68 L84.0,459.75 L84.5,460.01 L85.0,460.29 L85.5,460.39 L86.0,460.07 L86.5,459.39 L87.0,458.95 L87.5,459.26 L88.0,460.00 L88.5,460.62 L89.0,460.78 L89.5,460.36 L90.0,459.72 L90.5,459.38 L91.0,459.32 L91.5,459.34 L92.0,459.63 L92.5,460.05 L93.0,459.95 L93.5,459.44 L94.0,459.27 L94.5,459.56 L95.0,459.89 L95.5,460.14 L96.0,460.38 L96.5,460.63 L97.0,460.92 L97.5,461.17 L98.0,461.10 L98.5,460.72 L99.0,460.20 L99.5,459.76 L100.0,459.54 L100.5,459.55 L101.0,459.68 L101.5,459.69 L102.0,459.44 L102.5,459.07 L103.0,458.87 L103.5,458.88 L104.0,458.84 L104.5,458.71 L105.0,458.79 L105.5,459.29 L106.0,459.82 L106.5,459.92 L107.0,460.06 L107.5,460.66 L108.0,461.14 L108.5,461.01 L109.0,460.61 L109.5,460.22 L110.0,459.79 L110.5,459.55 L111.0,459.69 L111.5,459.87 L112.0,459.82 L112.5,459.71 L113.0,459.71 L113.5,459.89 L114.0,460.28 L114.5,460.53 L115.0,460.42 L115.5,460.35 L116.0,460.46 L116.5,460.43 L117.0,460.16 L117.5,459.97 L118.0,460.13 L118.5,460.55 L119.0,460.97 L119.5,461.10 L120.0,460.72 L120.5,459.92 L121.0,459.15 L121.5,458.85 L122.0,459.08 L122.5,459.58 L123.0,460.07 L123.5,460.20 L124.0,459.81 L124.5,459.32 L125.0,459.21 L125.5,459.44 L126.0,459.71 L126.5,459.87 L127.0,459.98 L127.5,460.10 L128.0,460.22 L128.5,460.34 L129.0,460.58 L129.5,460.89 L130.0,460.91 L130.5,460.56 L131.0,460.31 L131.5,460.34 L132.0,460.24 L132.5,459.93 L133.0,459.77 L133.5,459.87 L134.0,459.93 L134.5,459.87 L135.0,459.98 L135.5,460.14 L136.0,460.06 L136.5,459.91 L137.0,459.91 L137.5,459.76 L138.0,459.50 L138.5,459.67 L139.0,460.25 L139.5,460.55 L140.0,460.40 L140.5,460.02 L141.0,459.50 L141.5,459.05 L142.0,458.96 L142.5,459.19 L143.0,459.55 L143.5,460.14 L144.0,460.76 L144.5,460.85 L145.0,460.49 L145.5,460.09 L146.0,459.72 L146.5,459.37 L147.0,459.35 L147.5,459.83 L148.0,460.43 L148.5,460.62 L149.0,460.36 L149.5,459.99 L150.0,459.22 L150.5,458.97 L151.0,459.79 L151.5,462.41 L152.0,465.59 L152.5,467.58 L153.0,465.31 L153.5,462.43 L154.0,461.13 L154.5,458.48 L155.0,457.10 L155.5,461.02 L156.0,460.86 L156.5,461.68 L157.0,462.60 L157.5,460.16 L158.0,462.12 L158.5,463.23 L159.0,462.16 L159.5,462.99 L160.0,460.81 L160.5,457.76 L161.0,458.59 L161.5,461.62 L162.0,462.15 L162.5,461.69 L163.0,460.82 L163.5,460.22 L164.0,460.77 L164.5,460.72 L165.0,460.25 L165.5,459.53 L166.0,460.13 L166.5,459.71 L167.0,459.98 L167.5,458.65 L168.0,457.18 L168.5,457.32 L169.0,456.61 L169.5,453.68 L170.0,450.72 L170.5,448.65 L171.0,447.48 L171.5,448.77 L172.0,452.42 L172.5,456.71 L173.0,460.18 L173.5,461.56 L174.0,461.15 L174.5,460.48 L175.0,460.65 L175.5,461.14 L176.0,461.39 L176.5,460.33 L177.0,459.83 L177.5,460.29 L178.0,461.10 L178.5,461.63 L179.0,461.86 L179.5,461.62 L180.0,461.30 L180.5,460.94 L181.0,460.72 L181.5,460.70 L182.0,461.27 L182.5,461.80 L183.0,461.83 L183.5,461.63 L184.0,460.97 L184.5,459.94 L185.0,459.80 L185.5,460.29 L186.0,460.17 L186.5,459.89 L187.0,460.13 L187.5,460.50 L188.0,460.35 L188.5,459.92 L189.0,460.37 L189.5,461.46 L190.0,461.45 L190.5,460.07 L191.0,459.28 L191.5,460.72 L192.0,463.45 L192.5,464.96 L193.0,463.95 L193.5,461.12 L194.0,459.01 L194.5,458.90 L195.0,459.47 L195.5,459.40 L196.0,459.09 L196.5,459.54 L197.0,460.95 L197.5,462.20 L198.0,461.84 L198.5,460.62 L199.0,460.29 L199.5,460.75 L200.0,460.66 L200.5,459.60 L201.0,458.41 L201.5,457.48 L202.0,456.63 L202.5,456.12 L203.0,456.55 L203.5,457.68 L204.0,458.61 L204.5,458.59 L205.0,458.12 L205.5,458.71 L206.0,460.17 L206.5,460.67 L207.0,459.94 L207.5,459.25 L208.0,459.13 L208.5,459.48 L209.0,459.44 L209.5,458.30 L210.0,457.00 L210.5,456.87 L211.0,457.78 L211.5,458.75 L212.0,459.14 L212.5,458.93 L213.0,458.67 L213.5,458.50 L214.0,458.15 L214.5,458.10 L215.0,459.22 L215.5,461.37 L216.0,463.17 L216.5,463.50 L217.0,462.50 L217.5,461.23 L218.0,460.67 L218.5,460.62 L219.0,460.23 L219.5,459.60 L220.0,459.39 L220.5,459.38 L221.0,459.06 L221.5,458.27 L222.0,457.44 L222.5,457.12 L223.0,457.51 L223.5,458.33 L224.0,459.00 L224.5,459.28 L225.0,459.05 L225.5,458.22 L226.0,457.51 L226.5,457.94 L227.0,459.45 L227.5,460.69 L228.0,460.96 L228.5,460.92 L229.0,461.14 L229.5,461.82 L230.0,462.92 L230.5,463.90 L231.0,464.09 L231.5,463.51 L232.0,462.81 L232.5,462.35 L233.0,461.74 L233.5,460.67 L234.0,459.59 L234.5,459.07 L235.0,459.13 L235.5,459.29 L236.0,459.79 L236.5,461.14 L237.0,463.06 L237.5,464.38 L238.0,463.75 L238.5,461.22 L239.0,458.35 L239.5,456.74 L240.0,456.96 L240.5,457.87 L241.0,457.95 L241.5,457.44 L242.0,457.62 L242.5,458.99 L243.0,461.15 L243.5,462.43 L244.0,461.73 L244.5,460.36 L245.0,460.07 L245.5,460.79 L246.0,461.30 L246.5,461.31 L247.0,461.83 L247.5,462.82 L248.0,463.06 L248.5,462.95 L249.0,463.13 L249.5,463.26 L250.0,463.33 L250.5,463.34 L251.0,463.18 L251.5,463.36 L252.0,464.29 L252.5,464.96 L253.0,464.05 L253.5,462.14 L254.0,460.76 L254.5,460.22 L255.0,459.54 L255.5,458.38 L256.0,457.98 L256.5,459.32 L257.0,461.06 L257.5,461.23 L258.0,459.95 L258.5,458.56 L259.0,457.76 L259.5,457.75 L260.0,458.42 L260.5,458.57 L261.0,457.34 L261.5,455.50 L262.0,453.80 L262.5,452.53 L263.0,452.32 L263.5,453.26 L264.0,454.76 L264.5,456.32 L265.0,457.59 L265.5,458.58 L266.0,459.18 L266.5,459.35 L267.0,459.48 L267.5,459.87 L268.0,460.13 L268.5,459.64 L269.0,458.61 L269.5,458.26 L270.0,459.12 L270.5,460.12 L271.0,459.73 L271.5,458.03 L272.0,457.32 L272.5,458.54 L273.0,459.79 L273.5,460.27 L274.0,460.80 L274.5,460.99 L275.0,460.69 L275.5,461.04 L276.0,461.98 L276.5,462.43 L277.0,462.49 L277.5,463.09 L278.0,463.78 L278.5,463.63 L279.0,463.13 L279.5,462.71 L280.0,462.20 L280.5,461.76 L281.0,461.61" stroke="#1a1a1a" stroke-width="1.25" fill="none" stroke-linejoin="round"/>
<text x="140.3" y="459.6" font-size="9.1" font-family="'Liberation Sans', sans-serif" fill="#333" text-anchor="end" letter-spacing="0.3">KM01</text>
<path d="M86.8,243.9 L105.8,260.6 L110.1,278.0 L115.9,295.6 L119.7,311.2 L123.3,328.6 L130.1,344.2 L133.2,363.2 L137.0,379.6 L140.6,394.9 L141.5,412.6 L140.9,427.0 L142.5,442.4 L152.3,462.0" stroke="#777" stroke-width="0.6" fill="none" stroke-dasharray="0.7 1.3"/>
<path d="M102.1,237.4 L121.8,254.1 L127.1,271.5 L134.3,289.1 L136.4,304.7 L142.6,322.1 L148.8,337.7 L152.3,356.7 L156.9,373.1 L160.9,388.4 L162.7,406.1 L159.7,420.5 L163.9,435.9 L171.4,455.5" stroke="#777" stroke-width="0.6" fill="none" stroke-dasharray="0.7 1.3"/>
<text x="16.4" y="449.0" font-size="7.5" font-family="'Liberation Sans', sans-serif" fill="#333" text-anchor="start" >1 sec</text>
<path d="M17.5,454 H34.5 M17.5,452 V456 M34.5,452 V456" stroke="#222" stroke-width="0.9"/>
<path d="M17.8,454 L21,452.3 V455.7 Z M34.2,454 L31,452.3 V455.7 Z" fill="#222"/>
<text x="141.6" y="478.6" font-size="11.5" font-family="'Liberation Sans', sans-serif" fill="#222" text-anchor="start" letter-spacing="0.8">Pg</text>
<text x="169.9" y="478.6" font-size="11.5" font-family="'Liberation Sans', sans-serif" fill="#222" text-anchor="start" letter-spacing="0.8">Px</text>
<defs><clipPath id="dclip"><rect x="337.3" y="252.8" width="345.09999999999997" height="199.3"/></clipPath><linearGradient id="surf" x1="0" x2="1" y1="0" y2="0"><stop offset="0" stop-color="#fff"/><stop offset="0.05" stop-color="#bbb"/><stop offset="0.3" stop-color="#d0d0d0"/><stop offset="0.55" stop-color="#e0e0e0"/><stop offset="0.8" stop-color="#bbb"/><stop offset="1" stop-color="#ddd"/></linearGradient></defs>
<rect x="339.3" y="252.10000000000002" width="342.09999999999997" height="2.0" fill="url(#surf)"/>
<path d="M353.50,267.10 L354.31,266.80 L355.12,266.50 L355.94,266.20 L356.75,265.90 L357.56,265.59 L358.37,265.28 L359.18,264.97 L359.99,264.65 L360.80,264.33 L361.61,264.01 L362.42,263.69 L363.23,263.36 L364.03,263.03 L364.84,262.70 L365.65,262.36 L366.46,262.02 L367.27,261.68 L368.07,261.33 L368.88,260.98 L369.69,260.63 L370.49,260.28 L371.30,259.92 L372.10,259.56 L372.91,259.19 L373.71,258.82 L374.52,258.45 L375.32,258.08 L376.12,257.70 L376.93,257.32 L377.73,256.94 L378.53,256.55 L379.33,256.16 L380.13,255.76 L380.93,255.36 L381.73,254.96 L382.53,254.55 L383.33,254.14 L384.13,253.73 L384.93,253.31 L385.20,253.17" stroke="#000" stroke-width="1.05" fill="none" clip-path="url(#dclip)" stroke-linejoin="round"/>
<path d="M353.50,267.10 L354.32,266.87 L355.13,266.63 L355.95,266.40 L356.77,266.16 L357.58,265.91 L358.40,265.67 L359.22,265.42 L360.03,265.17 L360.85,264.91 L361.66,264.65 L362.48,264.39 L363.29,264.13 L364.11,263.87 L364.92,263.60 L365.74,263.32 L366.55,263.05 L367.36,262.77 L368.18,262.49 L368.99,262.21 L369.80,261.92 L370.62,261.63 L371.43,261.33 L372.24,261.04 L373.05,260.74 L373.86,260.44 L374.67,260.13 L375.48,259.82 L376.29,259.51 L377.10,259.19 L377.91,258.87 L378.72,258.55 L379.53,258.22 L380.34,257.89 L381.15,257.56 L381.96,257.22 L382.77,256.89 L383.57,256.54 L384.38,256.19 L385.19,255.84 L385.99,255.49 L386.80,255.13 L387.60,254.77 L388.41,254.41 L389.21,254.04 L390.02,253.66 L390.82,253.29" stroke="#000" stroke-width="1.05" fill="none" clip-path="url(#dclip)" stroke-linejoin="round"/>
<path d="M353.50,267.10 L354.32,266.93 L355.14,266.76 L355.96,266.59 L356.78,266.41 L357.60,266.24 L358.43,266.06 L359.25,265.87 L360.07,265.68 L360.89,265.49 L361.71,265.30 L362.53,265.11 L363.35,264.91 L364.16,264.71 L364.98,264.50 L365.80,264.30 L366.62,264.09 L367.44,263.87 L368.26,263.66 L369.08,263.44 L369.89,263.21 L370.71,262.99 L371.53,262.76 L372.35,262.53 L373.16,262.30 L373.98,262.06 L374.80,261.82 L375.61,261.57 L376.43,261.33 L377.25,261.08 L378.06,260.82 L378.88,260.57 L379.69,260.31 L380.51,260.04 L381.32,259.78 L382.14,259.51 L382.95,259.24 L383.76,258.96 L384.58,258.68 L385.39,258.40 L386.20,258.11 L387.02,257.82 L387.83,257.53 L388.64,257.23 L389.45,256.93 L390.26,256.63 L391.07,256.32 L391.88,256.01 L392.69,255.69 L393.50,255.37 L394.31,255.05 L395.12,254.73 L395.93,254.40 L396.74,254.06 L397.55,253.73 L398.36,253.38 L398.62,253.27" stroke="#000" stroke-width="1.05" fill="none" clip-path="url(#dclip)" stroke-linejoin="round"/>
<path d="M353.50,267.10 L354.32,266.98 L355.15,266.85 L355.97,266.72 L356.79,266.59 L357.62,266.46 L358.44,266.32 L359.26,266.18 L360.08,266.04 L360.91,265.89 L361.73,265.75 L362.55,265.59 L363.37,265.44 L364.19,265.28 L365.02,265.12 L365.84,264.96 L366.66,264.79 L367.48,264.63 L368.30,264.45 L369.12,264.28 L369.94,264.10 L370.76,263.92 L371.58,263.74 L372.40,263.55 L373.22,263.36 L374.04,263.17 L374.86,262.97 L375.68,262.78 L376.50,262.57 L377.32,262.37 L378.14,262.16 L378.96,261.95 L379.78,261.74 L380.59,261.52 L381.41,261.30 L382.23,261.07 L383.05,260.85 L383.87,260.62 L384.68,260.38 L385.50,260.15 L386.32,259.91 L387.13,259.66 L387.95,259.42 L388.77,259.17 L389.58,258.91 L390.40,258.66 L391.21,258.40 L392.03,258.13 L392.84,257.87 L393.65,257.59 L394.47,257.32 L395.28,257.04 L396.10,256.76 L396.91,256.48 L397.72,256.19 L398.53,255.90 L399.35,255.60 L400.16,255.30 L400.97,255.00 L401.78,254.69 L402.59,254.38 L403.40,254.07 L404.21,253.75 L405.02,253.43 L405.56,253.21" stroke="#000" stroke-width="1.05" fill="none" clip-path="url(#dclip)" stroke-linejoin="round"/>
<path d="M353.50,267.10 L354.32,267.02 L355.15,266.94 L355.97,266.86 L356.80,266.78 L357.62,266.69 L358.45,266.60 L359.27,266.51 L360.10,266.41 L360.92,266.31 L361.74,266.21 L362.57,266.10 L363.39,266.00 L364.22,265.88 L365.04,265.77 L365.86,265.66 L366.69,265.54 L367.51,265.41 L368.33,265.29 L369.16,265.16 L369.98,265.03 L370.80,264.90 L371.62,264.76 L372.45,264.62 L373.27,264.48 L374.09,264.33 L374.91,264.18 L375.74,264.03 L376.56,263.88 L377.38,263.72 L378.20,263.56 L379.02,263.39 L379.84,263.23 L380.66,263.06 L381.49,262.89 L382.31,262.71 L383.13,262.53 L383.95,262.35 L384.77,262.16 L385.59,261.97 L386.41,261.78 L387.23,261.59 L388.05,261.39 L388.87,261.19 L389.69,260.98 L390.50,260.78 L391.32,260.57 L392.14,260.35 L392.96,260.14 L393.78,259.91 L394.60,259.69 L395.41,259.46 L396.23,259.23 L397.05,259.00 L397.86,258.76 L398.68,258.52 L399.50,258.28 L400.31,258.03 L401.13,257.78 L401.95,257.52 L402.76,257.26 L403.58,257.00 L404.39,256.74 L405.20,256.47 L406.02,256.20 L406.83,255.92 L407.65,255.64 L408.46,255.36 L409.27,255.07 L410.08,254.78 L410.90,254.48 L411.71,254.18 L412.52,253.88 L413.33,253.57 L414.14,253.26" stroke="#000" stroke-width="1.05" fill="none" clip-path="url(#dclip)" stroke-linejoin="round"/>
<path d="M353.50,267.10 L354.33,267.07 L355.15,267.03 L355.98,266.99 L356.80,266.95 L357.63,266.90 L358.45,266.85 L359.28,266.80 L360.10,266.75 L360.93,266.69 L361.75,266.63 L362.58,266.57 L363.40,266.50 L364.23,266.43 L365.05,266.36 L365.88,266.29 L366.70,266.21 L367.53,266.13 L368.35,266.05 L369.18,265.96 L370.00,265.87 L370.82,265.78 L371.65,265.69 L372.47,265.59 L373.30,265.49 L374.12,265.39 L374.94,265.28 L375.77,265.17 L376.59,265.06 L377.42,264.95 L378.24,264.83 L379.06,264.71 L379.89,264.59 L380.71,264.46 L381.53,264.33 L382.35,264.20 L383.18,264.06 L384.00,263.92 L384.82,263.78 L385.64,263.64 L386.47,263.49 L387.29,263.34 L388.11,263.19 L388.93,263.03 L389.75,262.87 L390.58,262.71 L391.40,262.54 L392.22,262.37 L393.04,262.20 L393.86,262.03 L394.68,261.85 L395.50,261.67 L396.32,261.48 L397.14,261.29 L397.96,261.10 L398.78,260.91 L399.60,260.71 L400.42,260.51 L401.24,260.30 L402.06,260.10 L402.88,259.89 L403.70,259.67 L404.51,259.45 L405.33,259.23 L406.15,259.01 L406.97,258.78 L407.79,258.55 L408.60,258.32 L409.42,258.08 L410.24,257.84 L411.05,257.59 L411.87,257.34 L412.68,257.09 L413.50,256.84 L414.31,256.58 L415.13,256.31 L415.94,256.05 L416.76,255.78 L417.57,255.50 L418.39,255.23 L419.20,254.95 L420.01,254.66 L420.82,254.37 L421.64,254.08 L422.45,253.78 L423.26,253.48 L423.80,253.28" stroke="#000" stroke-width="1.05" fill="none" clip-path="url(#dclip)" stroke-linejoin="round"/>
<path d="M353.50,267.10 L354.33,267.12 L355.15,267.14 L355.98,267.16 L356.80,267.18 L357.63,267.19 L358.45,267.20 L359.28,267.21 L360.10,267.21 L360.93,267.21 L361.76,267.21 L362.58,267.21 L363.41,267.20 L364.23,267.19 L365.06,267.18 L365.88,267.16 L366.71,267.14 L367.53,267.12 L368.36,267.10 L369.19,267.07 L370.01,267.04 L370.84,267.01 L371.66,266.97 L372.49,266.94 L373.31,266.89 L374.14,266.85 L374.96,266.80 L375.79,266.75 L376.61,266.70 L377.44,266.65 L378.26,266.59 L379.09,266.53 L379.91,266.47 L380.74,266.40 L381.56,266.33 L382.39,266.26 L383.21,266.18 L384.04,266.10 L384.86,266.02 L385.69,265.94 L386.51,265.85 L387.34,265.76 L388.16,265.67 L388.98,265.58 L389.81,265.48 L390.63,265.38 L391.46,265.27 L392.28,265.17 L393.10,265.06 L393.93,264.95 L394.75,264.83 L395.57,264.71 L396.40,264.59 L397.22,264.47 L398.04,264.34 L398.87,264.21 L399.69,264.07 L400.51,263.94 L401.34,263.80 L402.16,263.66 L402.98,263.51 L403.80,263.36 L404.62,263.21 L405.45,263.06 L406.27,262.90 L407.09,262.74 L407.91,262.57 L408.73,262.41 L409.55,262.24 L410.37,262.06 L411.20,261.89 L412.02,261.71 L412.84,261.52 L413.66,261.34 L414.48,261.15 L415.30,260.96 L416.12,260.76 L416.94,260.56 L417.76,260.36 L418.57,260.15 L419.39,259.95 L420.21,259.73 L421.03,259.52 L421.85,259.30 L422.67,259.08 L423.48,258.85 L424.30,258.62 L425.12,258.39 L425.94,258.15 L426.75,257.91 L427.57,257.67 L428.38,257.43 L429.20,257.18 L430.02,256.92 L430.83,256.67 L431.65,256.40 L432.46,256.14 L433.28,255.87 L434.09,255.60 L434.90,255.33 L435.72,255.05 L436.53,254.76 L437.34,254.48 L438.16,254.19 L438.97,253.89 L439.78,253.59 L440.59,253.29" stroke="#000" stroke-width="1.05" fill="none" clip-path="url(#dclip)" stroke-linejoin="round"/>
<path d="M353.50,267.10 L354.32,267.16 L355.15,267.22 L355.98,267.28 L356.80,267.33 L357.63,267.38 L358.45,267.43 L359.28,267.48 L360.10,267.52 L360.93,267.56 L361.75,267.60 L362.58,267.63 L363.40,267.67 L364.23,267.69 L365.05,267.72 L365.88,267.74 L366.70,267.77 L367.53,267.78 L368.36,267.80 L369.18,267.81 L370.01,267.82 L370.83,267.83 L371.66,267.83 L372.48,267.83 L373.31,267.83 L374.14,267.83 L374.96,267.82 L375.79,267.81 L376.61,267.80 L377.44,267.78 L378.26,267.77 L379.09,267.75 L379.91,267.72 L380.74,267.70 L381.57,267.67 L382.39,267.63 L383.22,267.60 L384.04,267.56 L384.87,267.52 L385.69,267.48 L386.52,267.43 L387.34,267.39 L388.17,267.33 L388.99,267.28 L389.82,267.22 L390.64,267.16 L391.47,267.10 L392.29,267.04 L393.12,266.97 L393.94,266.90 L394.77,266.82 L395.59,266.75 L396.42,266.67 L397.24,266.59 L398.07,266.50 L398.89,266.41 L399.71,266.32 L400.54,266.23 L401.36,266.13 L402.19,266.03 L403.01,265.93 L403.83,265.83 L404.66,265.72 L405.48,265.61 L406.31,265.49 L407.13,265.38 L407.95,265.26 L408.78,265.14 L409.60,265.01 L410.42,264.88 L411.25,264.75 L412.07,264.62 L412.89,264.48 L413.71,264.34 L414.54,264.20 L415.36,264.05 L416.18,263.90 L417.00,263.75 L417.82,263.59 L418.65,263.44 L419.47,263.27 L420.29,263.11 L421.11,262.94 L421.93,262.77 L422.75,262.60 L423.57,262.42 L424.39,262.24 L425.21,262.06 L426.03,261.87 L426.85,261.68 L427.67,261.49 L428.49,261.30 L429.31,261.10 L430.13,260.90 L430.95,260.69 L431.77,260.48 L432.59,260.27 L433.41,260.06 L434.23,259.84 L435.04,259.62 L435.86,259.39 L436.68,259.16 L437.50,258.93 L438.31,258.70 L439.13,258.46 L439.95,258.21 L440.76,257.97 L441.58,257.72 L442.40,257.47 L443.21,257.21 L444.03,256.95 L444.84,256.69 L445.66,256.42 L446.47,256.15 L447.28,255.88 L448.10,255.60 L448.91,255.32 L449.72,255.03 L450.54,254.74 L451.35,254.45 L452.16,254.15 L452.97,253.85 L453.78,253.55 L454.59,253.24" stroke="#000" stroke-width="1.05" fill="none" clip-path="url(#dclip)" stroke-linejoin="round"/>
<path d="M353.50,267.10 L354.32,267.20 L355.15,267.30 L355.97,267.40 L356.80,267.49 L357.62,267.58 L358.45,267.67 L359.27,267.75 L360.09,267.84 L360.92,267.92 L361.74,267.99 L362.57,268.07 L363.39,268.14 L364.22,268.21 L365.04,268.27 L365.87,268.34 L366.69,268.40 L367.52,268.45 L368.34,268.51 L369.17,268.56 L369.99,268.61 L370.82,268.66 L371.64,268.70 L372.47,268.74 L373.29,268.78 L374.12,268.82 L374.95,268.85 L375.77,268.88 L376.60,268.91 L377.42,268.93 L378.25,268.96 L379.07,268.98 L379.90,268.99 L380.72,269.01 L381.55,269.02 L382.38,269.03 L383.20,269.03 L384.03,269.04 L384.85,269.04 L385.68,269.04 L386.50,269.03 L387.33,269.03 L388.15,269.02 L388.98,269.00 L389.81,268.99 L390.63,268.97 L391.46,268.95 L392.28,268.93 L393.11,268.90 L393.93,268.87 L394.76,268.84 L395.58,268.81 L396.41,268.77 L397.24,268.73 L398.06,268.69 L398.89,268.64 L399.71,268.60 L400.54,268.55 L401.36,268.49 L402.19,268.44 L403.01,268.38 L403.84,268.32 L404.66,268.25 L405.49,268.19 L406.31,268.12 L407.14,268.05 L407.96,267.97 L408.79,267.89 L409.61,267.81 L410.43,267.73 L411.26,267.64 L412.08,267.56 L412.91,267.46 L413.73,267.37 L414.56,267.27 L415.38,267.17 L416.20,267.07 L417.03,266.97 L417.85,266.86 L418.68,266.75 L419.50,266.63 L420.32,266.52 L421.15,266.40 L421.97,266.27 L422.79,266.15 L423.62,266.02 L424.44,265.89 L425.26,265.76 L426.08,265.62 L426.91,265.48 L427.73,265.34 L428.55,265.19 L429.37,265.04 L430.20,264.89 L431.02,264.74 L431.84,264.58 L432.66,264.42 L433.48,264.26 L434.30,264.09 L435.13,263.92 L435.95,263.75 L436.77,263.58 L437.59,263.40 L438.41,263.22 L439.23,263.03 L440.05,262.85 L440.87,262.66 L441.69,262.46 L442.51,262.27 L443.33,262.07 L444.15,261.87 L444.97,261.66 L445.78,261.45 L446.60,261.24 L447.42,261.02 L448.24,260.80 L449.06,260.58 L449.88,260.36 L450.69,260.13 L451.51,259.90 L452.33,259.66 L453.14,259.42 L453.96,259.18 L454.78,258.94 L455.59,258.69 L456.41,258.44 L457.22,258.18 L458.04,257.92 L458.85,257.66 L459.67,257.40 L460.48,257.13 L461.30,256.85 L462.11,256.58 L462.93,256.30 L463.74,256.01 L464.55,255.73 L465.36,255.43 L466.18,255.14 L466.99,254.84 L467.80,254.54 L468.61,254.23 L469.42,253.92 L470.23,253.61 L471.04,253.29" stroke="#000" stroke-width="1.05" fill="none" clip-path="url(#dclip)" stroke-linejoin="round"/>
<path d="M353.50,267.10 L354.32,267.24 L355.15,267.38 L355.97,267.52 L356.79,267.65 L357.61,267.78 L358.44,267.91 L359.26,268.04 L360.08,268.16 L360.91,268.28 L361.73,268.40 L362.55,268.51 L363.38,268.62 L364.20,268.73 L365.02,268.84 L365.85,268.94 L366.67,269.04 L367.50,269.14 L368.32,269.24 L369.15,269.33 L369.97,269.42 L370.79,269.51 L371.62,269.59 L372.44,269.68 L373.27,269.76 L374.09,269.83 L374.92,269.91 L375.74,269.98 L376.57,270.05 L377.39,270.12 L378.22,270.18 L379.04,270.24 L379.87,270.30 L380.69,270.36 L381.52,270.41 L382.34,270.46 L383.17,270.51 L383.99,270.56 L384.82,270.60 L385.64,270.64 L386.47,270.68 L387.29,270.71 L388.12,270.75 L388.95,270.78 L389.77,270.80 L390.60,270.83 L391.42,270.85 L392.25,270.87 L393.07,270.89 L393.90,270.90 L394.72,270.92 L395.55,270.93 L396.38,270.93 L397.20,270.94 L398.03,270.94 L398.85,270.94 L399.68,270.93 L400.50,270.93 L401.33,270.92 L402.15,270.91 L402.98,270.90 L403.81,270.88 L404.63,270.86 L405.46,270.84 L406.28,270.82 L407.11,270.79 L407.93,270.76 L408.76,270.73 L409.58,270.69 L410.41,270.66 L411.23,270.62 L412.06,270.58 L412.89,270.53 L413.71,270.48 L414.54,270.43 L415.36,270.38 L416.19,270.33 L417.01,270.27 L417.84,270.21 L418.66,270.15 L419.49,270.08 L420.31,270.01 L421.14,269.94 L421.96,269.87 L422.79,269.79 L423.61,269.71 L424.43,269.63 L425.26,269.55 L426.08,269.46 L426.91,269.37 L427.73,269.28 L428.56,269.19 L429.38,269.09 L430.20,268.99 L431.03,268.89 L431.85,268.78 L432.68,268.67 L433.50,268.56 L434.32,268.45 L435.15,268.33 L435.97,268.22 L436.79,268.09 L437.62,267.97 L438.44,267.84 L439.26,267.71 L440.09,267.58 L440.91,267.45 L441.73,267.31 L442.55,267.17 L443.38,267.02 L444.20,266.88 L445.02,266.73 L445.84,266.58 L446.66,266.42 L447.49,266.26 L448.31,266.10 L449.13,265.94 L449.95,265.77 L450.77,265.60 L451.59,265.43 L452.41,265.26 L453.23,265.08 L454.06,264.90 L454.88,264.72 L455.70,264.53 L456.52,264.34 L457.34,264.15 L458.16,263.95 L458.98,263.75 L459.79,263.55 L460.61,263.35 L461.43,263.14 L462.25,262.93 L463.07,262.72 L463.89,262.50 L464.71,262.28 L465.52,262.06 L466.34,261.83 L467.16,261.60 L467.98,261.37 L468.79,261.13 L469.61,260.90 L470.43,260.65 L471.24,260.41 L472.06,260.16 L472.88,259.91 L473.69,259.65 L474.51,259.40 L475.32,259.13 L476.14,258.87 L476.95,258.60 L477.76,258.33 L478.58,258.05 L479.39,257.78 L480.20,257.49 L481.02,257.21 L481.83,256.92 L482.64,256.63 L483.45,256.33 L484.27,256.03 L485.08,255.73 L485.89,255.42 L486.70,255.11 L487.51,254.79 L488.32,254.47 L489.13,254.15 L489.94,253.83 L490.75,253.50 L491.28,253.27" stroke="#000" stroke-width="1.05" fill="none" clip-path="url(#dclip)" stroke-linejoin="round"/>
<path d="M353.50,267.10 L354.32,267.29 L355.14,267.48 L355.96,267.67 L356.78,267.86 L357.60,268.04 L358.42,268.22 L359.24,268.39 L360.06,268.57 L360.88,268.74 L361.71,268.91 L362.53,269.07 L363.35,269.24 L364.17,269.40 L364.99,269.56 L365.81,269.71 L366.64,269.87 L367.46,270.02 L368.28,270.16 L369.10,270.31 L369.92,270.45 L370.75,270.59 L371.57,270.73 L372.39,270.86 L373.22,270.99 L374.04,271.12 L374.86,271.25 L375.68,271.38 L376.51,271.50 L377.33,271.62 L378.16,271.73 L378.98,271.85 L379.80,271.96 L380.63,272.07 L381.45,272.18 L382.27,272.28 L383.10,272.38 L383.92,272.48 L384.75,272.58 L385.57,272.67 L386.39,272.77 L387.22,272.85 L388.04,272.94 L388.87,273.03 L389.69,273.11 L390.52,273.19 L391.34,273.26 L392.17,273.34 L392.99,273.41 L393.82,273.48 L394.64,273.55 L395.47,273.61 L396.29,273.68 L397.12,273.74 L397.94,273.79 L398.77,273.85 L399.59,273.90 L400.42,273.95 L401.24,274.00 L402.07,274.05 L402.89,274.09 L403.72,274.13 L404.54,274.17 L405.37,274.20 L406.19,274.24 L407.02,274.27 L407.84,274.30 L408.67,274.32 L409.50,274.35 L410.32,274.37 L411.15,274.39 L411.97,274.40 L412.80,274.42 L413.62,274.43 L414.45,274.44 L415.27,274.45 L416.10,274.45 L416.93,274.45 L417.75,274.45 L418.58,274.45 L419.40,274.45 L420.23,274.44 L421.05,274.43 L421.88,274.42 L422.71,274.40 L423.53,274.39 L424.36,274.37 L425.18,274.35 L426.01,274.32 L426.83,274.30 L427.66,274.27 L428.48,274.23 L429.31,274.20 L430.13,274.17 L430.96,274.13 L431.79,274.09 L432.61,274.04 L433.44,274.00 L434.26,273.95 L435.09,273.90 L435.91,273.85 L436.74,273.79 L437.56,273.73 L438.39,273.67 L439.21,273.61 L440.04,273.54 L440.86,273.48 L441.69,273.41 L442.51,273.33 L443.34,273.26 L444.16,273.18 L444.99,273.10 L445.81,273.02 L446.63,272.94 L447.46,272.85 L448.28,272.76 L449.11,272.67 L449.93,272.57 L450.76,272.47 L451.58,272.38 L452.40,272.27 L453.23,272.17 L454.05,272.06 L454.88,271.95 L455.70,271.84 L456.52,271.73 L457.35,271.61 L458.17,271.49 L458.99,271.37 L459.82,271.24 L460.64,271.11 L461.46,270.98 L462.28,270.85 L463.11,270.72 L463.93,270.58 L464.75,270.44 L465.58,270.30 L466.40,270.15 L467.22,270.00 L468.04,269.85 L468.86,269.70 L469.69,269.55 L470.51,269.39 L471.33,269.23 L472.15,269.06 L472.97,268.90 L473.79,268.73 L474.61,268.56 L475.44,268.38 L476.26,268.20 L477.08,268.02 L477.90,267.84 L478.72,267.66 L479.54,267.47 L480.36,267.28 L481.18,267.09 L482.00,266.89 L482.82,266.69 L483.64,266.49 L484.45,266.28 L485.27,266.08 L486.09,265.87 L486.91,265.65 L487.73,265.44 L488.55,265.22 L489.37,265.00 L490.18,264.77 L491.00,264.55 L491.82,264.31 L492.64,264.08 L493.45,263.85 L494.27,263.61 L495.09,263.36 L495.90,263.12 L496.72,262.87 L497.53,262.62 L498.35,262.36 L499.16,262.11 L499.98,261.85 L500.79,261.58 L501.61,261.32 L502.42,261.05 L503.24,260.77 L504.05,260.50 L504.86,260.22 L505.68,259.93 L506.49,259.65 L507.30,259.36 L508.12,259.06 L508.93,258.77 L509.74,258.47 L510.55,258.17 L511.36,257.86 L512.17,257.55 L512.98,257.24 L513.79,256.92 L514.60,256.60 L515.41,256.28 L516.22,255.95 L517.03,255.62 L517.84,255.28 L518.64,254.94 L519.45,254.60 L520.26,254.25 L521.07,253.90 L521.87,253.55 L522.68,253.19" stroke="#000" stroke-width="1.05" fill="none" clip-path="url(#dclip)" stroke-linejoin="round"/>
<path d="M353.50,267.10 L354.32,267.35 L355.13,267.59 L355.95,267.83 L356.77,268.07 L357.58,268.30 L358.40,268.53 L359.22,268.76 L360.04,268.99 L360.85,269.21 L361.67,269.43 L362.49,269.65 L363.31,269.87 L364.13,270.08 L364.95,270.29 L365.76,270.50 L366.58,270.71 L367.40,270.91 L368.22,271.11 L369.04,271.31 L369.86,271.50 L370.68,271.70 L371.50,271.89 L372.32,272.08 L373.14,272.26 L373.96,272.44 L374.78,272.62 L375.60,272.80 L376.42,272.98 L377.24,273.15 L378.07,273.32 L378.89,273.49 L379.71,273.66 L380.53,273.82 L381.35,273.98 L382.17,274.14 L383.00,274.30 L383.82,274.45 L384.64,274.60 L385.46,274.75 L386.28,274.90 L387.11,275.04 L387.93,275.19 L388.75,275.33 L389.57,275.46 L390.40,275.60 L391.22,275.73 L392.04,275.86 L392.87,275.99 L393.69,276.12 L394.51,276.24 L395.33,276.36 L396.16,276.48 L396.98,276.60 L397.81,276.71 L398.63,276.83 L399.45,276.94 L400.28,277.04 L401.10,277.15 L401.92,277.25 L402.75,277.35 L403.57,277.45 L404.40,277.55 L405.22,277.64 L406.05,277.73 L406.87,277.82 L407.69,277.91 L408.52,278.00 L409.34,278.08 L410.17,278.16 L410.99,278.24 L411.82,278.32 L412.64,278.39 L413.47,278.46 L414.29,278.53 L415.12,278.60 L415.94,278.66 L416.77,278.73 L417.59,278.79 L418.42,278.85 L419.24,278.90 L420.07,278.96 L420.89,279.01 L421.72,279.06 L422.54,279.11 L423.37,279.15 L424.19,279.20 L425.02,279.24 L425.84,279.28 L426.67,279.31 L427.49,279.35 L428.32,279.38 L429.15,279.41 L429.97,279.44 L430.80,279.46 L431.62,279.49 L432.45,279.51 L433.27,279.53 L434.10,279.55 L434.92,279.56 L435.75,279.57 L436.58,279.58 L437.40,279.59 L438.23,279.60 L439.05,279.60 L439.88,279.61 L440.70,279.61 L441.53,279.60 L442.35,279.60 L443.18,279.59 L444.01,279.58 L444.83,279.57 L445.66,279.56 L446.48,279.54 L447.31,279.53 L448.13,279.51 L448.96,279.48 L449.78,279.46 L450.61,279.43 L451.44,279.41 L452.26,279.37 L453.09,279.34 L453.91,279.31 L454.74,279.27 L455.56,279.23 L456.39,279.19 L457.21,279.15 L458.04,279.10 L458.86,279.05 L459.69,279.00 L460.51,278.95 L461.34,278.89 L462.16,278.84 L462.99,278.78 L463.81,278.72 L464.64,278.65 L465.46,278.59 L466.29,278.52 L467.11,278.45 L467.94,278.38 L468.76,278.30 L469.59,278.23 L470.41,278.15 L471.24,278.07 L472.06,277.98 L472.89,277.90 L473.71,277.81 L474.54,277.72 L475.36,277.63 L476.18,277.53 L477.01,277.44 L477.83,277.34 L478.66,277.24 L479.48,277.13 L480.30,277.03 L481.13,276.92 L481.95,276.81 L482.77,276.70 L483.60,276.58 L484.42,276.46 L485.25,276.34 L486.07,276.22 L486.89,276.10 L487.71,275.97 L488.54,275.84 L489.36,275.71 L490.18,275.58 L491.01,275.44 L491.83,275.31 L492.65,275.17 L493.47,275.02 L494.30,274.88 L495.12,274.73 L495.94,274.58 L496.76,274.43 L497.58,274.27 L498.41,274.12 L499.23,273.96 L500.05,273.80 L500.87,273.63 L501.69,273.47 L502.51,273.30 L503.34,273.13 L504.16,272.95 L504.98,272.78 L505.80,272.60 L506.62,272.42 L507.44,272.23 L508.26,272.05 L509.08,271.86 L509.90,271.67 L510.72,271.47 L511.54,271.28 L512.36,271.08 L513.18,270.88 L514.00,270.68 L514.82,270.47 L515.63,270.26 L516.45,270.05 L517.27,269.84 L518.09,269.62 L518.91,269.40 L519.73,269.18 L520.54,268.95 L521.36,268.73 L522.18,268.50 L523.00,268.26 L523.81,268.03 L524.63,267.79 L525.45,267.55 L526.26,267.31 L527.08,267.06 L527.90,266.81 L528.71,266.56 L529.53,266.31 L530.34,266.05 L531.16,265.79 L531.97,265.53 L532.79,265.26 L533.60,265.00 L534.42,264.73 L535.23,264.45 L536.04,264.17 L536.86,263.89 L537.67,263.61 L538.48,263.33 L539.30,263.04 L540.11,262.75 L540.92,262.45 L541.73,262.15 L542.54,261.85 L543.35,261.55 L544.17,261.24 L544.98,260.93 L545.79,260.62 L546.60,260.30 L547.41,259.98 L548.22,259.66 L549.02,259.33 L549.83,259.00 L550.64,258.67 L551.45,258.33 L552.26,257.99 L553.06,257.65 L553.87,257.30 L554.68,256.95 L555.48,256.60 L556.29,256.24 L557.09,255.88 L557.90,255.52 L558.70,255.15 L559.51,254.78 L560.31,254.40 L561.11,254.02 L561.92,253.64 L562.72,253.25" stroke="#000" stroke-width="1.05" fill="none" clip-path="url(#dclip)" stroke-linejoin="round"/>
<path d="M353.50,267.10 L354.31,267.40 L355.12,267.69 L355.94,267.99 L356.75,268.28 L357.56,268.56 L358.37,268.85 L359.19,269.13 L360.00,269.41 L360.81,269.69 L361.63,269.96 L362.44,270.23 L363.26,270.50 L364.07,270.77 L364.89,271.04 L365.70,271.30 L366.52,271.56 L367.33,271.81 L368.15,272.07 L368.96,272.32 L369.78,272.57 L370.60,272.82 L371.41,273.06 L372.23,273.30 L373.04,273.54 L373.86,273.78 L374.68,274.02 L375.50,274.25 L376.31,274.48 L377.13,274.71 L377.95,274.93 L378.77,275.16 L379.58,275.38 L380.40,275.59 L381.22,275.81 L382.04,276.03 L382.86,276.24 L383.68,276.45 L384.50,276.65 L385.32,276.86 L386.13,277.06 L386.95,277.26 L387.77,277.46 L388.59,277.66 L389.41,277.85 L390.23,278.04 L391.05,278.23 L391.87,278.42 L392.69,278.60 L393.51,278.79 L394.33,278.97 L395.15,279.15 L395.98,279.32 L396.80,279.50 L397.62,279.67 L398.44,279.84 L399.26,280.01 L400.08,280.17 L400.90,280.34 L401.72,280.50 L402.55,280.66 L403.37,280.81 L404.19,280.97 L405.01,281.12 L405.83,281.27 L406.66,281.42 L407.48,281.57 L408.30,281.71 L409.12,281.86 L409.95,282.00 L410.77,282.13 L411.59,282.27 L412.41,282.41 L413.24,282.54 L414.06,282.67 L414.88,282.80 L415.71,282.92 L416.53,283.05 L417.35,283.17 L418.18,283.29 L419.00,283.41 L419.82,283.52 L420.65,283.64 L421.47,283.75 L422.29,283.86 L423.12,283.97 L423.94,284.07 L424.77,284.18 L425.59,284.28 L426.41,284.38 L427.24,284.48 L428.06,284.57 L428.89,284.67 L429.71,284.76 L430.53,284.85 L431.36,284.94 L432.18,285.02 L433.01,285.11 L433.83,285.19 L434.66,285.27 L435.48,285.35 L436.31,285.42 L437.13,285.50 L437.96,285.57 L438.78,285.64 L439.61,285.71 L440.43,285.78 L441.26,285.84 L442.08,285.90 L442.91,285.97 L443.73,286.02 L444.56,286.08 L445.38,286.14 L446.21,286.19 L447.03,286.24 L447.86,286.29 L448.68,286.34 L449.51,286.38 L450.33,286.43 L451.16,286.47 L451.98,286.51 L452.81,286.54 L453.63,286.58 L454.46,286.61 L455.28,286.64 L456.11,286.67 L456.94,286.70 L457.76,286.73 L458.59,286.75 L459.41,286.78 L460.24,286.80 L461.06,286.81 L461.89,286.83 L462.71,286.84 L463.54,286.86 L464.37,286.87 L465.19,286.88 L466.02,286.88 L466.84,286.89 L467.67,286.89 L468.49,286.89 L469.32,286.89 L470.14,286.89 L470.97,286.89 L471.80,286.88 L472.62,286.87 L473.45,286.86 L474.27,286.85 L475.10,286.83 L475.92,286.82 L476.75,286.80 L477.57,286.78 L478.40,286.76 L479.23,286.73 L480.05,286.71 L480.88,286.68 L481.70,286.65 L482.53,286.62 L483.35,286.59 L484.18,286.55 L485.00,286.51 L485.83,286.48 L486.65,286.43 L487.48,286.39 L488.31,286.35 L489.13,286.30 L489.96,286.25 L490.78,286.20 L491.61,286.15 L492.43,286.09 L493.26,286.04 L494.08,285.98 L494.91,285.92 L495.73,285.86 L496.56,285.79 L497.38,285.73 L498.21,285.66 L499.03,285.59 L499.86,285.52 L500.68,285.44 L501.51,285.37 L502.33,285.29 L503.15,285.21 L503.98,285.13 L504.80,285.04 L505.63,284.96 L506.45,284.87 L507.28,284.78 L508.10,284.69 L508.93,284.59 L509.75,284.50 L510.57,284.40 L511.40,284.30 L512.22,284.20 L513.05,284.10 L513.87,283.99 L514.69,283.88 L515.52,283.77 L516.34,283.66 L517.16,283.55 L517.99,283.43 L518.81,283.32 L519.64,283.20 L520.46,283.07 L521.28,282.95 L522.10,282.82 L522.93,282.70 L523.75,282.57 L524.57,282.44 L525.40,282.30 L526.22,282.17 L527.04,282.03 L527.86,281.89 L528.69,281.75 L529.51,281.60 L530.33,281.45 L531.15,281.31 L531.98,281.16 L532.80,281.00 L533.62,280.85 L534.44,280.69 L535.26,280.53 L536.09,280.37 L536.91,280.21 L537.73,280.04 L538.55,279.88 L539.37,279.71 L540.19,279.54 L541.01,279.36 L541.83,279.19 L542.65,279.01 L543.47,278.83 L544.30,278.65 L545.12,278.46 L545.94,278.27 L546.76,278.09 L547.58,277.89 L548.40,277.70 L549.22,277.51 L550.03,277.31 L550.85,277.11 L551.67,276.90 L552.49,276.70 L553.31,276.49 L554.13,276.28 L554.95,276.07 L555.77,275.86 L556.59,275.64 L557.40,275.43 L558.22,275.21 L559.04,274.98 L559.86,274.76 L560.68,274.53 L561.49,274.30 L562.31,274.07 L563.13,273.83 L563.94,273.60 L564.76,273.36 L565.58,273.12 L566.39,272.87 L567.21,272.62 L568.03,272.38 L568.84,272.12 L569.66,271.87 L570.47,271.61 L571.29,271.36 L572.10,271.09 L572.92,270.83 L573.73,270.56 L574.55,270.30 L575.36,270.02 L576.17,269.75 L576.99,269.47 L577.80,269.19 L578.62,268.91 L579.43,268.63 L580.24,268.34 L581.05,268.05 L581.87,267.76 L582.68,267.47 L583.49,267.17 L584.30,266.87 L585.11,266.56 L585.92,266.26 L586.73,265.95 L587.55,265.64 L588.36,265.32 L589.17,265.01 L589.98,264.69 L590.78,264.36 L591.59,264.04 L592.40,263.71 L593.21,263.38 L594.02,263.05 L594.83,262.71 L595.63,262.37 L596.44,262.02 L597.25,261.68 L598.06,261.33 L598.86,260.98 L599.67,260.62 L600.47,260.26 L601.28,259.90 L602.08,259.53 L602.89,259.17 L603.69,258.79 L604.50,258.42 L605.30,258.04 L606.10,257.66 L606.90,257.27 L607.71,256.88 L608.51,256.49 L609.31,256.10 L610.11,255.70 L610.91,255.29 L611.71,254.89 L612.51,254.48 L613.31,254.06 L614.11,253.65 L614.90,253.23" stroke="#000" stroke-width="1.05" fill="none" clip-path="url(#dclip)" stroke-linejoin="round"/>
<path d="M353.50,267.10 L354.31,267.45 L355.11,267.80 L355.92,268.15 L356.73,268.49 L357.53,268.83 L358.34,269.17 L359.15,269.50 L359.96,269.84 L360.77,270.17 L361.58,270.49 L362.39,270.82 L363.19,271.14 L364.00,271.46 L364.81,271.78 L365.62,272.10 L366.43,272.41 L367.25,272.72 L368.06,273.03 L368.87,273.33 L369.68,273.64 L370.49,273.94 L371.30,274.24 L372.11,274.54 L372.93,274.83 L373.74,275.12 L374.55,275.41 L375.36,275.70 L376.18,275.98 L376.99,276.27 L377.80,276.55 L378.62,276.83 L379.43,277.10 L380.24,277.38 L381.06,277.65 L381.87,277.92 L382.69,278.18 L383.50,278.45 L384.32,278.71 L385.13,278.97 L385.95,279.23 L386.76,279.49 L387.58,279.74 L388.39,280.00 L389.21,280.25 L390.03,280.49 L390.84,280.74 L391.66,280.98 L392.47,281.23 L393.29,281.47 L394.11,281.70 L394.93,281.94 L395.74,282.17 L396.56,282.41 L397.38,282.64 L398.19,282.86 L399.01,283.09 L399.83,283.31 L400.65,283.53 L401.47,283.75 L402.28,283.97 L403.10,284.19 L403.92,284.40 L404.74,284.61 L405.56,284.82 L406.38,285.03 L407.20,285.24 L408.02,285.44 L408.84,285.64 L409.65,285.84 L410.47,286.04 L411.29,286.24 L412.11,286.43 L412.93,286.63 L413.75,286.82 L414.57,287.01 L415.39,287.19 L416.21,287.38 L417.03,287.56 L417.86,287.74 L418.68,287.92 L419.50,288.10 L420.32,288.27 L421.14,288.45 L421.96,288.62 L422.78,288.79 L423.60,288.96 L424.42,289.13 L425.24,289.29 L426.07,289.45 L426.89,289.61 L427.71,289.77 L428.53,289.93 L429.35,290.09 L430.17,290.24 L431.00,290.39 L431.82,290.54 L432.64,290.69 L433.46,290.84 L434.29,290.98 L435.11,291.13 L435.93,291.27 L436.75,291.41 L437.58,291.54 L438.40,291.68 L439.22,291.81 L440.04,291.95 L440.87,292.08 L441.69,292.21 L442.51,292.33 L443.34,292.46 L444.16,292.58 L444.98,292.70 L445.81,292.83 L446.63,292.94 L447.45,293.06 L448.28,293.18 L449.10,293.29 L449.92,293.40 L450.75,293.51 L451.57,293.62 L452.40,293.72 L453.22,293.83 L454.04,293.93 L454.87,294.03 L455.69,294.13 L456.52,294.23 L457.34,294.33 L458.16,294.42 L458.99,294.51 L459.81,294.61 L460.64,294.70 L461.46,294.78 L462.29,294.87 L463.11,294.95 L463.94,295.04 L464.76,295.12 L465.58,295.20 L466.41,295.27 L467.23,295.35 L468.06,295.42 L468.88,295.50 L469.71,295.57 L470.53,295.64 L471.36,295.70 L472.18,295.77 L473.01,295.83 L473.83,295.90 L474.66,295.96 L475.48,296.02 L476.31,296.07 L477.13,296.13 L477.96,296.18 L478.78,296.24 L479.61,296.29 L480.43,296.34 L481.26,296.38 L482.08,296.43 L482.91,296.48 L483.73,296.52 L484.56,296.56 L485.39,296.60 L486.21,296.64 L487.04,296.67 L487.86,296.71 L488.69,296.74 L489.51,296.77 L490.34,296.80 L491.16,296.83 L491.99,296.85 L492.81,296.88 L493.64,296.90 L494.47,296.92 L495.29,296.94 L496.12,296.96 L496.94,296.98 L497.77,296.99 L498.59,297.00 L499.42,297.01 L500.24,297.02 L501.07,297.03 L501.90,297.04 L502.72,297.04 L503.55,297.05 L504.37,297.05 L505.20,297.05 L506.02,297.05 L506.85,297.04 L507.68,297.04 L508.50,297.03 L509.33,297.02 L510.15,297.01 L510.98,297.00 L511.80,296.99 L512.63,296.97 L513.45,296.96 L514.28,296.94 L515.11,296.92 L515.93,296.90 L516.76,296.87 L517.58,296.85 L518.41,296.82 L519.23,296.79 L520.06,296.76 L520.88,296.73 L521.71,296.70 L522.53,296.66 L523.36,296.63 L524.19,296.59 L525.01,296.55 L525.84,296.51 L526.66,296.47 L527.49,296.42 L528.31,296.38 L529.14,296.33 L529.96,296.28 L530.79,296.23 L531.61,296.17 L532.44,296.12 L533.26,296.06 L534.09,296.01 L534.91,295.95 L535.74,295.88 L536.56,295.82 L537.39,295.76 L538.21,295.69 L539.04,295.62 L539.86,295.55 L540.69,295.48 L541.51,295.41 L542.34,295.34 L543.16,295.26 L543.99,295.18 L544.81,295.10 L545.64,295.02 L546.46,294.94 L547.28,294.85 L548.11,294.77 L548.93,294.68 L549.76,294.59 L550.58,294.50 L551.41,294.40 L552.23,294.31 L553.05,294.21 L553.88,294.11 L554.70,294.01 L555.53,293.91 L556.35,293.81 L557.17,293.70 L558.00,293.60 L558.82,293.49 L559.65,293.38 L560.47,293.27 L561.29,293.15 L562.12,293.04 L562.94,292.92 L563.76,292.80 L564.59,292.68 L565.41,292.56 L566.23,292.43 L567.06,292.31 L567.88,292.18 L568.70,292.05 L569.53,291.92 L570.35,291.79 L571.17,291.65 L571.99,291.52 L572.82,291.38 L573.64,291.24 L574.46,291.10 L575.28,290.95 L576.11,290.81 L576.93,290.66 L577.75,290.51 L578.57,290.36 L579.40,290.21 L580.22,290.06 L581.04,289.90 L581.86,289.74 L582.68,289.58 L583.50,289.42 L584.33,289.26 L585.15,289.09 L585.97,288.93 L586.79,288.76 L587.61,288.59 L588.43,288.41 L589.25,288.24 L590.07,288.06 L590.89,287.89 L591.71,287.71 L592.54,287.52 L593.36,287.34 L594.18,287.16 L595.00,286.97 L595.82,286.78 L596.64,286.59 L597.46,286.40 L598.28,286.20 L599.10,286.00 L599.91,285.80 L600.73,285.60 L601.55,285.40 L602.37,285.20 L603.19,284.99 L604.01,284.78 L604.83,284.57 L605.65,284.36 L606.47,284.15 L607.28,283.93 L608.10,283.71 L608.92,283.49 L609.74,283.27 L610.56,283.05 L611.37,282.82 L612.19,282.59 L613.01,282.36 L613.83,282.13 L614.64,281.89 L615.46,281.66 L616.28,281.42 L617.09,281.18 L617.91,280.94 L618.73,280.69 L619.54,280.45 L620.36,280.20 L621.18,279.95 L621.99,279.69 L622.81,279.44 L623.62,279.18 L624.44,278.92 L625.25,278.66 L626.07,278.40 L626.88,278.13 L627.70,277.86 L628.51,277.59 L629.32,277.32 L630.14,277.05 L630.95,276.77 L631.77,276.49 L632.58,276.21 L633.39,275.93 L634.20,275.64 L635.02,275.35 L635.83,275.06 L636.64,274.77 L637.45,274.48 L638.27,274.18 L639.08,273.88 L639.89,273.58 L640.70,273.27 L641.51,272.97 L642.32,272.66 L643.13,272.35 L643.94,272.03 L644.75,271.72 L645.56,271.40 L646.37,271.08 L647.18,270.76 L647.99,270.43 L648.80,270.10 L649.61,269.77 L650.42,269.44 L651.22,269.10 L652.03,268.76 L652.84,268.42 L653.65,268.08 L654.45,267.73 L655.26,267.38 L656.07,267.03 L656.87,266.68 L657.68,266.32 L658.48,265.96 L659.29,265.60 L660.09,265.23 L660.90,264.86 L661.70,264.49 L662.51,264.12 L663.31,263.74 L664.11,263.36 L664.92,262.98 L665.72,262.60 L666.52,262.21 L667.32,261.82 L668.12,261.42 L668.92,261.02 L669.72,260.62 L670.52,260.22 L671.32,259.81 L672.12,259.40 L672.92,258.99 L673.72,258.57 L674.52,258.15 L675.32,257.73 L676.11,257.30 L676.91,256.87 L677.71,256.44 L678.50,256.00 L679.30,255.56 L680.09,255.12 L680.89,254.67 L681.68,254.22 L682.47,253.77 L683.27,253.31 L683.53,253.16" stroke="#000" stroke-width="1.05" fill="none" clip-path="url(#dclip)" stroke-linejoin="round"/>
<path d="M353.50,267.10 L354.30,267.49 L355.10,267.87 L355.91,268.25 L356.71,268.63 L357.51,269.01 L358.32,269.38 L359.12,269.75 L359.93,270.12 L360.73,270.49 L361.54,270.85 L362.34,271.22 L363.15,271.57 L363.95,271.93 L364.76,272.29 L365.56,272.64 L366.37,272.99 L367.18,273.33 L367.99,273.68 L368.79,274.02 L369.60,274.36 L370.41,274.70 L371.22,275.03 L372.02,275.37 L372.83,275.70 L373.64,276.03 L374.45,276.35 L375.26,276.68 L376.07,277.00 L376.88,277.32 L377.69,277.64 L378.50,277.95 L379.31,278.27 L380.12,278.58 L380.93,278.89 L381.74,279.20 L382.55,279.50 L383.36,279.80 L384.18,280.10 L384.99,280.40 L385.80,280.70 L386.61,280.99 L387.42,281.29 L388.24,281.58 L389.05,281.87 L389.86,282.15 L390.67,282.44 L391.49,282.72 L392.30,283.00 L393.11,283.28 L393.93,283.56 L394.74,283.83 L395.56,284.10 L396.37,284.37 L397.18,284.64 L398.00,284.91 L398.81,285.17 L399.63,285.44 L400.44,285.70 L401.26,285.96 L402.07,286.21 L402.89,286.47 L403.71,286.72 L404.52,286.97 L405.34,287.22 L406.15,287.47 L406.97,287.72 L407.79,287.96 L408.60,288.20 L409.42,288.45 L410.24,288.68 L411.05,288.92 L411.87,289.16 L412.69,289.39 L413.50,289.62 L414.32,289.85 L415.14,290.08 L415.96,290.30 L416.78,290.53 L417.59,290.75 L418.41,290.97 L419.23,291.19 L420.05,291.41 L420.87,291.62 L421.68,291.84 L422.50,292.05 L423.32,292.26 L424.14,292.47 L424.96,292.67 L425.78,292.88 L426.60,293.08 L427.42,293.28 L428.24,293.48 L429.06,293.68 L429.88,293.88 L430.70,294.07 L431.52,294.27 L432.34,294.46 L433.16,294.65 L433.98,294.84 L434.80,295.02 L435.62,295.21 L436.44,295.39 L437.26,295.57 L438.08,295.75 L438.90,295.93 L439.72,296.11 L440.54,296.28 L441.36,296.46 L442.18,296.63 L443.00,296.80 L443.82,296.96 L444.65,297.13 L445.47,297.30 L446.29,297.46 L447.11,297.62 L447.93,297.78 L448.75,297.94 L449.58,298.10 L450.40,298.25 L451.22,298.41 L452.04,298.56 L452.86,298.71 L453.69,298.86 L454.51,299.01 L455.33,299.15 L456.15,299.30 L456.97,299.44 L457.80,299.58 L458.62,299.72 L459.44,299.86 L460.27,299.99 L461.09,300.13 L461.91,300.26 L462.73,300.39 L463.56,300.52 L464.38,300.65 L465.20,300.78 L466.03,300.91 L466.85,301.03 L467.67,301.15 L468.50,301.27 L469.32,301.39 L470.14,301.51 L470.97,301.63 L471.79,301.74 L472.61,301.85 L473.44,301.97 L474.26,302.08 L475.08,302.18 L475.91,302.29 L476.73,302.40 L477.56,302.50 L478.38,302.60 L479.20,302.70 L480.03,302.80 L480.85,302.90 L481.68,303.00 L482.50,303.09 L483.33,303.19 L484.15,303.28 L484.97,303.37 L485.80,303.46 L486.62,303.54 L487.45,303.63 L488.27,303.72 L489.10,303.80 L489.92,303.88 L490.75,303.96 L491.57,304.04 L492.39,304.11 L493.22,304.19 L494.04,304.26 L494.87,304.34 L495.69,304.41 L496.52,304.48 L497.34,304.55 L498.17,304.61 L498.99,304.68 L499.82,304.74 L500.64,304.80 L501.47,304.86 L502.29,304.92 L503.12,304.98 L503.94,305.04 L504.77,305.09 L505.59,305.14 L506.42,305.20 L507.24,305.25 L508.07,305.30 L508.89,305.34 L509.72,305.39 L510.55,305.43 L511.37,305.48 L512.20,305.52 L513.02,305.56 L513.85,305.60 L514.67,305.63 L515.50,305.67 L516.32,305.70 L517.15,305.74 L517.97,305.77 L518.80,305.80 L519.62,305.82 L520.45,305.85 L521.28,305.88 L522.10,305.90 L522.93,305.92 L523.75,305.94 L524.58,305.96 L525.40,305.98 L526.23,306.00 L527.05,306.01 L527.88,306.03 L528.71,306.04 L529.53,306.05 L530.36,306.06 L531.18,306.07 L532.01,306.07 L532.83,306.08 L533.66,306.08 L534.48,306.09 L535.31,306.09 L536.14,306.09 L536.96,306.08 L537.79,306.08 L538.61,306.07 L539.44,306.07 L540.26,306.06 L541.09,306.05 L541.92,306.04 L542.74,306.03 L543.57,306.01 L544.39,306.00 L545.22,305.98 L546.04,305.96 L546.87,305.94 L547.69,305.92 L548.52,305.90 L549.35,305.87 L550.17,305.85 L551.00,305.82 L551.82,305.79 L552.65,305.76 L553.47,305.73 L554.30,305.70 L555.12,305.66 L555.95,305.63 L556.77,305.59 L557.60,305.55 L558.42,305.51 L559.25,305.47 L560.08,305.43 L560.90,305.38 L561.73,305.34 L562.55,305.29 L563.38,305.24 L564.20,305.19 L565.03,305.14 L565.85,305.08 L566.68,305.03 L567.50,304.97 L568.33,304.91 L569.15,304.86 L569.98,304.79 L570.80,304.73 L571.63,304.67 L572.45,304.60 L573.28,304.54 L574.10,304.47 L574.93,304.40 L575.75,304.33 L576.58,304.25 L577.40,304.18 L578.23,304.10 L579.05,304.03 L579.88,303.95 L580.70,303.87 L581.52,303.79 L582.35,303.70 L583.17,303.62 L584.00,303.53 L584.82,303.45 L585.65,303.36 L586.47,303.27 L587.30,303.17 L588.12,303.08 L588.94,302.98 L589.77,302.89 L590.59,302.79 L591.42,302.69 L592.24,302.59 L593.06,302.49 L593.89,302.38 L594.71,302.28 L595.54,302.17 L596.36,302.06 L597.18,301.95 L598.01,301.84 L598.83,301.72 L599.65,301.61 L600.48,301.49 L601.30,301.38 L602.12,301.26 L602.95,301.13 L603.77,301.01 L604.59,300.89 L605.42,300.76 L606.24,300.63 L607.06,300.51 L607.89,300.38 L608.71,300.24 L609.53,300.11 L610.36,299.98 L611.18,299.84 L612.00,299.70 L612.82,299.56 L613.65,299.42 L614.47,299.28 L615.29,299.13 L616.11,298.99 L616.94,298.84 L617.76,298.69 L618.58,298.54 L619.40,298.39 L620.22,298.23 L621.05,298.08 L621.87,297.92 L622.69,297.76 L623.51,297.60 L624.33,297.44 L625.15,297.27 L625.97,297.11 L626.80,296.94 L627.62,296.77 L628.44,296.60 L629.26,296.43 L630.08,296.26 L630.90,296.08 L631.72,295.91 L632.54,295.73 L633.36,295.55 L634.18,295.37 L635.00,295.18 L635.82,295.00 L636.64,294.81 L637.46,294.62 L638.28,294.43 L639.10,294.24 L639.92,294.05 L640.74,293.85 L641.56,293.66 L642.38,293.46 L643.20,293.26 L644.02,293.05 L644.84,292.85 L645.66,292.65 L646.48,292.44 L647.30,292.23 L648.12,292.02 L648.94,291.81 L649.75,291.59 L650.57,291.38 L651.39,291.16 L652.21,290.94 L653.03,290.72 L653.84,290.50 L654.66,290.27 L655.48,290.05 L656.30,289.82 L657.12,289.59 L657.93,289.36 L658.75,289.12 L659.57,288.89 L660.38,288.65 L661.20,288.41 L662.02,288.17 L662.83,287.93 L663.65,287.68 L664.47,287.44 L665.28,287.19 L666.10,286.94 L666.91,286.69 L667.73,286.43 L668.54,286.18 L669.36,285.92 L670.18,285.66 L670.99,285.40 L671.81,285.14 L672.62,284.87 L673.43,284.60 L674.25,284.34 L675.06,284.06 L675.88,283.79 L676.69,283.52 L677.50,283.24 L678.32,282.96 L679.13,282.68 L679.94,282.40 L680.76,282.11 L681.57,281.83 L682.38,281.54 L683.20,281.25 L683.47,281.15" stroke="#000" stroke-width="1.05" fill="none" clip-path="url(#dclip)" stroke-linejoin="round"/>
<line x1="353.5" y1="267.1" x2="369.00" y2="331.00" stroke="#000" stroke-width="0.9"/>
<line x1="353.5" y1="267.1" x2="369.63" y2="331.22" stroke="#000" stroke-width="0.9"/>
<line x1="353.5" y1="267.1" x2="370.26" y2="331.43" stroke="#000" stroke-width="0.9"/>
<line x1="353.5" y1="267.1" x2="370.89" y2="331.65" stroke="#000" stroke-width="0.9"/>
<line x1="353.5" y1="267.1" x2="371.52" y2="331.87" stroke="#000" stroke-width="0.9"/>
<line x1="353.5" y1="267.1" x2="372.15" y2="332.09" stroke="#000" stroke-width="0.9"/>
<line x1="353.5" y1="267.1" x2="372.78" y2="332.30" stroke="#000" stroke-width="0.9"/>
<line x1="353.5" y1="267.1" x2="373.41" y2="332.52" stroke="#000" stroke-width="0.9"/>
<line x1="353.5" y1="267.1" x2="374.04" y2="332.74" stroke="#000" stroke-width="0.9"/>
<line x1="353.5" y1="267.1" x2="374.67" y2="332.96" stroke="#000" stroke-width="0.9"/>
<line x1="353.5" y1="267.1" x2="375.30" y2="333.17" stroke="#000" stroke-width="0.9"/>
<line x1="353.5" y1="267.1" x2="375.93" y2="333.39" stroke="#000" stroke-width="0.9"/>
<line x1="353.5" y1="267.1" x2="376.57" y2="333.61" stroke="#000" stroke-width="0.9"/>
<line x1="353.5" y1="267.1" x2="377.20" y2="333.83" stroke="#000" stroke-width="0.9"/>
<line x1="353.5" y1="267.1" x2="377.83" y2="334.04" stroke="#000" stroke-width="0.9"/>
<line x1="353.5" y1="267.1" x2="378.46" y2="334.26" stroke="#000" stroke-width="0.9"/>
<line x1="353.5" y1="267.1" x2="379.09" y2="334.48" stroke="#000" stroke-width="0.9"/>
<line x1="353.5" y1="267.1" x2="379.72" y2="334.70" stroke="#000" stroke-width="0.9"/>
<line x1="353.5" y1="267.1" x2="380.35" y2="334.91" stroke="#000" stroke-width="0.9"/>
<line x1="353.5" y1="267.1" x2="380.98" y2="335.13" stroke="#000" stroke-width="0.9"/>
<line x1="353.5" y1="267.1" x2="381.61" y2="335.35" stroke="#000" stroke-width="0.9"/>
<line x1="353.5" y1="267.1" x2="382.24" y2="335.57" stroke="#000" stroke-width="0.9"/>
<line x1="353.5" y1="267.1" x2="382.87" y2="335.78" stroke="#000" stroke-width="0.9"/>
<line x1="353.5" y1="267.1" x2="383.50" y2="336.00" stroke="#000" stroke-width="0.9"/>
<path d="M375.00,331.00 C375.67,329.17 377.00,323.50 379.00,320.00 C381.00,316.50 384.00,313.33 387.00,310.00 C390.00,306.67 393.92,303.33 397.00,300.00 C400.08,296.67 402.58,293.33 405.50,290.00 C408.42,286.67 411.67,283.33 414.50,280.00 C417.33,276.67 419.75,273.33 422.50,270.00 C425.25,266.67 428.65,262.78 431.00,260.00 C433.35,257.22 435.67,254.42 436.60,253.30" stroke="#000" stroke-width="0.9" fill="none" clip-path="url(#dclip)"/>
<path d="M376.22,331.22 C377.09,329.35 379.22,323.54 381.44,320.00 C383.67,316.46 386.60,313.33 389.56,310.00 C392.51,306.67 396.15,303.33 399.17,300.00 C402.18,296.67 404.70,293.33 407.63,290.00 C410.57,286.67 413.86,283.33 416.78,280.00 C419.69,276.67 422.26,273.33 425.11,270.00 C427.96,266.67 431.37,262.78 433.89,260.00 C436.40,257.22 439.15,254.42 440.20,253.30" stroke="#000" stroke-width="0.9" fill="none" clip-path="url(#dclip)"/>
<path d="M377.44,331.44 C378.52,329.54 381.44,323.57 383.89,320.00 C386.33,316.43 389.20,313.33 392.11,310.00 C395.02,306.67 398.39,303.33 401.33,300.00 C404.28,296.67 406.81,293.33 409.77,290.00 C412.72,286.67 416.06,283.33 419.06,280.00 C422.05,276.67 424.77,273.33 427.72,270.00 C430.68,266.67 434.10,262.78 436.78,260.00 C439.46,257.22 442.63,254.42 443.80,253.30" stroke="#000" stroke-width="0.9" fill="none" clip-path="url(#dclip)"/>
<path d="M378.67,331.67 C379.94,329.72 383.67,323.61 386.33,320.00 C389.00,316.39 391.81,313.33 394.67,310.00 C397.53,306.67 400.63,303.33 403.50,300.00 C406.37,296.67 408.93,293.33 411.90,290.00 C414.87,286.67 418.26,283.33 421.33,280.00 C424.41,276.67 427.28,273.33 430.33,270.00 C433.39,266.67 436.82,262.78 439.67,260.00 C442.51,257.22 446.11,254.42 447.40,253.30" stroke="#000" stroke-width="0.9" fill="none" clip-path="url(#dclip)"/>
<path d="M379.89,331.89 C381.37,329.91 385.89,323.65 388.78,320.00 C391.67,316.35 394.41,313.33 397.22,310.00 C400.04,306.67 402.86,303.33 405.67,300.00 C408.47,296.67 411.04,293.33 414.03,290.00 C417.02,286.67 420.46,283.33 423.61,280.00 C426.76,276.67 429.79,273.33 432.94,270.00 C436.10,266.67 439.55,262.78 442.56,260.00 C445.56,257.22 449.59,254.42 451.00,253.30" stroke="#000" stroke-width="0.9" fill="none" clip-path="url(#dclip)"/>
<path d="M381.11,332.11 C382.80,330.09 388.11,323.69 391.22,320.00 C394.33,316.31 397.01,313.33 399.78,310.00 C402.55,306.67 405.10,303.33 407.83,300.00 C410.56,296.67 413.16,293.33 416.17,290.00 C419.18,286.67 422.66,283.33 425.89,280.00 C429.12,276.67 432.30,273.33 435.56,270.00 C438.81,266.67 442.27,262.78 445.44,260.00 C448.62,257.22 453.07,254.42 454.60,253.30" stroke="#000" stroke-width="0.9" fill="none" clip-path="url(#dclip)"/>
<path d="M382.33,332.33 C384.22,330.28 390.33,323.72 393.67,320.00 C397.00,316.28 399.61,313.33 402.33,310.00 C405.06,306.67 407.34,303.33 410.00,300.00 C412.66,296.67 415.27,293.33 418.30,290.00 C421.33,286.67 424.86,283.33 428.17,280.00 C431.48,276.67 434.81,273.33 438.17,270.00 C441.53,266.67 444.99,262.78 448.33,260.00 C451.67,257.22 456.56,254.42 458.20,253.30" stroke="#000" stroke-width="0.9" fill="none" clip-path="url(#dclip)"/>
<path d="M383.56,332.56 C385.65,330.46 392.56,323.76 396.11,320.00 C399.67,316.24 402.21,313.33 404.89,310.00 C407.56,306.67 409.58,303.33 412.17,300.00 C414.76,296.67 417.39,293.33 420.43,290.00 C423.48,286.67 427.05,283.33 430.44,280.00 C433.84,276.67 437.31,273.33 440.78,270.00 C444.24,266.67 447.72,262.78 451.22,260.00 C454.73,257.22 460.04,254.42 461.80,253.30" stroke="#000" stroke-width="0.9" fill="none" clip-path="url(#dclip)"/>
<path d="M384.78,332.78 C387.07,330.65 394.78,323.80 398.56,320.00 C402.33,316.20 404.81,313.33 407.44,310.00 C410.07,306.67 411.81,303.33 414.33,300.00 C416.85,296.67 419.50,293.33 422.57,290.00 C425.63,286.67 429.25,283.33 432.72,280.00 C436.19,276.67 439.82,273.33 443.39,270.00 C446.95,266.67 450.44,262.78 454.11,260.00 C457.78,257.22 463.52,254.42 465.40,253.30" stroke="#000" stroke-width="0.9" fill="none" clip-path="url(#dclip)"/>
<path d="M386.00,333.00 C388.50,330.83 397.00,323.83 401.00,320.00 C405.00,316.17 407.42,313.33 410.00,310.00 C412.58,306.67 414.05,303.33 416.50,300.00 C418.95,296.67 421.62,293.33 424.70,290.00 C427.78,286.67 431.45,283.33 435.00,280.00 C438.55,276.67 442.33,273.33 446.00,270.00 C449.67,266.67 453.17,262.78 457.00,260.00 C460.83,257.22 467.00,254.42 469.00,253.30" stroke="#000" stroke-width="0.9" fill="none" clip-path="url(#dclip)"/>
<path d="M381.00,335.00 C384.17,333.87 393.50,330.48 400.00,328.20 C406.50,325.92 408.33,326.23 420.00,321.30 C431.67,316.37 456.67,305.68 470.00,298.60 C483.33,291.52 490.08,286.35 500.00,278.80 C509.92,271.25 524.58,257.55 529.50,253.30" stroke="#000" stroke-width="1.05" fill="none" clip-path="url(#dclip)"/>
<path d="M381.00,335.50 C384.17,334.72 393.50,332.80 400.00,330.80 C406.50,328.80 408.33,328.27 420.00,323.50 C431.67,318.73 459.05,306.95 470.00,302.20 C480.95,297.45 478.20,299.37 485.70,295.00 C493.20,290.63 505.28,282.95 515.00,276.00 C524.72,269.05 539.17,257.08 544.00,253.30" stroke="#000" stroke-width="1.05" fill="none" clip-path="url(#dclip)"/>
<path d="M382.00,336.00 C385.00,335.43 393.67,334.20 400.00,332.60 C406.33,331.00 408.33,330.62 420.00,326.40 C431.67,322.18 457.58,312.53 470.00,307.30 C482.42,302.07 485.33,300.22 494.50,295.00 C503.67,289.78 514.82,282.95 525.00,276.00 C535.18,269.05 550.50,257.08 555.60,253.30" stroke="#000" stroke-width="1.05" fill="none" clip-path="url(#dclip)"/>
<path d="M382.00,336.50 C385.00,336.28 393.67,336.40 400.00,335.20 C406.33,334.00 408.33,333.33 420.00,329.30 C431.67,325.27 455.65,316.72 470.00,311.00 C484.35,305.28 491.10,302.87 506.10,295.00 C521.10,287.13 548.52,270.75 560.00,263.80 C571.48,256.85 572.50,255.05 575.00,253.30" stroke="#000" stroke-width="1.05" fill="none" clip-path="url(#dclip)"/>
<path d="M383.00,337.00 C385.83,337.13 393.83,338.43 400.00,337.80 C406.17,337.17 408.33,337.07 420.00,333.20 C431.67,329.33 453.33,320.23 470.00,314.60 C486.67,308.97 505.00,305.45 520.00,299.40 C535.00,293.35 545.67,285.98 560.00,278.30 C574.33,270.62 598.33,257.47 606.00,253.30" stroke="#000" stroke-width="1.05" fill="none" clip-path="url(#dclip)"/>
<path d="M381.50,335.50 C384.58,336.33 393.58,338.98 400.00,340.50 C406.42,342.02 411.83,343.75 420.00,344.60 C428.17,345.45 438.05,346.30 449.00,345.60 C459.95,344.90 473.87,342.75 485.70,340.40 C497.53,338.05 509.05,334.57 520.00,331.50 C530.95,328.43 538.07,326.13 551.40,322.00 C564.73,317.87 585.23,312.03 600.00,306.70 C614.77,301.37 626.27,296.23 640.00,290.00 C653.73,283.77 675.33,272.75 682.40,269.30" stroke="#000" stroke-width="1.05" fill="none" clip-path="url(#dclip)"/>
<path d="M381.50,336.00 C384.58,337.17 393.58,341.20 400.00,343.00 C406.42,344.80 412.05,345.80 420.00,346.80 C427.95,347.80 437.90,349.05 447.70,349.00 C457.50,348.95 466.75,348.08 478.80,346.50 C490.85,344.92 507.90,341.83 520.00,339.50 C532.10,337.17 541.40,334.98 551.40,332.50 C561.40,330.02 571.90,327.07 580.00,324.60 C588.10,322.13 590.00,321.80 600.00,317.70 C610.00,313.60 626.27,306.23 640.00,300.00 C653.73,293.77 675.33,283.58 682.40,280.30" stroke="#000" stroke-width="1.05" fill="none" clip-path="url(#dclip)"/>
<path d="M2.20,0 L-2.64,-2.20 L-2.64,2.20 Z" fill="#000" transform="translate(403.3,265.7) rotate(0)"/>
<path d="M2.20,0 L-2.64,-2.20 L-2.64,2.20 Z" fill="#000" transform="translate(403.3,272.5) rotate(0)"/>
<path d="M2.20,0 L-2.64,-2.20 L-2.64,2.20 Z" fill="#000" transform="translate(403.3,279.4) rotate(0)"/>
<line x1="400.9" y1="262.6" x2="400.9" y2="282.6" stroke="#000" stroke-width="0.6"/>
<path d="M423.2,319.9 L428.6,320.6 L426.1,323.8 Z" fill="#000"/>
<path d="M423.6,326.2 L429.0,326.9 L426.5,330.1 Z" fill="#000"/>
<path d="M424.2,332.3 L429.6,333.0 L427.1,336.2 Z" fill="#000"/>
<path d="M2.30,0 L-2.76,-2.30 L-2.76,2.30 Z" fill="#000" transform="translate(448.0,348.8) rotate(0)"/>
<path d="M350.8,264.6 L356.2,269.6 M356.2,264.6 L350.8,269.6" stroke="#333" stroke-width="0.8"/>
<path d="M345.8,328.6 L366.1,329.3" stroke="#e01010" stroke-width="0.8" stroke-dasharray="2.2 1.2"/>
<path d="M368.0,330.9 L380.2,338.4" stroke="#e41010" stroke-width="3.6"/>
<path d="M379.2,338 L403.8,358.6" stroke="#e01010" stroke-width="0.7" stroke-dasharray="2.2 1.2"/>
<rect x="357.8" y="327.3" width="2.2" height="2.2" fill="none" stroke="#e01010" stroke-width="0.6"/>
<rect x="383.2" y="340.3" width="2.2" height="2.2" fill="none" stroke="#e01010" stroke-width="0.6"/>
<rect x="391.1" y="347.1" width="2.2" height="2.2" fill="none" stroke="#e01010" stroke-width="0.6"/>
<path d="M337.3,247.9 H682.4 V452.6" stroke="#666" stroke-width="0.9" fill="none"/>
<path d="M337.3,247.9 V452.6 H682.4" stroke="#444" stroke-width="1.3" fill="none"/>
<line x1="337.10" y1="452.60" x2="337.10" y2="455.10" stroke="#777" stroke-width="0.6" />
<text x="337.6" y="462.8" font-size="6.8" font-family="'Liberation Serif', serif" fill="#555" text-anchor="middle" letter-spacing="1.0">-5</text>
<line x1="354.30" y1="452.60" x2="354.30" y2="455.10" stroke="#777" stroke-width="0.6" />
<text x="354.8" y="462.8" font-size="6.8" font-family="'Liberation Serif', serif" fill="#555" text-anchor="middle" letter-spacing="1.0">0</text>
<line x1="371.50" y1="452.60" x2="371.50" y2="455.10" stroke="#777" stroke-width="0.6" />
<text x="372.0" y="462.8" font-size="6.8" font-family="'Liberation Serif', serif" fill="#555" text-anchor="middle" letter-spacing="1.0">5</text>
<line x1="388.70" y1="452.60" x2="388.70" y2="455.10" stroke="#777" stroke-width="0.6" />
<text x="389.2" y="462.8" font-size="6.8" font-family="'Liberation Serif', serif" fill="#555" text-anchor="middle" letter-spacing="1.0">10</text>
<line x1="405.90" y1="452.60" x2="405.90" y2="455.10" stroke="#777" stroke-width="0.6" />
<text x="406.4" y="462.8" font-size="6.8" font-family="'Liberation Serif', serif" fill="#555" text-anchor="middle" letter-spacing="1.0">15</text>
<line x1="423.10" y1="452.60" x2="423.10" y2="455.10" stroke="#777" stroke-width="0.6" />
<text x="423.6" y="462.8" font-size="6.8" font-family="'Liberation Serif', serif" fill="#555" text-anchor="middle" letter-spacing="1.0">20</text>
<line x1="440.30" y1="452.60" x2="440.30" y2="455.10" stroke="#777" stroke-width="0.6" />
<text x="440.8" y="462.8" font-size="6.8" font-family="'Liberation Serif', serif" fill="#555" text-anchor="middle" letter-spacing="1.0">25</text>
<line x1="457.50" y1="452.60" x2="457.50" y2="455.10" stroke="#777" stroke-width="0.6" />
<text x="458.0" y="462.8" font-size="6.8" font-family="'Liberation Serif', serif" fill="#555" text-anchor="middle" letter-spacing="1.0">30</text>
<line x1="474.70" y1="452.60" x2="474.70" y2="455.10" stroke="#777" stroke-width="0.6" />
<text x="475.2" y="462.8" font-size="6.8" font-family="'Liberation Serif', serif" fill="#555" text-anchor="middle" letter-spacing="1.0">35</text>
<line x1="491.90" y1="452.60" x2="491.90" y2="455.10" stroke="#777" stroke-width="0.6" />
<text x="492.4" y="462.8" font-size="6.8" font-family="'Liberation Serif', serif" fill="#555" text-anchor="middle" letter-spacing="1.0">40</text>
<line x1="509.10" y1="452.60" x2="509.10" y2="455.10" stroke="#777" stroke-width="0.6" />
<text x="509.6" y="462.8" font-size="6.8" font-family="'Liberation Serif', serif" fill="#555" text-anchor="middle" letter-spacing="1.0">45</text>
<line x1="526.30" y1="452.60" x2="526.30" y2="455.10" stroke="#777" stroke-width="0.6" />
<text x="526.8" y="462.8" font-size="6.8" font-family="'Liberation Serif', serif" fill="#555" text-anchor="middle" letter-spacing="1.0">50</text>
<line x1="543.50" y1="452.60" x2="543.50" y2="455.10" stroke="#777" stroke-width="0.6" />
<text x="544.0" y="462.8" font-size="6.8" font-family="'Liberation Serif', serif" fill="#555" text-anchor="middle" letter-spacing="1.0">55</text>
<line x1="560.70" y1="452.60" x2="560.70" y2="455.10" stroke="#777" stroke-width="0.6" />
<text x="561.2" y="462.8" font-size="6.8" font-family="'Liberation Serif', serif" fill="#555" text-anchor="middle" letter-spacing="1.0">60</text>
<line x1="577.90" y1="452.60" x2="577.90" y2="455.10" stroke="#777" stroke-width="0.6" />
<text x="578.4" y="462.8" font-size="6.8" font-family="'Liberation Serif', serif" fill="#555" text-anchor="middle" letter-spacing="1.0">65</text>
<line x1="595.10" y1="452.60" x2="595.10" y2="455.10" stroke="#777" stroke-width="0.6" />
<text x="595.6" y="462.8" font-size="6.8" font-family="'Liberation Serif', serif" fill="#555" text-anchor="middle" letter-spacing="1.0">70</text>
<line x1="612.30" y1="452.60" x2="612.30" y2="455.10" stroke="#777" stroke-width="0.6" />
<text x="612.8" y="462.8" font-size="6.8" font-family="'Liberation Serif', serif" fill="#555" text-anchor="middle" letter-spacing="1.0">75</text>
<line x1="629.50" y1="452.60" x2="629.50" y2="455.10" stroke="#777" stroke-width="0.6" />
<text x="630.0" y="462.8" font-size="6.8" font-family="'Liberation Serif', serif" fill="#555" text-anchor="middle" letter-spacing="1.0">80</text>
<line x1="646.70" y1="452.60" x2="646.70" y2="455.10" stroke="#777" stroke-width="0.6" />
<text x="647.2" y="462.8" font-size="6.8" font-family="'Liberation Serif', serif" fill="#555" text-anchor="middle" letter-spacing="1.0">85</text>
<line x1="663.90" y1="452.60" x2="663.90" y2="455.10" stroke="#777" stroke-width="0.6" />
<text x="664.4" y="462.8" font-size="6.8" font-family="'Liberation Serif', serif" fill="#555" text-anchor="middle" letter-spacing="1.0">90</text>
<line x1="681.10" y1="452.60" x2="681.10" y2="455.10" stroke="#777" stroke-width="0.6" />
<text x="681.6" y="462.8" font-size="6.8" font-family="'Liberation Serif', serif" fill="#555" text-anchor="middle" letter-spacing="1.0">95</text>
<line x1="334.30" y1="248.10" x2="337.30" y2="248.10" stroke="#777" stroke-width="0.6" />
<text x="330.2" y="250.4" font-size="6.8" font-family="'Liberation Serif', serif" fill="#555" text-anchor="end" letter-spacing="1.0">0</text>
<line x1="334.30" y1="282.20" x2="337.30" y2="282.20" stroke="#777" stroke-width="0.6" />
<text x="330.2" y="284.5" font-size="6.8" font-family="'Liberation Serif', serif" fill="#555" text-anchor="end" letter-spacing="1.0">5</text>
<line x1="334.30" y1="316.30" x2="337.30" y2="316.30" stroke="#777" stroke-width="0.6" />
<text x="330.2" y="318.6" font-size="6.8" font-family="'Liberation Serif', serif" fill="#555" text-anchor="end" letter-spacing="1.0">10</text>
<line x1="334.30" y1="350.40" x2="337.30" y2="350.40" stroke="#777" stroke-width="0.6" />
<text x="330.2" y="352.7" font-size="6.8" font-family="'Liberation Serif', serif" fill="#555" text-anchor="end" letter-spacing="1.0">15</text>
<line x1="334.30" y1="384.50" x2="337.30" y2="384.50" stroke="#777" stroke-width="0.6" />
<text x="330.2" y="386.8" font-size="6.8" font-family="'Liberation Serif', serif" fill="#555" text-anchor="end" letter-spacing="1.0">20</text>
<line x1="334.30" y1="418.60" x2="337.30" y2="418.60" stroke="#777" stroke-width="0.6" />
<text x="330.2" y="420.9" font-size="6.8" font-family="'Liberation Serif', serif" fill="#555" text-anchor="end" letter-spacing="1.0">25</text>
<line x1="334.30" y1="452.70" x2="337.30" y2="452.70" stroke="#777" stroke-width="0.6" />
<text x="330.2" y="455.0" font-size="6.8" font-family="'Liberation Serif', serif" fill="#555" text-anchor="end" letter-spacing="1.0">30</text>
<text x="0.0" y="0.0" font-size="12.5" font-family="'Liberation Serif', serif" fill="#333" text-anchor="start" transform="translate(318.8,375.6) rotate(-90)" letter-spacing="0.25">Depth  (km)</text>
<text x="473.8" y="474.6" font-size="12.6" font-family="'Liberation Serif', serif" fill="#333" text-anchor="start" letter-spacing="1.03">Distance</text>
<text x="540.2" y="474.6" font-size="12.6" font-family="'Liberation Serif', serif" fill="#333" text-anchor="start" letter-spacing="0.5">(km)</text>
<text x="337.3" y="239.8" font-size="12.8" font-family="'Liberation Sans', sans-serif" fill="#222" text-anchor="start" >( d )</text>
<text x="410.5" y="273.6" font-size="10" font-family="'Liberation Sans', sans-serif" fill="#222" text-anchor="start" >Pg</text>
<text x="418.8" y="317.8" font-size="10" font-family="'Liberation Sans', sans-serif" fill="#222" text-anchor="start" >Px</text>
<path d="M427.1,247.3 L433.3,247.3 L430.2,240.4 Z" fill="#fff000" stroke="#7a7000" stroke-width="0.5"/>
<path d="M433.4,247.3 L439.7,247.3 L436.6,240.4 Z" fill="#fff000" stroke="#7a7000" stroke-width="0.5"/>
<path d="M439.8,247.3 L446.0,247.3 L442.9,240.4 Z" fill="#fff000" stroke="#7a7000" stroke-width="0.5"/>
<path d="M446.1,247.3 L452.4,247.3 L449.2,240.4 Z" fill="#fff000" stroke="#7a7000" stroke-width="0.5"/>
<path d="M452.5,247.3 L458.7,247.3 L455.6,240.4 Z" fill="#fff000" stroke="#7a7000" stroke-width="0.5"/>
<path d="M458.8,247.3 L465.1,247.3 L461.9,240.4 Z" fill="#fff000" stroke="#7a7000" stroke-width="0.5"/>
<path d="M465.2,247.3 L471.4,247.3 L468.3,240.4 Z" fill="#fff000" stroke="#7a7000" stroke-width="0.5"/>
<path d="M471.5,247.3 L477.8,247.3 L474.6,240.4 Z" fill="#fff000" stroke="#7a7000" stroke-width="0.5"/>
<path d="M477.9,247.3 L484.1,247.3 L481.0,240.4 Z" fill="#fff000" stroke="#7a7000" stroke-width="0.5"/>
<path d="M484.2,247.3 L490.4,247.3 L487.3,240.4 Z" fill="#fff000" stroke="#7a7000" stroke-width="0.5"/>
<path d="M490.6,247.3 L496.8,247.3 L493.7,240.4 Z" fill="#fff000" stroke="#7a7000" stroke-width="0.5"/>
<path d="M496.9,247.3 L503.1,247.3 L500.0,240.4 Z" fill="#fff000" stroke="#7a7000" stroke-width="0.5"/>
<text x="441.3" y="238.4" font-size="12.8" font-family="'Liberation Sans', sans-serif" fill="#222" text-anchor="start" letter-spacing="0.25">Stations</text>
<rect x="600.8" y="334.0" width="74.7" height="112.5" fill="#fff" stroke="#777" stroke-width="0.8"/>
<text x="600.0" y="330.2" font-size="5" font-family="'Liberation Sans', sans-serif" fill="#333" text-anchor="middle" font-weight="bold">4</text>
<text x="625.2" y="330.2" font-size="5" font-family="'Liberation Sans', sans-serif" fill="#333" text-anchor="middle" font-weight="bold">5</text>
<text x="650.4" y="330.2" font-size="5" font-family="'Liberation Sans', sans-serif" fill="#333" text-anchor="middle" font-weight="bold">6</text>
<text x="675.6" y="330.2" font-size="5" font-family="'Liberation Sans', sans-serif" fill="#333" text-anchor="middle" font-weight="bold">7</text>
<text x="597.0" y="335.8" font-size="5" font-family="'Liberation Sans', sans-serif" fill="#333" text-anchor="end" font-weight="bold">0</text>
<text x="597.0" y="392.1" font-size="5" font-family="'Liberation Sans', sans-serif" fill="#333" text-anchor="end" font-weight="bold">10</text>
<text x="597.0" y="448.3" font-size="5" font-family="'Liberation Sans', sans-serif" fill="#333" text-anchor="end" font-weight="bold">20</text>
<text x="604.3" y="323.3" font-size="8.6" font-family="'Liberation Sans', sans-serif" fill="#222" text-anchor="start" font-weight="bold" letter-spacing="0.25">Velocity  (km/s)</text>
<text x="0.0" y="0.0" font-size="8.6" font-family="'Liberation Sans', sans-serif" fill="#222" text-anchor="middle" font-weight="bold" transform="translate(588,389) rotate(-90)">Depth (km)</text>
<path d="M625.3,334 L639.3,402.7 L648,402.7 L652.9,446.5" stroke="#111" stroke-width="1.15" fill="none"/>
<circle cx="625.3" cy="334.6" r="1.2" fill="#111"/>
<circle cx="639.3" cy="402.7" r="1.2" fill="#111"/>
<circle cx="648" cy="402.7" r="1.2" fill="#111"/>
<text x="644.9" y="377.6" font-size="12" font-family="'Liberation Serif', serif" fill="#222" text-anchor="middle" >Vp</text>
<text x="606.8" y="437.6" font-size="12.8" font-family="'Liberation Sans', sans-serif" fill="#222" text-anchor="start" >( e )</text>
</svg>
</body></html>
